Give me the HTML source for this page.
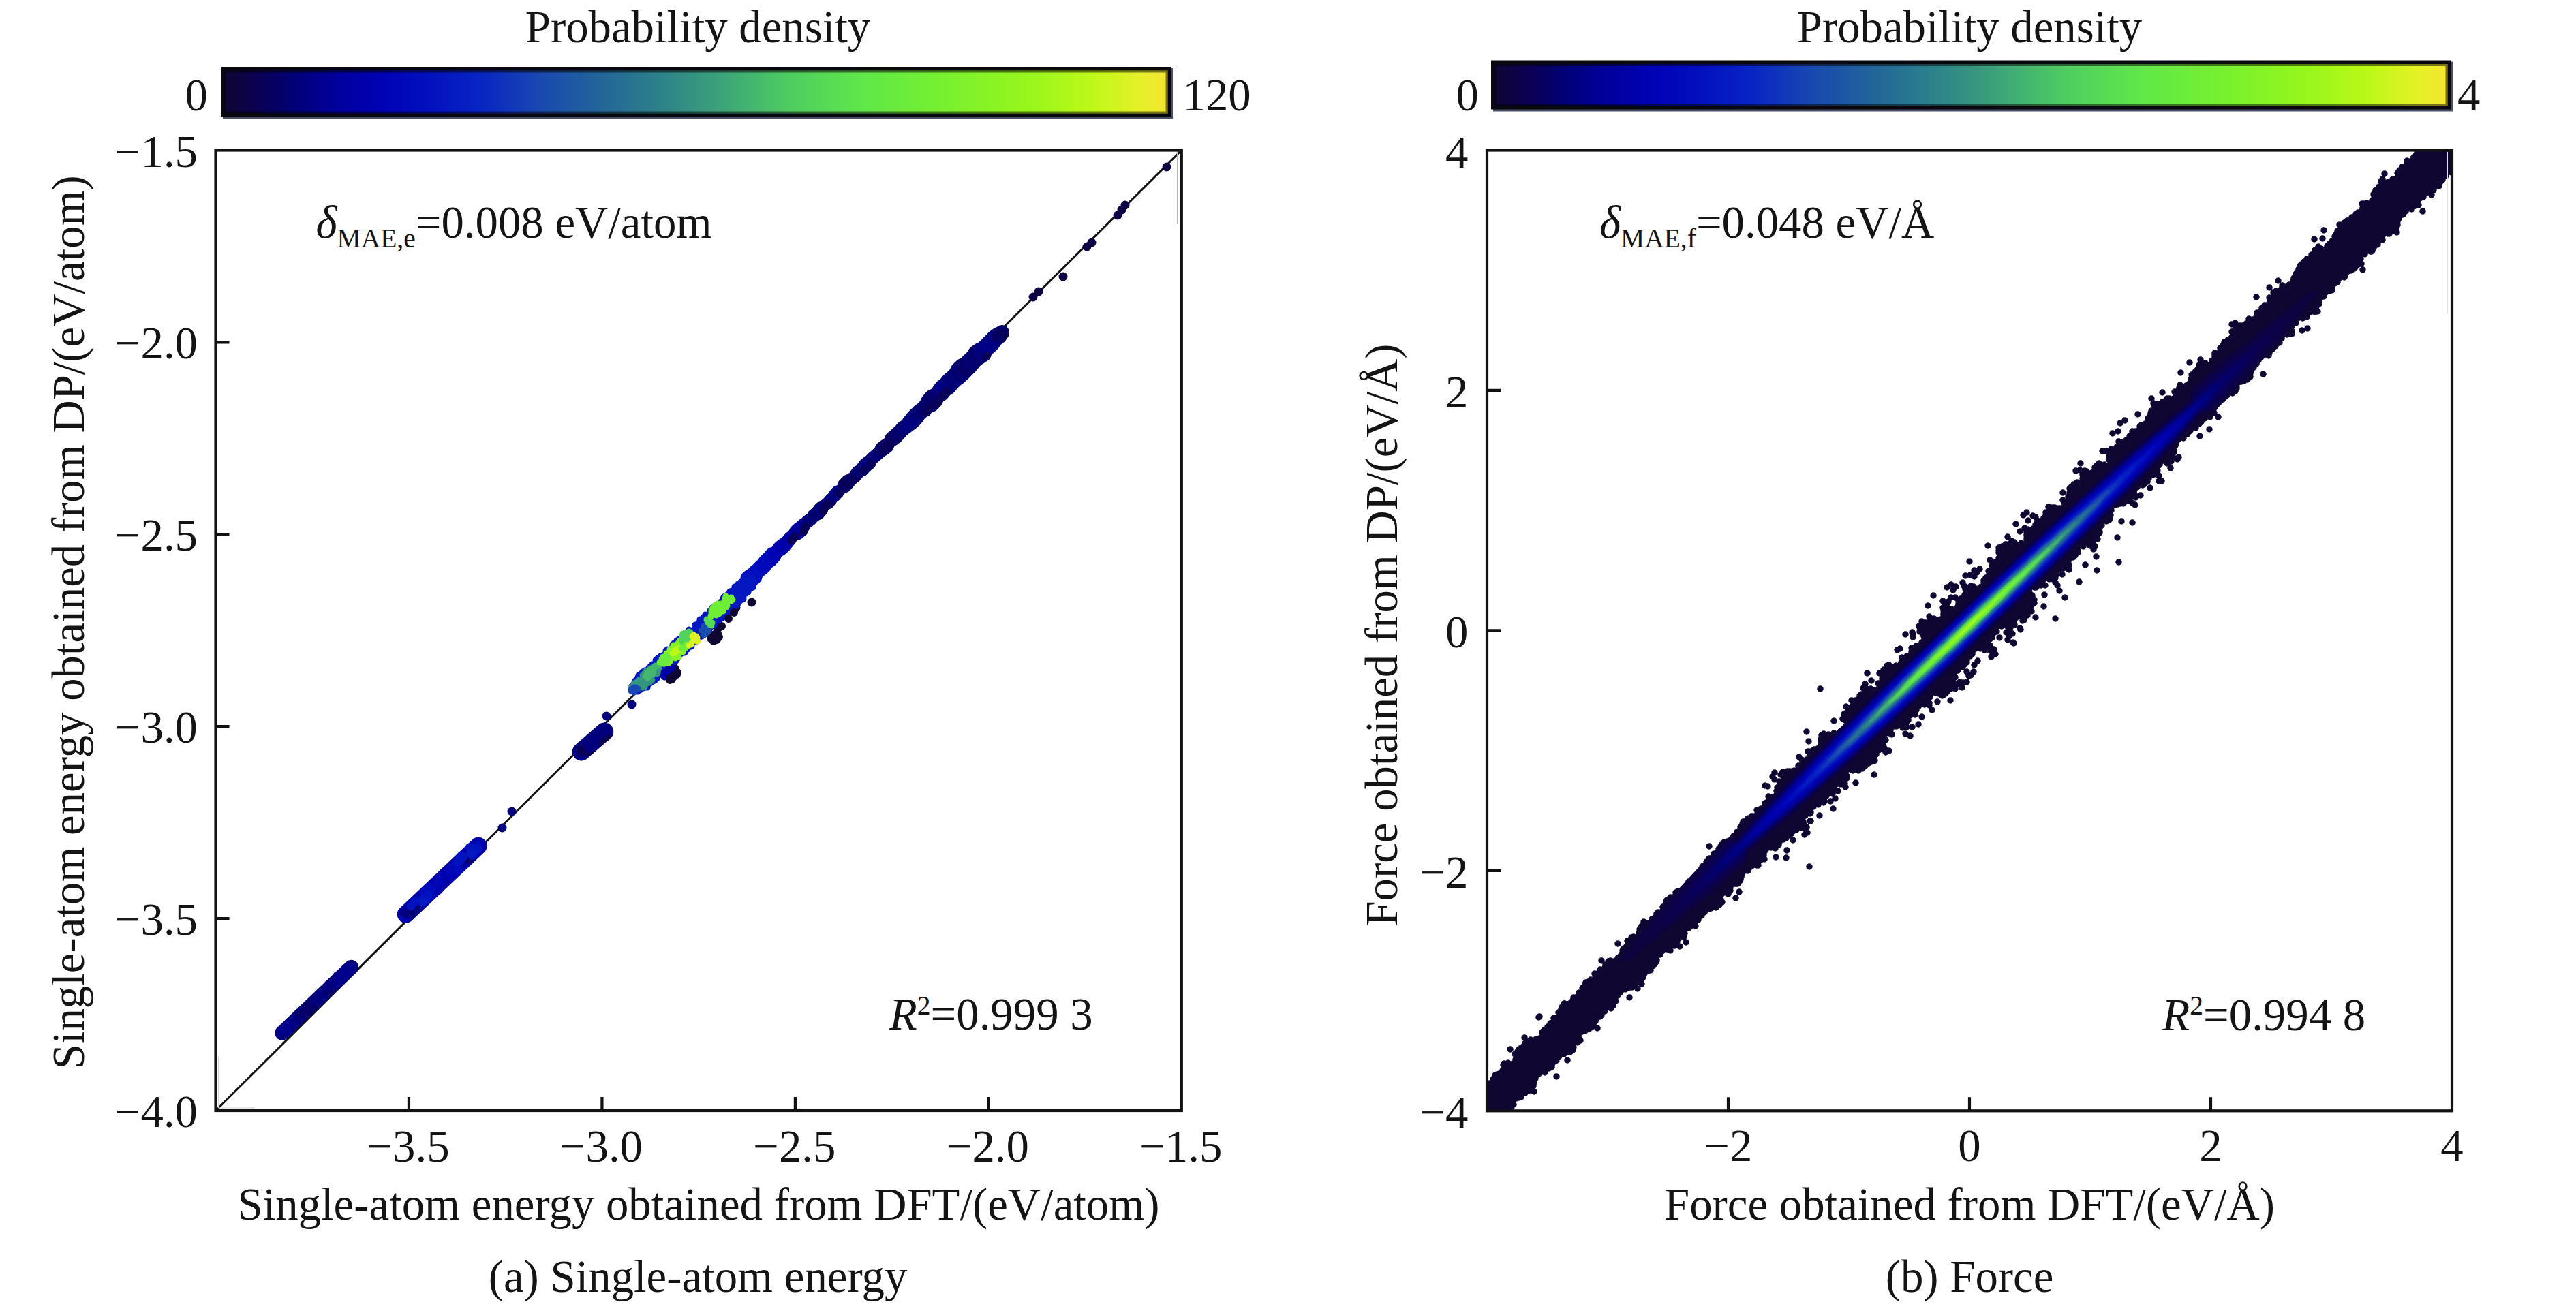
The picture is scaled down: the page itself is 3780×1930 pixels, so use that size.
<!DOCTYPE html>
<html><head><meta charset="utf-8"><title>Figure</title>
<style>html,body{margin:0;padding:0;background:#fff}svg{display:block}text{font-family:"Liberation Serif","Times New Roman",serif;fill:#141414;font-size:66.8px}.s{font-size:39.5px}.i{font-style:italic}</style></head><body>
<svg width="3780" height="1930" viewBox="0 0 3780 1930">
<rect width="3780" height="1930" fill="#fff"/>
<defs><linearGradient id="cm" x1="0" x2="1" y1="0" y2="0"><stop offset="0.000" stop-color="#100632"/><stop offset="0.035" stop-color="#0a0052"/><stop offset="0.075" stop-color="#020078"/><stop offset="0.120" stop-color="#00009e"/><stop offset="0.165" stop-color="#0002b4"/><stop offset="0.210" stop-color="#020ebe"/><stop offset="0.270" stop-color="#0824c4"/><stop offset="0.330" stop-color="#1846b2"/><stop offset="0.400" stop-color="#226698"/><stop offset="0.470" stop-color="#2e8688"/><stop offset="0.530" stop-color="#3ca578"/><stop offset="0.600" stop-color="#4ecd60"/><stop offset="0.680" stop-color="#60e848"/><stop offset="0.760" stop-color="#76f030"/><stop offset="0.850" stop-color="#96f61c"/><stop offset="0.920" stop-color="#bef818"/><stop offset="0.970" stop-color="#e6f028"/><stop offset="1.000" stop-color="#f4e430"/></linearGradient></defs>
<rect x="327" y="100" width="1394" height="74" fill="#4b5068"/><rect x="324" y="98" width="1394" height="73" fill="#08080e"/><rect x="328.5" y="103.5" width="1385" height="63" fill="url(#cm)"/><rect x="330" y="105" width="1382" height="60" fill="none" stroke="#000" stroke-opacity="0.5" stroke-width="3"/>
<text x="1024" y="61.5" text-anchor="middle">Probability density</text>
<text x="305" y="162.3" text-anchor="end">0</text><text x="1735.5" y="162.3">120</text>
<line x1="316.5" y1="1630" x2="1733.8" y2="220.5" stroke="#111" stroke-width="3"/>
<line x1="414.0" y1="1516.0" x2="515.5" y2="1419.5" stroke="#02007d" stroke-width="21.5" stroke-linecap="round"/>
<line x1="595.5" y1="1342.0" x2="702.0" y2="1241.5" stroke="#0001ad" stroke-width="25.5" stroke-linecap="round"/>
<line x1="853.0" y1="1103.3" x2="887.0" y2="1073.8" stroke="#02007d" stroke-width="26.5" stroke-linecap="round"/>
<line x1="1099.6" y1="849.6" x2="1105.5" y2="845.6" stroke="#0312bf" stroke-width="26.4" stroke-linecap="round"/>
<line x1="1105.5" y1="845.6" x2="1109.6" y2="839.8" stroke="#0414c0" stroke-width="23.5" stroke-linecap="round"/>
<line x1="1109.6" y1="839.8" x2="1114.8" y2="835.1" stroke="#020bbc" stroke-width="20.4" stroke-linecap="round"/>
<line x1="1114.8" y1="835.1" x2="1120.1" y2="830.5" stroke="#020fbe" stroke-width="23.7" stroke-linecap="round"/>
<line x1="1120.1" y1="830.5" x2="1124.2" y2="824.7" stroke="#010abb" stroke-width="21.0" stroke-linecap="round"/>
<line x1="1124.2" y1="824.7" x2="1129.7" y2="820.3" stroke="#0108b9" stroke-width="23.6" stroke-linecap="round"/>
<line x1="1129.7" y1="820.3" x2="1134.3" y2="815.0" stroke="#0109b9" stroke-width="24.4" stroke-linecap="round"/>
<line x1="1134.3" y1="815.0" x2="1139.4" y2="810.2" stroke="#0004b6" stroke-width="16.8" stroke-linecap="round"/>
<line x1="1139.4" y1="810.2" x2="1144.4" y2="805.3" stroke="#0002b1" stroke-width="20.5" stroke-linecap="round"/>
<line x1="1144.4" y1="805.3" x2="1149.7" y2="800.7" stroke="#0002b3" stroke-width="22.5" stroke-linecap="round"/>
<line x1="1149.7" y1="800.7" x2="1154.9" y2="796.0" stroke="#0001ab" stroke-width="20.2" stroke-linecap="round"/>
<line x1="1154.9" y1="796.0" x2="1159.3" y2="790.5" stroke="#0001a9" stroke-width="20.4" stroke-linecap="round"/>
<line x1="1159.3" y1="790.5" x2="1164.0" y2="785.3" stroke="#0001a5" stroke-width="18.8" stroke-linecap="round"/>
<line x1="1164.0" y1="785.3" x2="1169.6" y2="781.0" stroke="#0000a3" stroke-width="18.2" stroke-linecap="round"/>
<line x1="1169.6" y1="781.0" x2="1174.8" y2="776.3" stroke="#000096" stroke-width="23.5" stroke-linecap="round"/>
<line x1="1174.8" y1="776.3" x2="1179.3" y2="770.9" stroke="#00009c" stroke-width="20.9" stroke-linecap="round"/>
<line x1="1179.3" y1="770.9" x2="1184.3" y2="766.0" stroke="#010093" stroke-width="16.8" stroke-linecap="round"/>
<line x1="1184.3" y1="766.0" x2="1190.0" y2="761.8" stroke="#020081" stroke-width="19.1" stroke-linecap="round"/>
<line x1="1190.0" y1="761.8" x2="1194.5" y2="756.5" stroke="#020076" stroke-width="17.8" stroke-linecap="round"/>
<line x1="1194.5" y1="756.5" x2="1200.4" y2="752.4" stroke="#030074" stroke-width="20.0" stroke-linecap="round"/>
<line x1="1200.4" y1="752.4" x2="1204.7" y2="746.9" stroke="#04006f" stroke-width="21.3" stroke-linecap="round"/>
<line x1="1204.7" y1="746.9" x2="1209.7" y2="741.9" stroke="#02007e" stroke-width="15.7" stroke-linecap="round"/>
<line x1="1209.7" y1="741.9" x2="1215.4" y2="737.7" stroke="#02007b" stroke-width="17.7" stroke-linecap="round"/>
<line x1="1215.4" y1="737.7" x2="1219.9" y2="732.4" stroke="#02007b" stroke-width="18.5" stroke-linecap="round"/>
<line x1="1219.9" y1="732.4" x2="1224.7" y2="727.2" stroke="#010085" stroke-width="16.4" stroke-linecap="round"/>
<line x1="1224.7" y1="727.2" x2="1229.2" y2="721.9" stroke="#010082" stroke-width="19.2" stroke-linecap="round"/>
<line x1="1229.2" y1="721.9" x2="1235.2" y2="718.0" stroke="#02007d" stroke-width="15.5" stroke-linecap="round"/>
<line x1="1235.2" y1="718.0" x2="1239.5" y2="712.4" stroke="#040070" stroke-width="14.0" stroke-linecap="round"/>
<line x1="1239.5" y1="712.4" x2="1244.3" y2="707.2" stroke="#060063" stroke-width="21.5" stroke-linecap="round"/>
<line x1="1244.3" y1="707.2" x2="1249.8" y2="702.8" stroke="#090057" stroke-width="18.8" stroke-linecap="round"/>
<line x1="1249.8" y1="702.8" x2="1255.2" y2="698.4" stroke="#05006a" stroke-width="17.1" stroke-linecap="round"/>
<line x1="1255.2" y1="698.4" x2="1259.3" y2="692.5" stroke="#05006a" stroke-width="19.4" stroke-linecap="round"/>
<line x1="1259.3" y1="692.5" x2="1265.3" y2="688.7" stroke="#030074" stroke-width="16.1" stroke-linecap="round"/>
<line x1="1265.3" y1="688.7" x2="1269.8" y2="683.3" stroke="#030074" stroke-width="20.8" stroke-linecap="round"/>
<line x1="1269.8" y1="683.3" x2="1275.2" y2="678.8" stroke="#02007b" stroke-width="21.3" stroke-linecap="round"/>
<line x1="1275.2" y1="678.8" x2="1279.5" y2="673.1" stroke="#010082" stroke-width="16.6" stroke-linecap="round"/>
<line x1="1279.5" y1="673.1" x2="1284.9" y2="668.7" stroke="#030075" stroke-width="18.8" stroke-linecap="round"/>
<line x1="1284.9" y1="668.7" x2="1290.1" y2="664.0" stroke="#030071" stroke-width="18.7" stroke-linecap="round"/>
<line x1="1290.1" y1="664.0" x2="1294.8" y2="658.8" stroke="#030074" stroke-width="19.3" stroke-linecap="round"/>
<line x1="1294.8" y1="658.8" x2="1300.5" y2="654.6" stroke="#060064" stroke-width="22.1" stroke-linecap="round"/>
<line x1="1300.5" y1="654.6" x2="1305.0" y2="649.2" stroke="#08005a" stroke-width="18.9" stroke-linecap="round"/>
<line x1="1305.0" y1="649.2" x2="1309.6" y2="643.9" stroke="#070060" stroke-width="18.4" stroke-linecap="round"/>
<line x1="1309.6" y1="643.9" x2="1315.1" y2="639.4" stroke="#08005c" stroke-width="22.5" stroke-linecap="round"/>
<line x1="1315.1" y1="639.4" x2="1320.0" y2="634.4" stroke="#060064" stroke-width="21.8" stroke-linecap="round"/>
<line x1="1320.0" y1="634.4" x2="1324.7" y2="629.3" stroke="#04006e" stroke-width="21.4" stroke-linecap="round"/>
<line x1="1324.7" y1="629.3" x2="1330.6" y2="625.3" stroke="#030071" stroke-width="21.9" stroke-linecap="round"/>
<line x1="1330.6" y1="625.3" x2="1335.5" y2="620.3" stroke="#010082" stroke-width="19.1" stroke-linecap="round"/>
<line x1="1335.5" y1="620.3" x2="1340.4" y2="615.3" stroke="#02007a" stroke-width="24.1" stroke-linecap="round"/>
<line x1="1340.4" y1="615.3" x2="1345.0" y2="610.0" stroke="#02007e" stroke-width="25.1" stroke-linecap="round"/>
<line x1="1345.0" y1="610.0" x2="1349.7" y2="604.7" stroke="#020078" stroke-width="22.3" stroke-linecap="round"/>
<line x1="1349.7" y1="604.7" x2="1355.4" y2="600.6" stroke="#030072" stroke-width="23.8" stroke-linecap="round"/>
<line x1="1355.4" y1="600.6" x2="1360.2" y2="595.5" stroke="#040070" stroke-width="22.9" stroke-linecap="round"/>
<line x1="1360.2" y1="595.5" x2="1365.3" y2="590.6" stroke="#050068" stroke-width="25.0" stroke-linecap="round"/>
<line x1="1365.3" y1="590.6" x2="1369.9" y2="585.4" stroke="#05006b" stroke-width="29.3" stroke-linecap="round"/>
<line x1="1369.9" y1="585.4" x2="1374.8" y2="580.3" stroke="#060064" stroke-width="24.5" stroke-linecap="round"/>
<line x1="1374.8" y1="580.3" x2="1380.0" y2="575.7" stroke="#030072" stroke-width="22.5" stroke-linecap="round"/>
<line x1="1380.0" y1="575.7" x2="1384.3" y2="570.0" stroke="#040070" stroke-width="27.3" stroke-linecap="round"/>
<line x1="1384.3" y1="570.0" x2="1390.1" y2="566.0" stroke="#010088" stroke-width="26.2" stroke-linecap="round"/>
<line x1="1390.1" y1="566.0" x2="1394.5" y2="560.5" stroke="#010087" stroke-width="28.0" stroke-linecap="round"/>
<line x1="1394.5" y1="560.5" x2="1399.7" y2="555.8" stroke="#02007a" stroke-width="27.6" stroke-linecap="round"/>
<line x1="1399.7" y1="555.8" x2="1404.9" y2="551.1" stroke="#030072" stroke-width="24.2" stroke-linecap="round"/>
<line x1="1404.9" y1="551.1" x2="1409.3" y2="545.5" stroke="#02007d" stroke-width="28.8" stroke-linecap="round"/>
<line x1="1409.3" y1="545.5" x2="1414.2" y2="540.6" stroke="#030072" stroke-width="30.9" stroke-linecap="round"/>
<line x1="1414.2" y1="540.6" x2="1420.0" y2="536.5" stroke="#05006b" stroke-width="27.8" stroke-linecap="round"/>
<line x1="1420.0" y1="536.5" x2="1424.6" y2="531.2" stroke="#050068" stroke-width="28.7" stroke-linecap="round"/>
<line x1="1424.6" y1="531.2" x2="1429.5" y2="526.2" stroke="#04006d" stroke-width="26.7" stroke-linecap="round"/>
<line x1="1429.5" y1="526.2" x2="1434.3" y2="521.1" stroke="#030073" stroke-width="28.0" stroke-linecap="round"/>
<line x1="1434.3" y1="521.1" x2="1440.2" y2="517.1" stroke="#05006b" stroke-width="30.3" stroke-linecap="round"/>
<line x1="1440.2" y1="517.1" x2="1444.5" y2="511.5" stroke="#02007a" stroke-width="24.9" stroke-linecap="round"/>
<line x1="1444.5" y1="511.5" x2="1450.1" y2="507.2" stroke="#02007d" stroke-width="23.9" stroke-linecap="round"/>
<line x1="1450.1" y1="507.2" x2="1455.1" y2="502.3" stroke="#01008a" stroke-width="26.6" stroke-linecap="round"/>
<line x1="1455.1" y1="502.3" x2="1459.5" y2="496.8" stroke="#010082" stroke-width="23.8" stroke-linecap="round"/>
<line x1="1459.5" y1="496.8" x2="1465.2" y2="492.6" stroke="#020080" stroke-width="25.3" stroke-linecap="round"/>
<line x1="1465.2" y1="492.6" x2="1470.2" y2="487.7" stroke="#060065" stroke-width="21.6" stroke-linecap="round"/>
<path d="M1103 884h0M1080 892h0M1073 896h0M1048 932h0M1053 923h0M1045 938h0M985 987h0M990 981h0M978 991h0" stroke="#100632" stroke-width="13" stroke-linecap="round" fill="none"/>
<path d="M879 1085h0M1516 436h0M1524 428h0M1560 406h0M1595 362h0M1602 356h0M1640 316h0M1646 308h0M1651 301h0M1712 245h0M876 1090h0M889 1082h0M858 1101h0M866 1101h0M857 1103h0M864 1102h0M861 1100h0M879 1088h0M854 1102h0M872 1091h0M880 1088h0M859 1097h0" stroke="#0d0344" stroke-width="13" stroke-linecap="round" fill="none"/>
<path d="M1162 793h0M1166 788h0M1179 780h0M1182 774h0M1208 750h0M1211 743h0M1217 740h0M1232 724h0M1252 705h0M1267 690h0M1278 682h0M1297 661h0M1307 652h0M1360 605h0M1364 599h0M1376 591h0M1379 585h0M1384 579h0M1390 575h0M1447 523h0M1474 491h0M855 1097h0M852 1101h0M854 1098h0M856 1103h0M451 1484h0M449 1478h0M454 1482h0M451 1485h0" stroke="#090057" stroke-width="13" stroke-linecap="round" fill="none"/>
<path d="M689 1257h0M454 1477h0M690 1262h0M676 1267h0M453 1478h0M457 1474h0M447 1487h0M446 1486h0M689 1261h0M463 1475h0M479 1453h0M480 1448h0M440 1495h0M459 1470h0M443 1491h0M693 1258h0M460 1477h0M686 1261h0M444 1487h0M476 1452h0M439 1498h0M485 1455h0M472 1456h0M473 1458h0M436 1489h0M463 1470h0M442 1491h0" stroke="#05006a" stroke-width="13" stroke-linecap="round" fill="none"/>
<path d="M872 1094h0M611 1328h0M866 1091h0M870 1084h0M876 1079h0M881 1073h0M463 1469h0M873 1093h0M600 1339h0M469 1458h0M600 1342h0M594 1340h0M432 1495h0M482 1448h0M878 1074h0M860 1092h0M607 1338h0M485 1444h0M883 1077h0M428 1503h0M438 1499h0M868 1094h0M881 1071h0M602 1332h0M616 1324h0M872 1082h0M474 1453h0M615 1325h0M492 1445h0M864 1087h0M610 1336h0M873 1088h0M482 1445h0M871 1081h0M869 1087h0M882 1079h0M472 1465h0M429 1499h0M886 1073h0M606 1340h0M866 1091h0M431 1497h0M876 1076h0M613 1334h0M868 1097h0M495 1432h0M468 1459h0M469 1470h0M861 1091h0M422 1505h0M495 1443h0M427 1500h0M488 1446h0M468 1467h0M604 1341h0M425 1512h0M879 1076h0M602 1342h0M502 1428h0M878 1078h0M470 1468h0M737 1215h0M751 1191h0M890 1051h0M927 1034h0M877 1081h0M616 1324h0M414 1515h0M489 1440h0M426 1505h0M507 1434h0M886 1076h0M417 1508h0M609 1331h0M496 1434h0M864 1094h0M865 1099h0" stroke="#02007c" stroke-width="13" stroke-linecap="round" fill="none"/>
<path d="M498 1433h0M423 1505h0M415 1511h0M414 1512h0M424 1513h0M499 1440h0M508 1426h0M496 1442h0M507 1422h0M502 1432h0M507 1430h0M513 1425h0M510 1421h0M514 1420h0M514 1423h0" stroke="#01008d" stroke-width="13" stroke-linecap="round" fill="none"/>
<path d="M638 1306h0M652 1294h0M644 1301h0" stroke="#00009e" stroke-width="13" stroke-linecap="round" fill="none"/>
<path d="M640 1303h0M644 1306h0M651 1285h0M652 1284h0" stroke="#0001a8" stroke-width="13" stroke-linecap="round" fill="none"/>
<path d="M651 1281h0M643 1293h0M657 1284h0M650 1287h0M654 1278h0M638 1294h0M642 1289h0M647 1295h0M647 1285h0M654 1283h0M662 1284h0M644 1288h0M637 1302h0M665 1283h0" stroke="#0002b2" stroke-width="13" stroke-linecap="round" fill="none"/>
<path d="M667 1281h0M642 1296h0M661 1280h0M664 1270h0M634 1303h0M666 1273h0M669 1279h0M667 1269h0M631 1302h0M667 1279h0" stroke="#0106b7" stroke-width="13" stroke-linecap="round" fill="none"/>
<path d="M670 1268h0M672 1269h0M701 1241h0M673 1275h0M633 1307h0M701 1244h0M629 1305h0M623 1309h0M623 1308h0M626 1306h0M627 1305h0M698 1245h0M675 1263h0M677 1260h0M677 1256h0M676 1264h0" stroke="#020bbc" stroke-width="13" stroke-linecap="round" fill="none"/>
<path d="M629 1313h0M701 1246h0M672 1265h0M689 1244h0M608 1324h0M676 1260h0M603 1330h0M693 1256h0M623 1320h0M698 1248h0M621 1320h0M625 1316h0M680 1257h0M627 1319h0M620 1324h0M610 1322h0M695 1254h0M695 1251h0M692 1244h0M622 1317h0" stroke="#0312bf" stroke-width="13" stroke-linecap="round" fill="none"/>
<path d="M621 1323h0M691 1252h0" stroke="#0519c1" stroke-width="13" stroke-linecap="round" fill="none"/>
<path d="M928 1012h0M928 1012h0M927 1010h0M931 1014h0M928 1010h0M928 1010h0M930 1012h0M934 1015h0M927 1007h0M933 1013h0M932 1011h0M928 1006h0M936 1015h0M936 1014h0M931 1008h0M930 1007h0M935 1011h0M936 1012h0M936 1012h0M934 1010h0M937 1012h0M939 1013h0M933 1006h0M932 1005h0M937 1010h0M931 1003h0M937 1008h0M933 1004h0M931 1001h0M936 1006h0M938 1008h0M937 1006h0M934 1003h0M940 1008h0M932 999h0M940 1008h0M935 1002h0M944 1010h0M933 998h0M938 1003h0M935 1000h0M943 1007h0M936 999h0M938 1001h0M937 999h0M944 1007h0M947 1009h0M937 998h0M940 1001h0M948 1009h0M940 1000h0M949 1009h0M936 994h0M941 999h0M949 1007h0M950 1009h0M941 997h0M950 1007h0M937 992h0M942 998h0M942 997h0M937 991h0M943 997h0M940 993h0M941 994h0M950 1003h0M945 997h0M946 997h0M953 1004h0M944 995h0M940 989h0M952 1002h0M941 989h0M941 989h0M944 992h0M954 1002h0M945 992h0M950 997h0M952 999h0M946 991h0M953 999h0M952 997h0M943 986h0M950 994h0M957 1001h0M947 990h0M951 993h0M947 988h0M955 997h0M956 997h0M949 990h0M950 990h0M946 985h0M956 996h0M946 984h0M954 992h0M960 999h0M961 999h0M948 984h0M954 990h0M954 989h0M953 989h0M958 992h0M960 995h0M950 983h0M953 986h0M954 987h0M952 984h0M953 984h0M962 994h0M954 985h0M964 996h0M953 983h0M960 989h0M952 980h0M963 992h0M965 993h0M956 983h0M954 981h0M961 987h0M958 983h0M959 984h0M964 990h0M954 978h0M962 986h0M959 982h0M956 979h0M963 985h0M957 979h0M959 981h0M957 978h0M958 978h0M963 983h0M957 976h0M964 983h0M957 975h0M966 985h0M961 978h0M971 989h0M965 982h0M963 979h0M972 989h0M960 975h0M961 975h0M971 986h0M971 985h0M972 986h0M961 974h0M967 980h0M973 985h0M969 981h0M967 978h0M964 975h0M974 985h0M968 977h0M975 985h0M963 971h0M976 984h0M962 969h0M968 974h0M971 978h0M965 970h0M966 971h0M975 981h0M966 970h0M969 973h0M969 973h0M967 970h0M978 981h0M973 975h0M965 966h0M967 967h0M973 974h0M970 970h0M974 974h0M976 975h0M973 971h0M976 974h0M970 968h0M979 976h0M970 966h0M969 965h0M974 970h0M974 970h0M969 963h0M970 963h0M980 975h0M970 963h0M975 968h0M972 963h0M985 977h0M982 974h0M985 977h0M985 976h0M973 963h0M985 975h0M976 965h0M974 962h0M976 964h0M974 961h0M986 974h0M976 963h0M978 963h0M976 961h0M987 973h0M987 972h0M985 970h0M982 966h0M980 963h0M983 966h0M988 971h0M990 972h0M981 962h0M980 960h0M985 965h0M987 968h0M979 958h0M977 955h0M981 959h0M992 970h0M987 965h0M978 954h0M980 956h0M985 960h0M992 968h0M982 957h0M979 953h0M984 958h0M985 958h0M988 961h0M983 955h0M987 959h0M994 967h0M983 954h0M990 961h0M993 963h0M985 955h0M991 961h0M987 956h0M989 957h0M993 961h0M996 964h0M991 958h0M987 953h0M995 961h0M992 957h0M986 950h0M993 958h0M994 958h0M987 950h0M989 952h0M998 961h0M996 958h0M998 960h0M993 954h0M993 953h0M988 947h0M987 946h0M998 957h0M1000 959h0M991 949h0M994 952h0M996 953h0M998 954h0M992 947h0M989 944h0M992 947h0M1003 958h0M994 948h0M995 948h0M1003 957h0M1001 953h0M1005 958h0M1003 955h0M1004 955h0M1002 953h0M996 946h0M1001 951h0M1005 955h0M993 941h0M1006 955h0M995 942h0M993 940h0M1003 950h0M1005 951h0M1002 949h0M1006 952h0M1008 953h0M1007 952h0M1009 953h0M998 941h0M996 938h0M1008 950h0M1008 950h0M1000 941h0M998 938h0M1000 940h0M1003 943h0M1001 940h0M1008 947h0M1002 941h0M1005 943h0M1007 945h0M1004 942h0M1010 947h0M1009 946h0M1002 938h0M1001 935h0M1002 936h0M1003 937h0M1015 949h0M1008 941h0M1012 946h0M1008 940h0M1013 946h0M1015 947h0M1005 935h0M1009 939h0M1011 942h0M1014 944h0M1014 943h0M1008 936h0M1009 937h0M1005 931h0M1004 930h0M1008 934h0M1012 937h0M1017 943h0M1011 936h0M1016 941h0M1015 939h0M1010 934h0M1018 942h0M1017 940h0M1013 935h0M1015 937h0M1013 935h0M1011 931h0M1012 932h0M1020 940h0M1010 929h0M1013 931h0M1011 928h0M1011 929h0M1020 937h0M1023 941h0M1015 931h0M1021 937h0M1016 931h0M1019 934h0M1013 927h0M1011 924h0M1022 936h0M1018 931h0M1018 930h0M1020 932h0M1023 934h0M1018 929h0M1023 934h0M1016 925h0M1026 936h0M1023 933h0M1023 932h0M1020 928h0M1023 931h0M1020 927h0M1025 932h0M1018 924h0M1021 927h0M1021 926h0M1029 934h0M1025 930h0M1022 925h0M1030 934h0M1024 927h0M1028 931h0M1025 926h0M1025 927h0M1028 929h0M1027 927h0M1026 925h0M1032 932h0M1028 927h0M1030 928h0M1033 932h0M1020 917h0M1025 922h0M1026 922h0M1030 926h0M1024 919h0M1031 927h0M1029 923h0M1033 927h0M1024 917h0M1033 926h0M1031 924h0M1030 922h0M1036 929h0M1032 923h0M1035 926h0M1027 917h0M1025 914h0M1029 917h0M1028 916h0M1028 915h0M1027 914h0M1035 923h0M1028 915h0M1032 918h0M1035 920h0M1031 916h0M1038 923h0M1038 923h0M1038 922h0M1039 922h0M1027 909h0M1041 924h0M1031 912h0M1029 910h0M1039 920h0M1030 910h0M1040 920h0M1042 922h0M1040 919h0M1042 921h0M1042 920h0M1040 917h0M1041 918h0M1043 920h0M1034 910h0M1032 907h0M1032 906h0M1033 907h0M1039 913h0M1044 918h0M1044 918h0M1040 913h0M1045 917h0M1039 910h0M1034 904h0M1042 913h0M1042 913h0M1047 917h0M1048 918h0M1041 910h0M1035 902h0M1044 912h0M1047 915h0M1042 909h0M1047 913h0M1042 908h0M1044 909h0M1040 905h0M1042 906h0M1041 904h0M1051 915h0M1049 912h0M1042 904h0M1046 908h0M1049 911h0M1049 910h0M1046 907h0M1043 903h0M1041 901h0M1048 907h0M1051 910h0M1049 907h0M1049 907h0M1049 906h0M1043 899h0M1047 903h0M1042 897h0M1042 896h0M1055 910h0M1047 901h0M1054 907h0M1046 899h0M1049 901h0M1049 901h0M1057 909h0M1051 903h0M1045 895h0M1052 902h0M1051 900h0M1050 899h0M1058 908h0M1052 900h0M1046 894h0M1048 895h0M1045 892h0M1056 902h0M1060 907h0M1059 905h0M1047 891h0M1050 894h0M1050 893h0M1059 902h0M1060 903h0M1049 891h0M1058 901h0M1062 904h0M1063 904h0M1049 889h0M1058 899h0M1050 889h0M1060 900h0M1062 901h0M1051 888h0M1059 896h0M1060 898h0M1062 900h0M1060 897h0M1057 893h0M1063 899h0M1063 898h0M1056 890h0M1067 901h0M1065 898h0M1062 895h0M1065 898h0M1058 889h0M1067 898h0M1064 895h0M1067 898h0M1058 888h0M1058 887h0M1063 892h0M1068 897h0M1067 896h0M1068 896h0M1060 886h0M1068 895h0M1070 896h0M1058 883h0M1069 894h0M1068 893h0M1061 884h0M1068 891h0M1061 883h0M1069 892h0M1065 887h0M1070 892h0M1062 883h0M1072 893h0M1067 887h0M1068 888h0M1063 881h0M1070 889h0M1069 887h0M1068 886h0M1061 878h0M1067 883h0M1071 887h0M1064 879h0M1067 882h0M1062 876h0M1077 892h0M1070 883h0M1067 880h0M1069 882h0M1075 887h0M1078 890h0M1064 875h0M1067 877h0M1065 875h0M1078 888h0M1079 889h0M1066 874h0M1071 879h0M1080 888h0M1074 882h0M1080 888h0M1072 878h0M1069 874h0M1082 888h0M1068 872h0M1073 877h0M1081 885h0M1069 871h0M1079 882h0M1083 886h0M1071 872h0M1083 885h0M1074 874h0M1081 882h0M1074 874h0M1072 871h0M1073 871h0M1072 871h0M1071 868h0M1074 871h0M1085 883h0M1085 883h0M1085 882h0M1078 874h0M1086 882h0M1082 877h0M1078 872h0M1080 874h0M1075 868h0M1074 867h0M1082 874h0M1087 879h0M1080 872h0M1078 869h0M1080 870h0M1082 872h0M1089 879h0M1090 880h0M1089 878h0M1079 867h0M1080 868h0M1079 866h0M1091 879h0M1091 877h0M1081 867h0M1078 863h0M1082 866h0M1078 862h0M1083 867h0M1078 861h0M1087 869h0M1085 868h0M1083 864h0M1082 862h0M1091 872h0M1083 863h0M1081 861h0M1088 867h0M1084 862h0M1092 870h0M1090 868h0M1082 859h0M1088 864h0M1083 858h0M1087 863h0M1095 871h0M1083 857h0M1090 864h0M1087 861h0M1096 870h0M1086 859h0M1093 865h0M1092 864h0M1092 864h0M1095 867h0M1098 869h0M1096 866h0M1097 866h0M1098 868h0M1094 862h0M1094 862h0M1087 854h0M1091 857h0M1089 855h0M1099 866h0M1090 855h0M1091 856h0M1097 862h0M1096 860h0M1091 854h0M1099 862h0M1092 854h0M1097 859h0M1092 854h0M1093 854h0M1102 863h0M1099 859h0M1094 854h0M1103 863h0M1098 856h0M1099 857h0M1104 862h0M1098 855h0M1098 855h0M1105 862h0M1104 860h0M1104 859h0M1101 856h0M1105 860h0M1100 854h0M1100 853h0M1098 850h0M1102 854h0M1099 851h0M1105 856h0M1104 855h0M1106 857h0M1099 849h0M1101 851h0M1102 851h0M1107 856h0M1102 850h0M1104 851h0M1103 850h0M1106 853h0M1106 852h0M1106 851h0M1105 851h0M1104 848h0" stroke="#0417c0" stroke-width="9" stroke-linecap="round" fill="none"/>
<path d="M937 1003h0M935 1001h0M929 1013h0M963 984h0M952 995h0M936 1011h0M946 998h0M952 991h0M936 1000h0M935 1007h0M943 1002h0M960 978h0M949 994h0M941 1008h0M963 980h0M926 1012h0M947 1001h0M927 1008h0M930 1008h0M942 1004h0M956 996h0M961 983h0M960 989h0M958 985h0M962 987h0M960 986h0M952 1002h0M949 992h0M964 989h0M950 990h0M944 997h0M954 984h0M943 1001h0M940 998h0M964 989h0M946 995h0M931 1006h0M932 1011h0M946 988h0M964 977h0M966 986h0M948 1004h0M950 993h0M954 1001h0M948 996h0M954 987h0M942 1003h0M946 1008h0M955 989h0M928 1011h0M943 1001h0M955 998h0M967 977h0M946 1000h0M952 999h0M930 1007h0M943 991h0M967 982h0M963 979h0M929 1007h0M948 996h0M930 1005h0M954 992h0M948 985h0M946 1003h0M941 1006h0M963 983h0M951 985h0M948 997h0M938 1007h0M954 1001h0M949 992h0M954 981h0M952 999h0M956 995h0M957 983h0M955 985h0M930 1006h0M949 991h0M943 997h0M956 998h0M946 1000h0M943 1009h0M959 981h0M957 998h0M952 1002h0M934 1005h0M953 984h0M943 1008h0M950 1000h0M932 1002h0M937 998h0" stroke="#359680" stroke-width="9" stroke-linecap="round" fill="none"/>
<path d="M956 981h0M957 984h0M953 984h0M950 995h0M952 987h0M949 990h0M960 981h0M951 993h0M947 992h0M958 988h0M962 977h0M955 989h0M957 990h0M956 983h0M954 984h0M960 979h0M966 977h0M953 986h0M958 981h0M958 985h0M953 991h0M955 988h0M957 983h0M952 985h0M952 994h0M954 990h0M949 993h0M954 988h0M950 987h0" stroke="#44b66e" stroke-width="9" stroke-linecap="round" fill="none"/>
<path d="M928 1011h0M930 1016h0M929 1013h0M936 1011h0M927 1013h0M931 1010h0M931 1014h0M931 1009h0M933 1009h0M930 1009h0M934 1012h0M926 1012h0M929 1012h0M926 1014h0" stroke="#1846b2" stroke-width="9" stroke-linecap="round" fill="none"/>
<path d="M980 983h0M985 983h0M982 982h0M980 989h0M987 984h0M986 983h0M976 994h0M981 981h0M982 984h0M986 986h0M974 987h0M986 980h0M988 982h0M986 986h0M982 985h0M975 994h0M979 988h0M985 986h0M977 991h0M988 982h0M979 985h0M973 992h0" stroke="#0000a3" stroke-width="9" stroke-linecap="round" fill="none"/>
<path d="M986 994h0M984 995h0M991 991h0M984 996h0M988 993h0M994 987h0M986 997h0M983 998h0M986 996h0M989 993h0M983 998h0M989 992h0M993 990h0" stroke="#100632" stroke-width="12" stroke-linecap="round" fill="none"/>
<path d="M975 966h0M983 957h0M972 968h0M983 969h0M985 952h0M985 961h0M983 956h0M979 973h0M1011 939h0M977 969h0M986 954h0M988 947h0M1010 943h0M1002 957h0M995 947h0M978 960h0M1003 941h0M982 968h0M983 971h0M1008 947h0M982 957h0M1002 942h0M988 961h0M991 964h0M996 955h0M1007 947h0M992 956h0M976 965h0M990 947h0M995 944h0M996 964h0M986 954h0M1009 948h0M1002 944h0M986 965h0M992 954h0M985 960h0M1002 954h0M983 962h0M993 951h0M985 961h0M1011 941h0M1000 951h0M985 964h0M1009 939h0M995 948h0M991 966h0M998 949h0M978 972h0M988 961h0M989 959h0M993 952h0M1008 942h0M978 959h0M990 951h0M992 957h0M982 966h0M977 969h0M990 947h0M983 953h0M994 962h0M997 957h0M997 941h0M984 955h0M1010 940h0M998 941h0M980 963h0M975 974h0M979 963h0M999 947h0M1008 943h0M1007 943h0M982 970h0M989 965h0M1003 953h0M976 967h0M991 947h0M998 958h0M996 946h0M980 966h0M1006 945h0M981 973h0M981 967h0M986 965h0" stroke="#84f327" stroke-width="9" stroke-linecap="round" fill="none"/>
<path d="M971 967h0M980 964h0M980 968h0M971 967h0M978 971h0M973 974h0M977 965h0M972 966h0M979 963h0M981 964h0M968 972h0M974 974h0M973 964h0M970 971h0M975 969h0M973 968h0M978 972h0M976 964h0M972 971h0M972 971h0M978 971h0M978 969h0" stroke="#6bec3c" stroke-width="9" stroke-linecap="round" fill="none"/>
<path d="M997 952h0M994 954h0M990 955h0M997 954h0M998 952h0M991 958h0M995 953h0M993 953h0M993 954h0M987 959h0M992 955h0M989 956h0" stroke="#bef818" stroke-width="9" stroke-linecap="round" fill="none"/>
<path d="M1002 933h0M1007 935h0M1007 932h0M1003 936h0M1012 933h0M1013 928h0M1015 931h0M1014 940h0M1009 941h0M1011 941h0M1001 941h0M1011 927h0M1001 937h0M1008 929h0M1003 933h0M1013 938h0M1007 930h0M1005 929h0M1017 936h0M1002 933h0M1004 940h0M1015 932h0M1008 941h0M1009 932h0M1009 931h0M1001 940h0M1003 943h0M1005 938h0M1007 931h0M1002 930h0M1015 931h0M1012 937h0M1001 933h0" stroke="#52d45a" stroke-width="9" stroke-linecap="round" fill="none"/>
<path d="M1000 952h0M1007 946h0M1008 947h0M1006 950h0M1006 950h0M1006 949h0M1007 947h0M1008 949h0M1007 947h0M1004 950h0M1006 951h0" stroke="#70ee36" stroke-width="9" stroke-linecap="round" fill="none"/>
<path d="M1013 946h0M1014 945h0M1014 945h0M1011 947h0M1013 946h0M1015 944h0M1011 947h0M1014 946h0" stroke="#d6f322" stroke-width="9" stroke-linecap="round" fill="none"/>
<path d="M1018 932h0M1022 934h0M1018 934h0M1020 934h0M1023 941h0M1020 940h0M1019 939h0M1023 941h0M1018 939h0M1024 941h0M1023 936h0M1016 934h0M1018 936h0" stroke="#def225" stroke-width="9" stroke-linecap="round" fill="none"/>
<path d="M1029 925h0M1039 923h0M1032 929h0M1033 932h0M1037 919h0M1040 925h0M1031 926h0M1037 928h0M1032 930h0M1035 924h0M1038 927h0M1034 931h0M1035 929h0M1036 918h0M1032 931h0M1034 920h0M1036 930h0M1040 926h0M1034 930h0M1033 919h0M1033 923h0" stroke="#194bae" stroke-width="9" stroke-linecap="round" fill="none"/>
<path d="M1037 909h0M1044 918h0M1039 914h0M1039 913h0M1042 916h0M1042 917h0M1037 909h0M1040 913h0M1041 910h0M1045 914h0M1037 910h0" stroke="#57da54" stroke-width="9" stroke-linecap="round" fill="none"/>
<path d="M1046 892h0M1043 904h0M1056 893h0M1066 885h0M1060 889h0M1073 880h0M1053 891h0M1061 897h0M1054 892h0M1052 888h0M1066 891h0M1051 898h0M1052 890h0M1044 895h0M1073 882h0M1063 882h0M1064 885h0M1071 879h0M1051 899h0M1066 881h0M1065 882h0M1061 890h0M1063 882h0M1063 886h0M1050 899h0M1055 901h0M1060 893h0M1059 889h0M1045 894h0M1073 877h0M1060 889h0M1066 877h0M1051 903h0M1059 892h0M1058 897h0M1065 875h0M1044 898h0M1044 900h0M1069 880h0M1053 886h0M1065 883h0M1061 893h0M1064 878h0M1063 882h0M1057 886h0M1052 892h0M1050 888h0M1049 900h0M1064 880h0M1050 892h0M1067 889h0M1048 898h0M1070 882h0M1050 888h0M1055 890h0M1064 881h0M1057 894h0M1068 878h0M1055 894h0M1056 895h0M1048 890h0M1066 880h0M1059 889h0M1075 880h0M1043 905h0" stroke="#70ee36" stroke-width="9" stroke-linecap="round" fill="none"/>
<path d="M1050 936h0M1054 932h0M1052 939h0M1050 937h0M1052 938h0M1054 936h0M1047 934h0M1053 935h0M1055 935h0M1045 938h0M1053 934h0M1047 941h0M1053 934h0M1047 941h0M1050 937h0" stroke="#100632" stroke-width="12" stroke-linecap="round" fill="none"/>
<path d="M1059 919h0M1069 908h0M1077 899h0M1043 937h0M1052 928h0" stroke="#100632" stroke-width="12" stroke-linecap="round" fill="none"/>
<path d="M320.5 1551V1626H374" stroke="#cfcfcf" stroke-width="1" fill="none"/>
<line x1="1727.5" y1="222" x2="1727.5" y2="329" stroke="#b8b8b8" stroke-width="1.2"/>
<rect x="316.5" y="220.5" width="1417.3" height="1409.5" fill="none" stroke="#111" stroke-width="4.2"/><path d="M599.96 1630v-20M883.42 1630v-20M1166.88 1630v-20M1450.34 1630v-20M316.5 502.4h20M316.5 784.3h20M316.5 1066.2h20M316.5 1348.1h20" stroke="#111" stroke-width="4.2" fill="none"/>
<text x="598.96" y="1704.5" text-anchor="middle">−3.5</text><text x="882.42" y="1704.5" text-anchor="middle">−3.0</text><text x="1165.88" y="1704.5" text-anchor="middle">−2.5</text><text x="1449.34" y="1704.5" text-anchor="middle">−2.0</text><text x="1732.8" y="1704.5" text-anchor="middle">−1.5</text>
<text x="290" y="1654" text-anchor="end">−4.0</text><text x="290" y="1372.1" text-anchor="end">−3.5</text><text x="290" y="1090.2" text-anchor="end">−3.0</text><text x="290" y="808.3" text-anchor="end">−2.5</text><text x="290" y="526.4" text-anchor="end">−2.0</text><text x="290" y="244.5" text-anchor="end">−1.5</text>
<text x="1025" y="1790" text-anchor="middle">Single-atom energy obtained from DFT/(eV/atom)</text>
<text transform="translate(123 913.2) rotate(-90)" text-anchor="middle">Single-atom energy obtained from DP/(eV/atom)</text>
<text x="1024" y="1896" text-anchor="middle">(a) Single-atom energy</text>
<text x="463.5" y="349"><tspan class="i">δ</tspan><tspan class="s" dy="14">MAE,e</tspan><tspan dy="-14">=0.008 eV/atom</tspan></text>
<text x="1305" y="1511"><tspan class="i">R</tspan><tspan class="s" dy="-22.5">2</tspan><tspan dy="22.5">=0.999 3</tspan></text>
<rect x="2191" y="90.5" width="1408" height="73" fill="#4b5068"/><rect x="2188" y="88.5" width="1408" height="72" fill="#08080e"/><rect x="2192.5" y="94" width="1399" height="62" fill="url(#cm)"/><rect x="2194" y="95.5" width="1396" height="59" fill="none" stroke="#000" stroke-opacity="0.5" stroke-width="3"/>
<text x="2890" y="61.5" text-anchor="middle">Probability density</text>
<text x="2170" y="162" text-anchor="end">0</text><text x="3606" y="162">4</text>
<clipPath id="rc"><rect x="2182" y="220.5" width="1416" height="1409.8"/></clipPath>
<g clip-path="url(#rc)">
<path d="M2105.4 1673.8 L2107.2 1667.9 L2109.0 1662.1 L2112.8 1658.1 L2117.2 1654.9 L2120.8 1650.8 L2124.4 1646.6 L2129.3 1643.8 L2134.5 1641.4 L2138.2 1637.4 L2140.8 1632.3 L2144.8 1628.6 L2150.8 1626.9 L2156.5 1624.9 L2160.3 1621.0 L2163.6 1616.6 L2167.5 1612.8 L2170.8 1608.4 L2172.6 1602.5 L2174.3 1596.5 L2178.2 1592.7 L2183.7 1590.5 L2188.3 1587.4 L2191.3 1582.8 L2194.6 1578.3 L2199.1 1575.1 L2203.2 1571.5 L2206.3 1566.9 L2209.8 1562.7 L2215.0 1560.3 L2220.4 1557.9 L2223.5 1553.4 L2225.2 1547.3 L2227.8 1542.2 L2232.0 1538.7 L2236.2 1535.2 L2239.8 1531.2 L2244.6 1528.2 L2250.8 1526.7 L2256.2 1524.5 L2259.4 1519.9 L2261.9 1514.7 L2265.9 1511.1 L2271.0 1508.4 L2275.0 1504.8 L2277.9 1500.0 L2281.4 1495.7 L2285.4 1492.1 L2288.3 1487.3 L2289.7 1481.0 L2292.1 1475.7 L2297.0 1472.9 L2302.8 1471.0 L2307.3 1467.8 L2310.9 1463.7 L2315.1 1460.2 L2319.6 1457.0 L2322.6 1452.3 L2324.7 1446.7 L2328.3 1442.6 L2333.6 1440.3 L2338.5 1437.4 L2341.4 1432.6 L2343.9 1427.4 L2347.8 1423.6 L2352.4 1420.5 L2356.2 1416.6 L2360.1 1412.8 L2365.7 1410.7 L2372.1 1409.5 L2376.7 1406.3 L2378.9 1400.8 L2381.1 1395.3 L2384.7 1391.2 L2388.4 1387.3 L2391.1 1382.3 L2394.1 1377.5 L2398.5 1374.3 L2403.2 1371.2 L2405.9 1366.3 L2407.7 1360.4 L2411.3 1356.2 L2416.8 1354.1 L2422.2 1351.7 L2426.1 1348.0 L2430.1 1344.3 L2434.7 1341.2 L2438.5 1337.3 L2440.3 1331.4 L2442.0 1325.4 L2446.1 1321.8 L2451.8 1319.8 L2456.5 1316.8 L2459.8 1312.4 L2463.7 1308.6 L2468.6 1305.9 L2472.9 1302.4 L2475.8 1297.6 L2479.6 1293.7 L2485.3 1291.8 L2491.0 1289.7 L2494.1 1285.1 L2495.5 1278.8 L2497.7 1273.3 L2501.0 1268.9 L2503.7 1263.9 L2506.0 1258.6 L2510.1 1254.9 L2516.0 1253.2 L2521.2 1250.6 L2523.9 1245.6 L2526.2 1240.2 L2530.4 1236.7 L2535.7 1234.3 L2539.8 1230.7 L2543.1 1226.4 L2547.5 1223.1 L2552.4 1220.3 L2555.4 1215.5 L2556.3 1208.8 L2558.4 1203.2 L2563.6 1200.7 L2569.7 1199.1 L2574.4 1196.1 L2578.5 1192.5 L2583.7 1190.0 L2588.8 1187.4 L2591.5 1182.4 L2592.8 1176.0 L2596.1 1171.6 L2601.6 1169.4 L2606.1 1166.2 L2607.8 1160.2 L2609.2 1153.9 L2612.2 1149.2 L2615.4 1144.8 L2617.4 1139.1 L2620.2 1134.1 L2626.2 1132.5 L2634.0 1132.5 L2639.2 1130.0 L2641.3 1124.4 L2643.7 1119.2 L2648.0 1115.8 L2652.0 1112.0 L2654.3 1106.6 L2657.4 1102.0 L2663.2 1100.2 L2668.9 1098.2 L2671.2 1092.7 L2671.8 1085.6 L2675.2 1081.3 L2681.8 1080.2 L2687.8 1078.6 L2692.0 1075.1 L2696.9 1072.3 L2703.1 1070.8 L2706.9 1066.8 L2706.3 1058.6 L2705.3 1049.9 L2708.4 1045.3 L2713.9 1043.0 L2717.4 1038.8 L2719.0 1032.8 L2722.3 1028.4 L2727.5 1025.9 L2730.8 1021.5 L2732.1 1015.1 L2736.0 1011.3 L2744.5 1012.1 L2753.1 1013.0 L2757.0 1009.2 L2758.2 1002.7 L2760.8 997.6 L2764.5 993.7 L2766.1 987.5 L2766.9 980.6 L2771.7 977.7 L2780.4 978.8 L2787.2 977.8 L2789.1 972.0 L2790.5 965.7 L2795.5 963.0 L2801.7 961.6 L2805.4 957.5 L2808.2 952.6 L2813.7 950.4 L2819.6 948.7 L2820.6 942.0 L2817.3 930.9 L2816.2 922.2 L2820.7 918.9 L2826.5 917.1 L2830.3 913.1 L2834.6 909.7 L2842.0 909.5 L2849.0 908.8 L2851.3 903.4 L2851.8 896.1 L2856.4 893.1 L2865.1 894.1 L2871.6 892.9 L2873.6 887.2 L2875.3 881.2 L2879.3 877.5 L2882.4 872.9 L2882.5 865.3 L2884.2 859.3 L2891.9 859.3 L2902.1 861.8 L2908.2 860.2 L2909.9 854.2 L2912.5 849.1 L2917.1 846.0 L2919.9 841.1 L2920.1 833.6 L2922.3 828.1 L2928.5 826.6 L2933.9 824.3 L2934.2 816.9 L2932.7 807.8 L2935.3 802.6 L2941.6 801.2 L2947.2 799.2 L2951.8 796.1 L2958.8 795.3 L2967.7 796.5 L2973.3 794.4 L2973.7 787.2 L2974.0 779.8 L2978.5 776.6 L2984.8 775.2 L2988.7 771.4 L2991.1 766.1 L2995.6 762.9 L3001.1 760.7 L3004.0 755.8 L3004.7 748.9 L3008.3 744.8 L3016.3 745.1 L3024.0 745.1 L3027.9 741.3 L3029.9 735.6 L3033.1 731.1 L3036.2 726.5 L3036.7 719.3 L3036.9 711.8 L3040.7 708.0 L3047.7 707.2 L3053.0 704.9 L3055.3 699.4 L3057.8 694.2 L3063.0 691.8 L3068.8 689.8 L3072.9 686.3 L3077.4 683.0 L3084.2 682.2 L3091.2 681.4 L3094.5 677.0 L3094.8 669.7 L3096.5 663.6 L3100.9 660.3 L3105.4 657.1 L3108.7 652.8 L3112.9 649.3 L3119.1 647.7 L3124.6 645.6 L3127.1 640.4 L3128.7 634.3 L3132.8 630.7 L3138.9 629.1 L3143.6 626.1 L3146.3 621.1 L3149.2 616.3 L3153.0 612.4 L3155.7 607.4 L3156.7 600.7 L3158.8 595.1 L3164.3 592.9 L3171.2 592.1 L3176.3 589.5 L3180.0 585.5 L3184.4 582.2 L3189.6 579.7 L3193.6 576.0 L3196.3 571.0 L3200.3 567.3 L3206.2 565.5 L3211.4 563.0 L3213.8 557.8 L3215.4 551.6 L3218.5 547.1 L3222.9 543.7 L3226.7 539.8 L3230.3 535.7 L3235.5 533.2 L3241.8 531.8 L3246.3 528.7 L3248.3 523.0 L3250.3 517.3 L3254.2 513.4 L3258.6 510.1 L3261.8 505.6 L3264.7 500.8 L3268.8 497.3 L3273.3 494.1 L3276.2 489.3 L3278.2 483.6 L3281.9 479.6 L3288.1 478.1 L3294.3 476.6 L3298.9 473.4 L3302.9 469.8 L3307.7 466.9 L3311.9 463.4 L3314.3 458.1 L3316.2 452.3 L3320.2 448.6 L3325.7 446.4 L3330.1 443.1 L3332.7 438.0 L3335.6 433.2 L3339.8 429.7 L3343.9 426.1 L3347.0 421.6 L3350.8 417.6 L3356.4 415.5 L3362.1 413.5 L3365.4 409.2 L3367.0 403.0 L3369.3 397.7 L3373.0 393.7 L3376.5 389.4 L3379.4 384.6 L3383.4 380.9 L3389.0 378.8 L3394.1 376.2 L3397.2 371.6 L3399.9 366.7 L3404.5 363.6 L3410.4 361.7 L3415.3 359.0 L3419.1 355.1 L3423.3 351.5 L3427.8 348.4 L3430.9 343.8 L3432.2 337.4 L3434.3 331.8 L3438.8 328.6 L3444.2 326.3 L3448.3 322.7 L3451.7 318.3 L3455.8 314.8 L3460.4 311.7 L3463.7 307.3 L3466.1 302.0 L3469.8 298.0 L3475.3 295.8 L3480.0 292.8 L3482.6 287.7 L3484.5 281.9 L3487.7 277.4 L3491.5 273.6 L3494.7 269.0 L3498.2 264.8 L3503.6 262.5 L3510.2 261.4 L3515.2 258.8 L3518.2 254.0 L3521.3 249.4 L3525.8 246.3 L3530.4 243.1 L3533.8 238.8 L3537.1 234.4 L3541.5 231.2 L3545.9 227.9 L3548.3 222.6 L3549.7 216.2 L3552.7 211.6 L3557.8 209.0 L3563.0 206.4 L3566.9 202.7 L3571.0 199.1 L3575.9 196.2 L3579.9 192.6 L3582.0 187.0 L3583.8 181.1 L3587.7 177.3 L3592.9 174.8 L3597.0 171.2 L3599.7 166.2 L3603.0 161.8 L3607.4 158.5 L3611.4 154.8 L3614.5 150.2 L3618.7 146.7 L3625.0 145.3 L3631.4 144.0 L3635.5 140.4 L3638.0 135.3 L3641.1 130.7 L3680.7 170.2 L3675.8 173.0 L3672.0 177.0 L3669.7 182.3 L3666.3 186.6 L3660.6 188.6 L3654.3 190.0 L3649.5 193.0 L3645.8 196.9 L3641.6 200.4 L3637.5 204.0 L3635.1 209.3 L3633.5 215.4 L3630.4 220.0 L3625.3 222.6 L3620.6 225.6 L3617.8 230.5 L3615.1 235.5 L3611.2 239.3 L3606.8 242.6 L3603.4 246.9 L3599.9 251.1 L3594.7 253.6 L3588.7 255.3 L3584.6 258.9 L3582.6 264.6 L3580.5 270.1 L3576.7 274.1 L3572.7 277.8 L3569.4 282.1 L3565.5 285.9 L3559.9 288.1 L3554.2 290.1 L3550.5 294.1 L3548.0 299.2 L3544.0 303.0 L3538.5 305.1 L3533.5 307.8 L3529.9 312.0 L3526.4 316.1 L3522.2 319.6 L3518.9 324.1 L3517.5 330.4 L3516.0 336.5 L3512.1 340.3 L3506.6 342.5 L3502.0 345.6 L3498.6 349.9 L3494.6 353.6 L3489.8 356.5 L3486.0 360.4 L3483.4 365.5 L3480.0 369.8 L3474.7 372.2 L3469.3 374.5 L3466.0 378.9 L3463.9 384.5 L3460.8 389.1 L3456.6 392.6 L3453.0 396.6 L3449.5 400.9 L3444.5 403.6 L3437.9 404.7 L3432.4 406.9 L3429.4 411.5 L3426.9 416.8 L3423.1 420.6 L3418.7 424.0 L3415.4 428.4 L3412.6 433.3 L3408.7 437.1 L3404.3 440.3 L3401.4 445.1 L3400.0 451.5 L3397.5 456.6 L3392.5 459.4 L3387.0 461.5 L3382.6 464.8 L3378.5 468.5 L3373.6 471.3 L3369.1 474.4 L3366.4 479.5 L3364.7 485.4 L3361.2 489.6 L3355.8 492.0 L3351.0 494.9 L3347.9 499.4 L3344.8 504.0 L3340.4 507.3 L3336.0 510.6 L3332.8 515.1 L3329.2 519.2 L3323.5 521.2 L3317.0 522.4 L3312.6 525.7 L3310.5 531.3 L3308.3 536.8 L3304.9 541.1 L3301.9 545.8 L3299.8 551.4 L3296.8 556.0 L3291.7 558.7 L3286.6 561.3 L3283.7 566.1 L3281.8 571.8 L3278.1 575.8 L3272.6 578.1 L3267.7 580.9 L3263.9 584.8 L3259.5 588.0 L3254.2 590.5 L3250.4 594.4 L3249.1 600.8 L3247.7 607.1 L3243.6 610.7 L3238.0 612.8 L3233.4 615.9 L3229.7 619.9 L3225.1 622.9 L3219.7 625.2 L3215.9 629.1 L3213.8 634.7 L3210.5 639.1 L3204.7 641.0 L3199.2 643.2 L3196.4 648.1 L3195.1 654.5 L3192.7 659.8 L3189.6 664.5 L3187.8 670.3 L3186.1 676.3 L3181.6 679.5 L3174.6 680.2 L3168.8 682.1 L3165.9 686.9 L3163.5 692.1 L3159.0 695.4 L3154.1 698.1 L3150.8 702.6 L3147.7 707.2 L3142.5 709.7 L3136.8 711.7 L3134.0 716.6 L3133.8 724.0 L3131.9 729.8 L3126.5 732.2 L3120.5 733.8 L3116.0 737.0 L3111.2 740.0 L3104.8 741.2 L3099.3 743.4 L3097.8 749.6 L3098.0 757.5 L3095.3 762.5 L3089.8 764.8 L3085.8 768.4 L3084.4 774.7 L3082.5 780.6 L3078.7 784.4 L3075.5 788.9 L3074.5 795.7 L3072.1 801.0 L3064.9 801.4 L3055.7 799.9 L3049.9 801.8 L3047.6 807.2 L3044.6 811.9 L3040.2 815.2 L3037.5 820.2 L3036.7 827.1 L3033.6 831.7 L3026.4 832.2 L3019.7 833.2 L3017.5 838.7 L3017.1 846.0 L3013.3 849.9 L3006.8 851.1 L3001.7 853.7 L2998.1 857.8 L2992.3 859.7 L2985.0 860.0 L2981.5 864.2 L2983.6 874.0 L2985.7 883.8 L2982.9 888.8 L2977.9 891.4 L2974.8 896.0 L2972.3 901.3 L2966.9 903.5 L2960.1 904.4 L2956.7 908.8 L2956.2 915.9 L2952.2 919.7 L2943.1 918.3 L2934.5 917.3 L2930.6 921.1 L2928.7 926.9 L2925.0 930.9 L2921.6 935.2 L2921.5 942.8 L2921.6 950.7 L2916.4 953.1 L2906.9 951.3 L2899.8 951.9 L2897.5 957.3 L2895.2 962.7 L2890.0 965.2 L2885.2 968.1 L2883.4 974.0 L2881.2 979.5 L2875.2 981.2 L2868.8 982.4 L2867.6 989.0 L2870.3 999.4 L2870.3 1007.1 L2865.8 1010.2 L2860.7 1012.8 L2856.9 1016.8 L2851.2 1018.8 L2842.2 1017.5 L2834.7 1017.7 L2832.5 1023.1 L2832.0 1030.3 L2827.6 1033.7 L2820.3 1034.1 L2815.1 1036.6 L2812.8 1042.0 L2809.5 1046.4 L2804.5 1049.1 L2801.6 1053.8 L2801.7 1061.6 L2799.9 1067.5 L2792.7 1068.0 L2783.8 1066.8 L2778.3 1069.0 L2775.6 1074.0 L2772.0 1078.1 L2767.7 1081.5 L2766.0 1087.5 L2766.1 1095.3 L2763.6 1100.5 L2757.3 1101.9 L2751.8 1104.1 L2750.1 1110.1 L2749.2 1116.9 L2745.4 1120.8 L2739.7 1122.8 L2735.2 1125.9 L2730.8 1129.3 L2723.8 1130.0 L2715.4 1129.3 L2710.2 1131.8 L2709.1 1138.4 L2707.9 1144.9 L2703.9 1148.5 L2699.1 1151.4 L2695.9 1156.0 L2692.7 1160.5 L2687.4 1162.9 L2681.7 1164.9 L2678.8 1169.7 L2677.5 1176.1 L2674.0 1180.2 L2667.5 1181.4 L2661.4 1183.0 L2657.7 1187.1 L2654.7 1191.7 L2650.6 1195.4 L2647.4 1199.9 L2646.6 1206.7 L2645.7 1213.5 L2641.6 1217.1 L2635.1 1218.4 L2629.9 1220.8 L2626.6 1225.2 L2622.7 1229.1 L2617.4 1231.4 L2612.6 1234.3 L2609.2 1238.6 L2605.2 1242.3 L2598.9 1243.7 L2592.7 1245.2 L2589.3 1249.5 L2588.0 1255.9 L2585.6 1261.2 L2581.6 1264.9 L2578.0 1269.0 L2574.9 1273.6 L2570.4 1276.8 L2564.2 1278.3 L2558.9 1280.6 L2556.2 1285.6 L2554.1 1291.3 L2550.2 1295.1 L2545.2 1297.8 L2541.3 1301.5 L2538.4 1306.3 L2534.6 1310.3 L2530.3 1313.6 L2527.3 1318.3 L2525.9 1324.7 L2523.4 1329.8 L2518.0 1332.2 L2511.8 1333.6 L2506.8 1336.3 L2502.6 1339.8 L2497.7 1342.6 L2492.6 1345.2 L2489.3 1349.6 L2487.0 1355.0 L2483.3 1359.0 L2477.8 1361.2 L2472.9 1364.0 L2470.2 1369.0 L2468.0 1374.5 L2464.5 1378.7 L2460.4 1382.3 L2457.3 1386.9 L2453.9 1391.2 L2448.6 1393.6 L2442.3 1395.0 L2437.9 1398.2 L2435.7 1403.7 L2433.4 1409.1 L2429.6 1413.1 L2425.9 1417.0 L2423.1 1421.9 L2419.8 1426.4 L2415.0 1429.3 L2410.0 1432.0 L2406.9 1436.6 L2404.7 1442.0 L2400.8 1445.8 L2394.9 1447.7 L2389.3 1449.7 L2384.9 1453.0 L2380.4 1456.3 L2375.4 1458.9 L2371.4 1462.6 L2369.5 1468.4 L2367.8 1474.4 L2364.0 1478.3 L2358.8 1480.8 L2354.6 1484.4 L2351.7 1489.1 L2348.1 1493.2 L2343.6 1496.5 L2339.9 1500.4 L2337.2 1505.4 L2333.6 1509.6 L2328.0 1511.7 L2322.5 1513.8 L2319.1 1518.1 L2317.1 1523.8 L2314.4 1528.8 L2310.7 1532.8 L2307.7 1537.5 L2305.0 1542.5 L2300.6 1545.8 L2294.4 1547.3 L2289.0 1549.6 L2285.7 1554.0 L2282.7 1558.7 L2278.1 1561.8 L2272.9 1564.2 L2268.6 1567.7 L2265.0 1571.8 L2260.6 1575.0 L2255.8 1577.9 L2252.9 1582.7 L2251.7 1589.3 L2249.6 1594.9 L2245.3 1598.2 L2240.2 1600.9 L2236.2 1604.6 L2232.4 1608.5 L2227.6 1611.4 L2222.9 1614.4 L2220.0 1619.1 L2218.0 1624.8 L2214.3 1628.8 L2209.0 1631.2 L2204.4 1634.3 L2201.6 1639.2 L2199.0 1644.3 L2195.2 1648.2 L2191.4 1652.1 L2188.6 1657.0 L2185.1 1661.3 L2179.4 1663.2 L2172.7 1664.2 L2167.6 1666.8 L2164.5 1671.3 L2161.1 1675.7 L2156.9 1679.1 L2153.1 1683.0 L2150.4 1688.1 L2147.1 1692.5 L2142.3 1695.4 L2137.8 1698.6 L2135.3 1703.8Z" fill="#100632"/>
<path d="M3093 759h0M3210 627h0M3113 652h0M2676 1084h0M2522 1246h0M3489 356h0M2867 897h0M2913 859h0M2275 1510h0M3227 536h0M3265 580h0M3124 646h0M3098 749h0M3158 697h0M3342 431h0M3158 603h0M3440 327h0M3504 343h0M3587 252h0M2334 1445h0M2411 1434h0M2186 1659h0M3367 468h0M3197 645h0M2390 1448h0M3469 300h0M3339 433h0M3146 623h0M2599 1244h0M2557 1279h0M3096 757h0M2751 1102h0M2515 1253h0M3381 384h0M2215 1632h0M3434 403h0M2565 1278h0M3406 365h0M2790 972h0M2612 1233h0M3598 165h0M3187 674h0M3529 249h0M3323 517h0M2765 1098h0M3193 576h0M3267 579h0M2440 1343h0M2213 1560h0M2762 996h0M3218 551h0M2920 947h0M3281 571h0M3084 771h0M3316 519h0M2260 1525h0M2151 1631h0M2119 1659h0M2526 1240h0M3336 429h0M3369 402h0M3579 194h0M2943 799h0M2925 841h0M3294 477h0M2240 1599h0M3039 810h0M2458 1320h0M3612 237h0M3032 831h0M3622 223h0M2764 1088h0M2227 1545h0M3280 478h0M3302 553h0M3209 570h0M2424 1349h0M2546 1294h0M3015 845h0M3276 577h0M3517 332h0M2703 1147h0M3654 190h0M3441 405h0M2750 1117h0M3230 619h0M2389 1450h0M3255 590h0M2122 1645h0M2919 844h0M2660 1180h0M2122 1650h0M2693 1080h0M2820 1032h0M2974 790h0M3241 611h0M3031 738h0M3172 593h0M2709 1066h0M2483 1295h0M2175 1610h0M3287 478h0M3125 732h0M2825 919h0M2394 1376h0M3345 501h0M2224 1555h0M2955 796h0M3158 695h0M3246 530h0M3410 435h0M3129 635h0M3634 213h0M3402 366h0M2709 1141h0M3078 783h0M2121 1651h0M2469 1369h0M3607 163h0M3497 269h0M3128 640h0M2420 1423h0M2498 1272h0M2189 1653h0M2360 1417h0M3307 538h0M3333 438h0M2985 880h0M2113 1658h0M2358 1418h0M2800 1057h0M2356 1416h0M2522 1327h0M3096 675h0M3258 511h0M3613 152h0M2767 985h0M2524 1318h0M2254 1525h0M2326 1444h0M2250 1594h0M2920 841h0M2223 1547h0M3193 651h0M2383 1392h0M2784 981h0M2627 1136h0M2277 1503h0M3169 678h0M3485 282h0M2625 1226h0M3381 385h0M2498 1276h0M2594 1244h0M3573 274h0M2707 1134h0M2667 1103h0M2579 1262h0M2453 1322h0M2513 1331h0M3434 338h0M2470 1306h0M2768 985h0M2259 1524h0M2827 919h0M2291 1481h0M2700 1151h0M2224 1557h0M3282 568h0M2197 1577h0M3430 349h0M3552 290h0M2254 1579h0M3161 694h0M2325 1511h0M3056 697h0M3154 614h0M3119 648h0M2367 1476h0M3108 661h0M2165 1669h0M3441 404h0M3593 175h0M3578 270h0M3144 628h0M2879 978h0M3048 708h0M3669 178h0M2488 1350h0M3125 640h0M2672 1085h0M3080 781h0M2850 1018h0M2561 1278h0M3496 276h0M2402 1442h0M2267 1574h0M3114 651h0M3619 224h0M3619 225h0M2549 1221h0M2727 1131h0M3042 818h0M3188 669h0M3577 199h0M2975 790h0M3132 725h0M3173 590h0M3148 622h0M2830 1026h0M2871 1005h0M2246 1526h0M2724 1029h0M2733 1127h0M2309 1471h0M2172 1614h0M3039 715h0M3035 830h0M3218 625h0M3140 632h0M2708 1134h0M3182 587h0M3310 529h0M3025 746h0M3516 336h0M3327 448h0M3161 594h0M2141 1633h0M3532 238h0M2678 1167h0M3284 560h0M2362 1418h0M3095 747h0M2668 1179h0M2397 1375h0M2698 1076h0M2584 1187h0M2372 1460h0M3317 459h0M2967 798h0M2407 1371h0M3293 559h0M2920 848h0M2883 873h0M3037 717h0M2313 1464h0M2866 1008h0M2755 1099h0M3329 522h0M2472 1304h0M2807 952h0M3470 373h0M2585 1190h0M2766 986h0M3336 441h0M3318 524h0M2832 1023h0M2278 1561h0M2173 1610h0M2564 1202h0M2768 987h0M2163 1617h0M2275 1502h0M3379 394h0M2410 1432h0M2805 962h0M2539 1300h0M3382 464h0M3198 569h0M2306 1531h0M2190 1657h0M2600 1173h0M3190 664h0M2976 777h0M3032 736h0M3398 456h0M2607 1240h0M2164 1676h0M3260 511h0M3617 152h0M3384 461h0M3385 380h0M2980 890h0M3397 367h0M3098 663h0M3583 254h0M3301 471h0M2299 1544h0M3483 285h0M2858 894h0M3457 391h0M2620 1228h0M3518 330h0M3022 747h0M2788 980h0M2462 1378h0M3104 662h0M3243 610h0M2425 1416h0M2271 1513h0M2707 1142h0M3527 248h0M2603 1236h0M2935 821h0M3074 784h0M2388 1381h0M2653 1103h0M3402 362h0M2809 953h0M3369 474h0M3074 792h0M2930 919h0M2257 1526h0M3250 523h0M2499 1272h0M3595 175h0M3191 575h0M2195 1586h0M3434 339h0M2360 1478h0M3123 730h0M2489 1347h0M3093 762h0M2240 1532h0M2630 1220h0M3312 523h0M3585 260h0M2331 1441h0M2252 1579h0M3266 582h0M3221 626h0M2936 819h0M2688 1160h0M2938 802h0M3099 743h0M2619 1135h0M2933 804h0M3089 764h0M2912 954h0M2971 903h0M2318 1515h0M2166 1666h0M2657 1103h0M2386 1449h0M2229 1549h0M2587 1190h0M2766 988h0M3552 221h0M2766 996h0M2745 1011h0M2337 1504h0M2203 1636h0M2285 1494h0M3130 634h0M2328 1511h0M2467 1309h0M2365 1412h0M2786 981h0M2936 821h0M3116 739h0M3549 228h0M2913 952h0M3158 607h0M3579 273h0M3184 587h0M2657 1192h0M3524 248h0M3619 146h0M3399 450h0M3364 477h0M3024 829h0M2852 905h0M2759 1007h0M2877 883h0M3003 761h0M3078 784h0M3490 354h0M2293 1547h0M2472 1370h0M3584 264h0M3197 639h0M3190 661h0M2180 1590h0M3613 156h0M3122 735h0M2196 1646h0M2243 1529h0M3257 589h0M2394 1381h0M3420 419h0M2364 1415h0M2504 1265h0M2386 1447h0M2972 901h0M2295 1546h0M2495 1340h0M3365 412h0M2995 859h0M3537 303h0M2710 1142h0M2647 1198h0M3602 165h0M3037 816h0M3315 521h0M2857 1013h0M2826 914h0M3569 204h0M2555 1214h0M2207 1561h0M2876 882h0M3165 680h0M3197 577h0M2221 1621h0M3200 642h0M3484 288h0M3486 279h0M2431 1341h0M3601 241h0M3621 150h0M2315 1530h0M2369 1470h0M3665 190h0M2970 904h0M2346 1491h0M2928 825h0M3323 448h0M2581 1190h0M3250 518h0M2748 1013h0M2478 1294h0M3046 805h0M3596 177h0M3613 157h0M2446 1393h0M3284 479h0M2254 1579h0M3152 614h0M3221 623h0M3044 808h0M3359 418h0M2922 930h0M2881 877h0M3169 682h0M3485 288h0M3113 649h0M3662 188h0M2553 1293h0M2220 1561h0M2202 1580h0M2737 1124h0M2436 1396h0M3571 279h0M2357 1478h0M3166 594h0M2317 1524h0M2678 1169h0M3232 615h0M2115 1655h0M3215 556h0M3200 569h0M2255 1526h0M2273 1568h0M2636 1218h0M2975 903h0M2458 1388h0M2999 760h0M2530 1236h0M2428 1415h0M2324 1513h0M3219 626h0M2588 1255h0M2831 913h0M3461 388h0M3224 543h0M3641 199h0M3202 642h0M2238 1604h0M2956 909h0M2664 1179h0M2894 960h0M2555 1285h0M3437 405h0M2798 1067h0M2644 1123h0M2611 1153h0M2374 1461h0M2326 1513h0M3612 155h0M2749 1113h0M3303 537h0M3142 624h0M3082 773h0M2412 1353h0M3454 320h0M2974 785h0M2824 1034h0M2140 1644h0M3144 704h0M2611 1147h0M3381 466h0M3330 518h0M2806 951h0M3425 413h0M3299 540h0M2585 1190h0M2392 1383h0M2776 1078h0M2671 1101h0M2930 927h0M2464 1377h0M3435 405h0M3430 414h0M3086 684h0M2360 1419h0M2446 1321h0M2830 1023h0M2497 1340h0M2163 1626h0M3148 622h0M2925 827h0M3204 643h0M3315 521h0M2933 808h0M2348 1488h0M3143 629h0M3015 841h0M2790 976h0M2233 1538h0M3533 241h0M3489 283h0M3043 711h0M2918 847h0M2627 1222h0M2212 1562h0M3056 707h0M2566 1201h0M3651 189h0M3523 254h0M2460 1318h0M3037 724h0M3211 634h0M3542 234h0M2523 1250h0M2452 1321h0M3600 248h0M2188 1658h0M2462 1374h0M2348 1423h0M3545 300h0M3100 661h0M2974 786h0M2886 969h0M2987 776h0M2498 1276h0M2934 804h0M3345 502h0M2815 1037h0M2378 1405h0M2481 1359h0M3211 564h0M2818 923h0M2139 1638h0M2173 1607h0M3059 691h0M2406 1434h0M3601 167h0M2346 1430h0M2409 1359h0M2499 1271h0M2604 1241h0M2710 1130h0M2288 1490h0M3165 594h0M2627 1224h0M3144 712h0M3588 253h0M3042 813h0M2435 1343h0M2442 1336h0M2265 1572h0M3597 171h0M3427 411h0M3480 369h0M2360 1476h0M3107 655h0M3067 800h0M2308 1468h0M3322 452h0M2255 1527h0M3222 628h0M3236 535h0M3619 226h0M2766 992h0M3133 717h0M2947 918h0M2508 1260h0M2822 1032h0M2800 1056h0M2296 1473h0M3164 696h0M2770 982h0M2569 1202h0M2707 1150h0M2448 1321h0M2937 805h0M2772 980h0M3387 383h0M3582 258h0M3013 745h0M3047 809h0M2586 1256h0M2605 1245h0M2273 1563h0M2926 928h0M2717 1130h0M3601 166h0M3580 260h0M2317 1457h0M2165 1669h0M3157 608h0M2810 953h0M2875 978h0M3513 337h0M3165 687h0M3152 699h0M3620 234h0M2814 948h0M3576 270h0M3505 341h0M3602 159h0M3128 641h0M2466 1372h0M2907 861h0M3624 222h0M2235 1536h0M2479 1361h0M2824 1034h0M2717 1041h0M3057 802h0M2281 1557h0M2441 1343h0M3273 497h0M3377 464h0M3512 339h0M2633 1131h0M3345 503h0M2765 995h0M2218 1625h0M2304 1544h0M3160 694h0M2830 1025h0M3155 610h0M2493 1288h0M2431 1410h0M2831 914h0M2380 1400h0M2791 965h0M3600 247h0M3402 366h0M3108 740h0M2200 1576h0M2453 1388h0M2158 1627h0M3209 636h0M3043 810h0M2723 1028h0M2985 885h0M2920 955h0M3015 745h0M2216 1628h0M2530 1239h0M2680 1161h0M2271 1507h0M2712 1046h0M2805 956h0M2214 1627h0M2337 1438h0M3330 445h0M3420 422h0M2525 1324h0M2375 1458h0M3534 238h0M2556 1283h0M2706 1048h0M2609 1157h0M3176 594h0M2878 885h0M2440 1331h0M2463 1317h0M2263 1516h0M3115 737h0M2627 1224h0M3440 407h0M2424 1417h0M2480 1294h0M3310 529h0M2295 1547h0M2355 1420h0M2640 1129h0M2284 1556h0M2335 1504h0M3058 704h0M2706 1048h0M3339 503h0M3444 327h0M2469 1368h0M2577 1268h0M3577 269h0M3018 843h0M2462 1308h0M2764 998h0M2673 1079h0M3075 689h0M2726 1028h0M2648 1211h0M2826 922h0M3518 265h0M2561 1276h0M3443 327h0M3216 550h0M3074 686h0M3034 830h0M2662 1100h0M3038 814h0M3159 697h0M2924 931h0M2525 1315h0M3598 169h0M3348 424h0M2503 1335h0M3517 328h0M2378 1403h0M2733 1127h0M3102 661h0M2211 1628h0M3095 742h0M2785 979h0M3390 458h0M3265 505h0M3269 499h0M2610 1236h0M2995 857h0M3094 760h0M3339 508h0M2863 894h0M3007 850h0M2692 1159h0M3445 325h0M2982 874h0M2430 1347h0M3641 201h0M3331 515h0M3121 646h0M3128 643h0M2920 842h0M2708 1047h0M2558 1206h0M2289 1485h0M2610 1237h0M3306 529h0M3108 655h0M3363 486h0M2184 1662h0M2351 1484h0M3123 732h0M2275 1562h0M2576 1199h0M3006 847h0M2608 1156h0M2472 1306h0M2168 1616h0M2679 1163h0M3120 646h0M3603 164h0M3193 580h0M2340 1437h0M2884 861h0M3038 816h0M2262 1573h0M2173 1663h0M2414 1356h0M3025 747h0M3569 202h0M2657 1107h0M2274 1507h0M2866 981h0M3349 419h0M3456 392h0M3591 176h0M3027 734h0M3550 289h0M2527 1240h0M3551 291h0M3623 146h0M2367 1472h0M2764 992h0M3633 147h0M2718 1036h0M3280 484h0M2920 938h0M2516 1257h0M2974 791h0M2440 1336h0M2334 1508h0M2195 1641h0M3302 544h0M2364 1478h0M2942 802h0M3597 171h0M3250 598h0M3299 477h0M3049 808h0M3262 509h0M2213 1560h0M2949 919h0M3587 180h0M2137 1637h0M2292 1478h0M2969 799h0M3468 371h0M3490 276h0M3402 440h0M2701 1073h0M2315 1518h0M3621 225h0M3166 691h0M2311 1465h0M3046 809h0M2472 1361h0M3254 589h0M2607 1161h0M2412 1429h0M2832 1019h0M2918 838h0M2552 1288h0M2544 1297h0M3491 277h0M3215 558h0M3396 455h0M2377 1457h0M2800 1056h0M3186 661h0M3368 405h0M2883 873h0M2414 1426h0M2148 1691h0M2250 1591h0M2985 862h0M2525 1320h0M3167 593h0M2181 1596h0M3399 448h0M2515 1329h0M2500 1272h0M3145 708h0M3283 562h0M2525 1242h0M3084 771h0M2430 1412h0M3464 380h0M2983 776h0M2932 919h0M2992 858h0M2672 1090h0M3096 667h0M2341 1499h0M2875 884h0M2984 884h0M2413 1429h0M2570 1198h0M2606 1171h0M2962 902h0M3275 497h0M3481 368h0M2142 1636h0M3360 488h0M2228 1610h0M3140 708h0M3096 661h0M2301 1544h0M2689 1165h0M2996 857h0M2525 1243h0M3201 640h0M2203 1632h0M3497 267h0M3512 263h0M3086 686h0M2191 1584h0M2681 1083h0M3442 400h0M3572 199h0M2611 1236h0M3489 357h0M3012 850h0M2933 804h0M2657 1180h0M2183 1596h0M2258 1576h0M3136 715h0M3422 422h0M2638 1133h0M2226 1548h0M2748 1013h0M2447 1323h0M2229 1608h0M3549 301h0M3156 609h0M2852 1020h0M2601 1170h0M3430 339h0M2283 1495h0M2685 1161h0M2648 1194h0M2329 1447h0M2863 1009h0M3537 237h0M2975 897h0M2919 841h0M3080 680h0M2997 857h0M2636 1133h0M2536 1312h0M3227 622h0M3056 798h0M2263 1515h0M2791 974h0M3379 467h0M3168 680h0M2238 1531h0M2922 839h0M2672 1177h0M3433 407h0M3366 408h0M2500 1273h0M3068 796h0M2171 1665h0M3601 167h0M3079 684h0M2994 765h0M2810 1038h0M3213 633h0M3324 451h0M2845 1018h0M2225 1552h0M2269 1564h0M3633 212h0M2909 950h0M2933 811h0M2527 1324h0M3576 269h0M2456 1388h0M2245 1597h0M3108 740h0M2716 1039h0M3541 232h0M3296 547h0M3095 669h0M3529 244h0M3564 206h0M3125 649h0M2185 1661h0M3416 423h0M3543 300h0M3001 763h0M2626 1225h0M2868 994h0M3280 484h0M3352 423h0M3342 429h0M2555 1287h0M3603 244h0M2327 1512h0M2731 1019h0M3288 481h0M2410 1430h0M3611 153h0M3667 182h0M3176 590h0M2458 1382h0M2621 1230h0M3567 281h0M2253 1526h0M3426 347h0M2162 1615h0M2961 901h0M2509 1332h0M3533 246h0M2550 1297h0M2492 1350h0M3164 692h0M3318 457h0M2284 1494h0M2358 1419h0M2985 885h0M3349 421h0M2350 1490h0M2923 936h0M2852 902h0M2803 962h0M3467 305h0M2117 1652h0M2925 829h0M2914 851h0M3418 420h0M2782 980h0M3014 850h0M3028 831h0M2529 1310h0M2391 1446h0M3084 686h0M2852 900h0M2481 1295h0M3105 659h0M2206 1563h0M3568 201h0M3283 482h0M2719 1131h0M2750 1013h0M3586 183h0M2396 1446h0M2445 1323h0M3345 503h0M3363 479h0M3163 595h0M3098 659h0M3414 426h0M3488 356h0M3623 221h0M3095 763h0M3056 702h0M3334 513h0M2854 904h0M2484 1350h0M2342 1495h0M3086 683h0M3158 609h0M3517 329h0M2783 1066h0M2422 1358h0M2839 915h0M3588 255h0M3654 190h0M2651 1115h0M2260 1572h0M2307 1473h0M2975 779h0M2309 1532h0M2927 928h0M3444 399h0M3497 272h0M2318 1462h0M2464 1377h0M3548 291h0M2493 1343h0M2323 1452h0M2400 1443h0M2429 1413h0M2159 1674h0M3626 147h0M3236 533h0M3146 711h0M2644 1115h0M2294 1547h0M2287 1552h0M2618 1141h0M3009 750h0M3098 743h0M3018 746h0M3038 731h0M2227 1543h0M2286 1551h0M2956 796h0M3280 484h0M2267 1511h0M2589 1261h0M2762 1098h0M2251 1589h0M2710 1139h0M3076 684h0M3038 818h0M2175 1664h0M2973 899h0M2585 1257h0M2882 880h0M2690 1159h0M3422 426h0M2185 1660h0M3091 764h0M2461 1313h0M2996 765h0M2608 1238h0M2994 857h0M2163 1618h0M2753 1107h0M2172 1663h0M3521 250h0M3010 745h0M2691 1076h0M3140 626h0M3289 479h0M2551 1285h0M3134 633h0M2321 1511h0M3081 781h0M3481 295h0M3486 283h0M2729 1128h0M3652 195h0M3220 548h0M2982 887h0M3012 847h0M3197 572h0M3108 656h0M2824 918h0M2279 1506h0M2369 1467h0M2756 1003h0M2992 765h0M2554 1214h0M3397 458h0M3150 704h0M2173 1604h0M2541 1231h0M3076 786h0M2531 1307h0M2655 1105h0M2895 955h0M2193 1582h0M3130 639h0M2668 1181h0M2295 1545h0M2925 831h0M3560 206h0M3415 361h0M2747 1114h0M3081 780h0M3311 466h0M2251 1571h0M2406 1364h0M2596 1177h0M3369 406h0M3243 612h0M2416 1424h0M2607 1168h0M2218 1609h0M3217 550h0M2973 902h0M2860 1011h0M2427 1351h0M2765 1000h0M3598 174h0M2871 893h0M2645 1201h0M3559 209h0M2434 1397h0M2677 1171h0M2443 1340h0M3512 337h0M2487 1357h0M3143 708h0M2334 1438h0M2425 1418h0M3413 424h0M3214 632h0M2803 1050h0M3436 403h0M2246 1528h0M2620 1225h0M3153 613h0M3612 233h0M3416 360h0M3478 369h0M3036 819h0M2454 1388h0M3405 437h0M3373 395h0M2199 1577h0M3534 242h0M3333 441h0M3071 693h0M2853 891h0M2873 984h0M2988 862h0M3443 327h0M3525 245h0M3125 645h0M2919 932h0M3375 390h0M3112 653h0M2770 1074h0M3413 422h0M2473 1364h0M2475 1359h0M2750 1113h0M2558 1210h0M2670 1097h0M3592 252h0M3399 448h0M3565 281h0M3102 660h0M3029 738h0M2172 1610h0M3312 459h0M2655 1110h0M2392 1382h0M3525 249h0M3035 729h0M3253 523h0M2427 1348h0M2778 1066h0M3483 364h0M2701 1150h0M2585 1259h0M2428 1349h0M2884 861h0M3544 302h0M2949 800h0M3109 648h0M2782 977h0M2960 903h0M2238 1598h0M2578 1268h0M3308 531h0M3095 763h0M2372 1410h0M2625 1223h0M2416 1356h0M2389 1449h0M2628 1224h0M2640 1137h0M2377 1406h0M2966 797h0M3249 606h0M2150 1627h0M2277 1562h0M2644 1123h0M3247 602h0M2455 1321h0M3235 610h0M2880 979h0M2378 1456h0M2428 1351h0M3268 580h0M2940 805h0M3217 627h0M3169 679h0M2253 1583h0M2575 1200h0M3368 470h0M2166 1622h0M3028 834h0M2863 895h0M3431 407h0M2879 878h0M2595 1244h0M2642 1127h0M2196 1647h0M2539 1307h0M2635 1134h0M2277 1562h0M2950 798h0M3377 388h0M3037 820h0M2339 1501h0M2319 1460h0M2234 1541h0M3465 310h0M3289 560h0M3091 764h0M3632 213h0M3415 369h0M3153 613h0M3131 634h0M2879 973h0M2853 1016h0M2541 1232h0M3511 263h0M2165 1666h0M3392 374h0M3648 193h0M3399 445h0M2322 1455h0M2207 1628h0M3139 709h0M2216 1625h0M2306 1472h0M3292 558h0M2497 1344h0M2410 1436h0M3296 475h0M2972 900h0M2884 864h0M2430 1345h0M3521 318h0M3146 627h0M2773 1075h0M2813 952h0M2709 1130h0M2903 864h0M3203 641h0M2700 1148h0M3542 303h0M2229 1608h0M3535 303h0M2488 1353h0M2608 1161h0M3481 294h0M2335 1440h0M3428 344h0M3004 754h0M2387 1391h0M2173 1604h0M3514 265h0M2344 1429h0M3097 756h0M3399 377h0M3250 521h0M2936 812h0M2677 1081h0M2348 1428h0M3273 497h0M2531 1310h0M2395 1448h0M2341 1499h0M2857 1015h0M2431 1409h0M2190 1652h0M3496 352h0M2884 865h0M2843 1017h0M2163 1621h0M3432 409h0M2992 771h0M2987 770h0M2534 1310h0M3081 682h0M2919 844h0M2734 1010h0M3002 752h0M2624 1133h0M2364 1480h0M2421 1420h0M2231 1541h0M2287 1486h0M2604 1170h0M2892 860h0M3035 824h0M3029 745h0M3294 478h0M2980 889h0M3075 788h0M2602 1241h0M2312 1464h0M3396 456h0M2204 1576h0M3042 714h0M2644 1123h0M3445 324h0M3583 179h0M2791 979h0M3291 478h0M2268 1565h0M3641 198h0M2529 1310h0M3589 258h0M2303 1475h0M2702 1151h0M3229 620h0M2424 1350h0M3121 734h0M3638 198h0M3568 205h0M3597 253h0M3307 539h0M2467 1372h0M2283 1557h0M2233 1601h0M3007 758h0M2936 828h0M3303 545h0M2848 909h0M3158 603h0M2658 1108h0M2451 1317h0M3568 286h0M2851 892h0M2371 1411h0M2436 1401h0M3336 510h0M3072 799h0M3187 672h0M2407 1363h0M2744 1012h0M2831 1032h0M2260 1525h0M3248 601h0M2461 1382h0M2608 1236h0M2964 903h0M2218 1617h0M2762 999h0M3606 238h0M2677 1176h0M2208 1565h0M2476 1302h0M2653 1116h0M2820 943h0M2319 1527h0M3174 676h0M2840 1017h0M3493 352h0M2417 1355h0M2809 958h0M3096 671h0M3094 663h0M2893 861h0M2757 1101h0M2325 1447h0M2489 1347h0M2892 959h0M2767 1100h0M2464 1311h0M2348 1430h0M2554 1289h0M2199 1582h0M2595 1169h0M3220 623h0M2565 1202h0M2734 1124h0M2752 1103h0M2262 1526h0M3579 268h0M2553 1218h0M3484 361h0M3545 228h0M2458 1315h0M2944 918h0M3168 681h0M3574 273h0M2459 1310h0M2852 1019h0M2314 1528h0M2590 1248h0M2580 1270h0M3589 255h0M2707 1145h0M2994 766h0M2172 1664h0M2496 1342h0M2741 1012h0M3457 314h0M2340 1429h0M2557 1209h0M3358 490h0M3669 181h0M3000 764h0M3319 461h0M3050 800h0M2447 1326h0M2547 1297h0M3544 298h0M2153 1683h0M2617 1232h0M3183 585h0M3331 441h0M3306 540h0M2906 952h0M2888 964h0M3186 664h0M3481 295h0M3466 299h0M2544 1231h0M3668 182h0M3298 557h0M3444 324h0M2920 951h0M3603 169h0M2474 1300h0M3137 709h0M3019 747h0M2997 765h0M2492 1343h0M3410 433h0M3644 190h0M2701 1148h0M2708 1143h0M2389 1383h0M2925 929h0M3484 285h0M2335 1508h0M3299 545h0M2186 1590h0M3547 229h0M2408 1361h0M3182 679h0M2958 904h0M3473 298h0M3368 408h0M2828 918h0M2407 1364h0M2592 1178h0M2588 1259h0M2341 1435h0M2987 774h0M2211 1562h0M2387 1450h0M3450 329h0M3037 810h0M3506 343h0M2658 1186h0M3095 670h0M2281 1499h0M2477 1299h0M2491 1340h0M2750 1102h0M3253 589h0M3311 534h0M2843 910h0M3364 477h0M2911 952h0M2902 951h0M3551 215h0M3294 557h0M3602 161h0M3422 354h0M3433 330h0M2192 1584h0M3384 463h0M2944 801h0M3054 710h0M2444 1327h0M2322 1458h0M2812 948h0M3299 552h0M3397 372h0M3337 432h0M3055 710h0M3136 708h0M3208 566h0M3436 403h0M2733 1128h0M2167 1622h0M2620 1230h0M3195 642h0M2554 1219h0M3548 294h0M2224 1547h0M2225 1612h0M2948 801h0M2941 802h0M3429 405h0M2407 1368h0M2628 1221h0M2466 1373h0M3001 859h0M2606 1169h0M3095 675h0M2303 1473h0M2611 1230h0M2891 963h0M3017 836h0M3250 519h0M2320 1515h0M2746 1118h0M2874 886h0M3460 312h0M2439 1392h0M2396 1443h0M3160 592h0M2672 1089h0M3601 253h0M2264 1514h0M2341 1442h0M3307 537h0M2706 1050h0M2706 1072h0M3612 152h0M3427 415h0M2193 1584h0M3264 502h0M2594 1177h0M3634 146h0M2309 1464h0M2229 1611h0M2573 1199h0M2253 1581h0M2419 1420h0M2407 1427h0M2708 1140h0M2912 853h0M3299 550h0M3428 348h0M3229 547h0M3267 579h0M3627 217h0M2858 1014h0M2442 1333h0M2381 1395h0M2838 910h0M2609 1156h0M2321 1460h0M2676 1178h0M3616 227h0M3651 195h0M2976 890h0M2497 1279h0M3090 764h0M2265 1515h0M2406 1368h0M2232 1538h0M2370 1462h0M3489 359h0M3227 622h0M2764 983h0M2391 1386h0M3496 263h0M2171 1612h0M3184 589h0M3339 433h0M3347 425h0M2590 1182h0M3153 702h0M2508 1334h0M2762 1098h0M2817 921h0M2899 952h0M3532 304h0M2626 1132h0M2779 981h0M2183 1661h0M2874 888h0M2763 1093h0M2308 1541h0M2735 1124h0M3126 647h0M3588 177h0M2706 1147h0M2268 1511h0M2248 1595h0M2827 917h0M2812 1041h0M2173 1601h0M3167 683h0M2207 1631h0M2667 1099h0M3199 642h0M2955 914h0M2804 1049h0M2879 881h0M2683 1084h0M3403 445h0M2317 1461h0M2572 1198h0M3223 619h0M3385 380h0M2610 1161h0M3071 800h0M2670 1099h0M2754 1015h0M2869 979h0M3079 782h0M2117 1661h0M3104 741h0M3525 252h0M2644 1215h0M2974 780h0M3607 161h0M3282 570h0M3182 678h0M3668 183h0M3127 649h0M3112 739h0M2684 1164h0M3014 746h0M2413 1427h0M2343 1495h0M2341 1438h0M3453 323h0M2873 890h0M3437 332h0M3174 593h0M3403 440h0M3262 586h0M3199 565h0M2767 983h0M2280 1494h0M3062 692h0M2933 819h0M2485 1295h0M3182 591h0M2216 1630h0M2767 989h0M3581 267h0M2765 994h0M2619 1231h0M2771 1076h0M3518 254h0M2185 1657h0M3650 195h0M2716 1044h0M2590 1179h0M2822 948h0M3385 465h0M2778 979h0M2578 1196h0M2348 1492h0M2734 1124h0M2367 1467h0M3313 523h0M3179 586h0M2207 1634h0M2803 1048h0M2964 902h0M2805 951h0M2853 901h0M2798 963h0M3269 501h0M3150 703h0M2146 1628h0M3074 802h0M2386 1394h0M2494 1341h0M3156 611h0M2758 1009h0M2322 1450h0M3127 642h0M2274 1508h0M2766 995h0M2914 848h0M2828 1033h0M2763 1002h0M3647 196h0M2329 1446h0M2707 1142h0M2924 828h0M2774 1072h0M2408 1373h0M2768 1101h0M3081 782h0M2323 1449h0M2812 1033h0M2424 1351h0M3011 849h0M2728 1025h0M2164 1621h0M2461 1314h0M2192 1648h0M3280 573h0M2544 1227h0M3430 348h0M2867 895h0M2783 1065h0M2742 1014h0M3022 835h0M2756 1101h0M3136 714h0M3151 707h0M2173 1602h0M2683 1078h0M2908 950h0M2317 1517h0M2983 860h0M3235 614h0M2945 919h0M3092 764h0M2921 937h0M2970 798h0M2896 861h0M2371 1469h0M2386 1390h0M3132 719h0M2581 1264h0M2824 943h0M2772 976h0M2911 852h0M2316 1523h0M3229 614h0M3413 429h0M2232 1610h0M3536 306h0M2528 1244h0M2860 1011h0M2556 1284h0M3054 800h0M3015 830h0M2114 1660h0M3616 237h0M3573 273h0M3399 455h0M3226 622h0M3601 248h0M3567 283h0M2934 806h0M2946 801h0M2923 830h0M3384 383h0M2671 1103h0M3261 508h0M3519 256h0M2656 1194h0M2466 1371h0M2970 898h0M2780 1066h0M3146 627h0M2673 1095h0M2936 803h0M2710 1129h0M2958 907h0M3142 710h0M2393 1380h0M2205 1633h0M2974 781h0M3096 748h0M3146 628h0M3283 561h0M2705 1146h0M2220 1616h0M2764 997h0M2488 1352h0M2911 854h0M2676 1178h0M2944 799h0M3003 760h0M2584 1260h0M2812 1042h0M3098 742h0M3042 811h0M3629 146h0M3093 663h0M3582 263h0M2379 1405h0M3316 460h0M3274 496h0M2374 1406h0M2224 1557h0M2225 1612h0M2660 1181h0M2273 1564h0M2764 1096h0M2368 1411h0M2272 1559h0M3503 342h0M2674 1083h0M2450 1321h0M3095 761h0M2385 1452h0M3158 603h0M3058 695h0M3589 254h0M2449 1393h0M3527 313h0M3155 696h0M2881 878h0M2502 1273h0M3670 185h0M2405 1434h0M2518 1332h0M2697 1161h0M3300 471h0M2439 1396h0M2492 1349h0M3468 299h0M2787 977h0M3493 277h0M2767 994h0M3157 603h0M3532 236h0M3526 315h0M3277 574h0M2755 1013h0M3309 528h0M3201 636h0M2323 1457h0M3192 654h0M3581 261h0M3062 694h0M2704 1055h0M2852 896h0M3011 748h0M3181 679h0M2251 1530h0M2345 1431h0M3072 693h0M3067 801h0M2434 1344h0M2496 1343h0M2742 1120h0M3248 604h0M2807 951h0M2309 1537h0M2630 1132h0M2767 1086h0M2623 1132h0M3635 215h0M2647 1196h0M2888 964h0M2868 987h0M2400 1442h0M2489 1351h0M2764 1100h0M3462 386h0M3016 848h0M2578 1270h0M3520 321h0M2279 1501h0M3181 586h0M2937 919h0M2456 1320h0M3307 536h0M2639 1124h0M2179 1591h0M3567 282h0M2121 1652h0M3138 632h0M2620 1148h0M2276 1559h0M3311 465h0M2523 1327h0M2355 1484h0M3076 783h0M3157 694h0M2327 1450h0M2194 1578h0M2262 1572h0M2583 1263h0M2460 1379h0M3334 441h0M2938 802h0M3296 475h0M3403 446h0M2729 1021h0M3285 561h0M2910 951h0M2789 976h0M2268 1568h0M2169 1610h0M2999 765h0M3518 325h0M2380 1401h0M3300 468h0M2293 1547h0M3129 633h0M3239 610h0M2243 1601h0M2707 1057h0M2392 1449h0M2821 946h0M2530 1308h0M2152 1629h0M3539 307h0M2491 1294h0M2502 1337h0M2442 1337h0M2708 1129h0M2288 1550h0M2832 912h0M3044 816h0M3622 149h0M3568 207h0M3313 466h0M3611 239h0M2979 885h0M2451 1395h0M3398 372h0M3375 395h0M3088 682h0M2707 1056h0M2138 1641h0M3210 628h0M3630 143h0M2881 976h0M2761 1003h0M2680 1168h0M2617 1146h0M3002 757h0M3066 695h0M2915 851h0M2534 1237h0M3181 679h0M3038 815h0M2246 1529h0M2641 1214h0M2252 1527h0M3586 253h0M3076 685h0M3230 533h0M2923 928h0M2113 1662h0M3275 487h0M2360 1411h0M3553 223h0M2174 1604h0M2206 1631h0M3426 416h0M2829 1032h0M3418 358h0M2810 1049h0M2181 1661h0M3035 827h0M2130 1643h0M3246 529h0M3451 319h0M2437 1398h0M2749 1109h0M3106 656h0M2422 1424h0M3348 495h0M3549 220h0M2883 975h0M3210 637h0M2501 1339h0M2496 1341h0M3129 642h0M3577 269h0M2933 916h0M3162 596h0M2425 1414h0M3465 387h0M2554 1291h0M2644 1122h0M3416 362h0M2277 1566h0M2537 1234h0M2579 1194h0M2433 1343h0M2191 1590h0M2162 1628h0M3317 457h0M2989 766h0M3340 503h0M3587 181h0M2830 918h0M3253 522h0M2144 1630h0M3370 401h0M3491 274h0M3253 588h0M2471 1375h0M3162 693h0M3304 472h0M3164 689h0M3006 744h0M2315 1528h0M2589 1250h0M2405 1371h0M2869 994h0M2914 952h0M2205 1571h0M2229 1540h0M2251 1527h0M3486 281h0M2488 1359h0M2792 969h0M2388 1388h0M3221 546h0M3337 509h0M2965 904h0M3022 747h0M2770 979h0M3211 633h0M3558 210h0M3120 649h0M2886 972h0M3403 440h0M2612 1232h0M3322 521h0M2290 1493h0M3180 585h0M3305 469h0M2195 1578h0M3432 345h0M2607 1166h0M3573 198h0M2423 1418h0M3241 611h0M2646 1206h0M2821 945h0M3530 310h0M2295 1473h0M2887 875h0M2764 1002h0M3517 341h0M2116 1655h0M2817 952h0M2258 1526h0M3450 397h0M2319 1460h0M3566 205h0M3378 390h0M2493 1290h0M2610 1240h0M2735 1120h0M2877 881h0M2882 967h0M2855 902h0M3188 665h0M2842 1017h0M3302 471h0M2256 1576h0M3356 491h0M2242 1530h0M2960 901h0M3556 289h0M2188 1656h0M2319 1514h0M2395 1449h0M2433 1339h0M3524 251h0M2511 1333h0M2474 1301h0M2475 1361h0M2642 1213h0M2578 1189h0M3280 574h0M2193 1581h0M2327 1442h0M2363 1410h0M2883 970h0M2790 979h0M2209 1630h0M2447 1393h0M2468 1307h0M2377 1408h0M3072 801h0M3462 386h0M3195 645h0M3037 723h0M3180 680h0M2523 1328h0M2769 980h0M3260 512h0M2805 958h0M3018 832h0M2831 1035h0M3096 751h0M2668 1101h0M3333 440h0M2279 1500h0M2478 1362h0M2718 1041h0M2609 1238h0M3196 575h0M3431 355h0M2556 1216h0M3005 758h0M3422 416h0M3166 684h0M3548 224h0M3565 205h0M3176 591h0M2584 1259h0M3246 530h0M2485 1297h0M3607 242h0M2582 1193h0M3302 548h0M2129 1649h0M2661 1184h0M2711 1129h0M2217 1623h0M3530 245h0M2408 1366h0M2941 802h0M3613 156h0M2389 1396h0M3316 461h0M2408 1439h0M2341 1436h0M3399 372h0M2647 1118h0M2789 975h0M3584 181h0M2202 1644h0M2371 1413h0M2874 883h0M2758 1007h0M2620 1135h0M2405 1370h0M2283 1494h0M2636 1216h0M2364 1472h0M3455 394h0M3328 448h0M2111 1656h0M3186 677h0M2429 1413h0M3034 828h0M3430 408h0M2857 895h0M2862 1011h0M2921 950h0M2202 1631h0M3021 747h0M2917 849h0M3156 606h0M3096 762h0M3341 432h0M3141 629h0M2254 1526h0M2760 1012h0M2556 1279h0M2524 1323h0M2882 860h0M2398 1442h0M2647 1216h0M2522 1326h0M3346 495h0M2679 1165h0M3582 266h0M3574 197h0M2700 1144h0M2144 1630h0M3314 529h0M2720 1031h0M2596 1173h0M2485 1354h0M2460 1383h0M2429 1351h0M3328 453h0M3168 683h0M3538 305h0M2170 1614h0M2457 1318h0M3022 746h0M3307 534h0M2509 1265h0M3036 830h0M2465 1370h0M2343 1430h0M3217 550h0M2320 1457h0M2881 963h0M2289 1494h0M3616 229h0M3137 713h0M2649 1197h0M2764 1096h0M2956 917h0M3330 437h0M3215 629h0M2792 1068h0M2290 1485h0M2323 1509h0M3488 354h0M2581 1264h0M2633 1134h0M3548 225h0M3140 710h0M2453 1327h0M3513 338h0M2602 1172h0M2584 1191h0M2631 1220h0M3401 457h0M2474 1309h0M3558 213h0M2495 1337h0M2723 1127h0M2916 952h0M2358 1424h0M2399 1378h0M3317 525h0M2870 895h0M2435 1342h0M3497 272h0M2163 1671h0M3348 497h0M3340 427h0M2253 1574h0M2529 1241h0M3250 520h0M2515 1253h0M3166 593h0M3437 403h0M3494 266h0M2539 1303h0M3363 490h0M2973 798h0M2405 1369h0M3045 815h0M3456 317h0M3049 811h0M2375 1457h0M3418 427h0M3382 465h0M3091 765h0M2418 1425h0M2312 1466h0M2535 1235h0M2332 1510h0M2711 1045h0M3061 697h0M3143 706h0M3319 452h0M2850 1021h0M2877 879h0M2457 1319h0M2960 900h0M2495 1279h0M3624 237h0M2866 866h0M2259 1492h0M2835 1042h0M3275 476h0M3396 351h0M2613 1137h0M2508 1242h0M2159 1601h0M3343 412h0M3280 474h0M3168 706h0M2374 1385h0M2258 1493h0M3019 859h0M3661 205h0M2344 1509h0M3467 396h0M2946 939h0M2772 1102h0M2474 1383h0M3408 350h0M2691 1058h0M3547 198h0M2590 1153h0M2145 1616h0M2237 1523h0M3185 687h0M2604 1144h0M2657 1205h0M3052 690h0M2622 1248h0M3255 612h0M2284 1580h0M2552 1309h0M2723 1149h0M2300 1556h0M2251 1602h0M3321 549h0M2981 897h0M3532 214h0M2391 1464h0M3229 528h0M2350 1410h0M3000 873h0M2409 1444h0M3555 310h0M2851 882h0M2922 964h0M2216 1540h0M2863 877h0M2869 1011h0M3036 836h0M3228 640h0M2709 1037h0M3213 532h0M2465 1389h0M3410 338h0M2820 1052h0M3242 630h0M2717 1028h0M2177 1576h0M2816 919h0M3168 698h0M2820 912h0M2403 1451h0M3499 255h0M3330 422h0M3386 482h0M2547 1318h0M2815 1063h0M2954 943h0M2856 889h0M2601 1140h0M2905 835h0M2965 924h0M2949 925h0M2616 1133h0M2969 756h0M3172 706h0M2758 988h0M3060 829h0M2857 862h0M2862 1028h0M2648 1225h0M2670 1197h0M2807 935h0M3072 806h0M3113 765h0M2953 930h0M2970 910h0M2928 960h0M2856 1014h0M3086 662h0M2837 874h0M3091 662h0M3173 576h0M3051 854h0M3027 723h0M2892 991h0M2858 885h0M2971 901h0M2631 1233h0M2788 952h0M2748 1116h0M2796 1077h0M2803 1080h0M2946 788h0M2751 1116h0M2902 970h0M2690 1187h0M2651 1214h0M2594 1154h0M3111 621h0M3137 608h0M2769 977h0M3197 671h0M2838 908h0M2937 804h0M3016 908h0M3076 817h0M3100 636h0M2655 1272h0M2889 992h0M2796 931h0M2897 976h0M2686 1176h0M3026 843h0M2859 883h0M2746 999h0M2884 845h0M2817 927h0M2880 855h0M2869 877h0M2950 921h0M2897 846h0M2886 986h0M2829 915h0M3109 825h0M3311 436h0M3053 680h0M2925 956h0M2640 1111h0M3129 767h0M2948 934h0M2806 1067h0M3378 485h0M3046 691h0M2831 905h0M2879 1009h0M2740 988h0M2784 954h0M2917 801h0M3107 789h0M2934 936h0M3133 741h0M2651 1074h0M2897 837h0M2767 1104h0M2964 780h0M3016 855h0M2876 1001h0M3030 877h0M2881 1002h0M2896 986h0M2999 890h0M3085 662h0M2920 822h0M2969 906h0M3134 730h0M3077 837h0M3141 727h0M2606 1258h0M2621 1259h0M2964 922h0M3155 716h0M2738 1010h0M2948 799h0M3129 738h0M2656 1205h0M3195 674h0M2974 752h0M2817 921h0M2855 1018h0M2708 1155h0M2807 931h0M3022 867h0M2944 928h0M2671 1011h0M3078 791h0M2654 1088h0M2843 1030h0M3157 585h0M2693 1172h0M2806 928h0M2604 1134h0M2976 764h0M2870 861h0M2750 1137h0M2983 757h0M2987 759h0M2891 844h0M2958 769h0M2676 1077h0M2952 794h0M2926 953h0M2971 775h0M3108 633h0M2863 858h0M3200 547h0M2901 840h0M2955 944h0M2829 889h0M2890 824h0M2987 906h0M2652 1222h0M2737 1004h0M2886 1001h0M3118 617h0M2968 911h0" stroke="#100632" stroke-width="9.5" stroke-linecap="round" fill="none"/>
<path d="M2377.1 1408.0 L2385.9 1397.5 L2394.3 1386.6 L2401.9 1375.0 L2411.6 1365.4 L2419.4 1354.0 L2428.3 1343.6 L2437.4 1333.4 L2446.8 1323.6 L2455.5 1313.0 L2464.7 1302.9 L2474.2 1293.1 L2483.3 1283.0 L2492.6 1273.1 L2502.8 1263.9 L2512.1 1253.9 L2521.3 1243.9 L2531.6 1234.9 L2546.5 1230.6 L2556.1 1220.9 L2564.7 1210.3 L2573.5 1199.7 L2582.5 1189.6 L2592.2 1180.0 L2601.4 1169.9 L2611.5 1160.7 L2620.3 1150.2 L2629.9 1140.5 L2639.6 1131.0 L2648.6 1120.7 L2658.1 1111.0 L2668.1 1101.7 L2677.2 1091.5 L2687.1 1082.2 L2696.3 1072.1 L2706.0 1062.5 L2715.2 1052.5 L2725.4 1043.4 L2735.3 1034.0 L2744.7 1024.2 L2754.0 1014.2 L2763.4 1004.3 L2773.9 995.5 L2783.4 985.8 L2793.6 976.7 L2802.5 966.4 L2813.0 957.6 L2822.1 947.4 L2832.7 938.8 L2842.3 929.1 L2852.4 919.9 L2862.0 910.2 L2871.5 900.5 L2881.4 891.1 L2890.9 881.4 L2901.5 872.7 L2910.6 862.5 L2920.8 853.5 L2930.1 843.5 L2939.9 834.0 L2950.3 825.2 L2959.9 815.5 L2969.8 806.1 L2980.1 797.1 L2989.9 787.6 L2999.3 777.8 L3009.1 768.4 L3018.9 758.9 L3029.1 749.8 L3039.7 741.2 L3048.7 730.9 L3059.6 722.5 L3069.8 713.4 L3079.3 703.6 L3090.0 695.1 L3099.1 684.9 L3109.7 676.3 L3119.5 666.8 L3130.6 658.6 L3140.6 649.4 L3151.1 640.6 L3160.8 631.0 L3171.4 622.4 L3181.1 612.8 L3192.2 604.7 L3202.7 595.9 L3213.4 587.4 L3215.6 570.3 L3225.9 561.3 L3235.8 551.9 L3246.2 543.0 L3256.6 534.2 L3267.6 525.9 L3277.8 516.8 L3288.7 508.5 L3298.6 499.1 L3309.2 490.4 L3320.6 482.5 L3330.9 473.6 L3341.8 465.2 L3352.2 456.4 L3363.4 448.3 L3373.6 439.3 L3385.0 431.4 L3396.6 423.7 L3401.6 428.8 L3393.3 439.7 L3384.7 450.3 L3376.8 461.7 L3367.8 472.0 L3359.4 482.8 L3350.3 493.1 L3341.8 503.8 L3332.0 513.3 L3323.0 523.5 L3314.6 534.3 L3305.0 544.0 L3296.0 554.3 L3286.3 563.9 L3277.0 573.8 L3267.8 583.9 L3258.9 594.3 L3249.3 603.9 L3232.6 606.6 L3223.5 616.7 L3214.5 627.0 L3204.6 636.4 L3196.1 647.1 L3186.6 656.8 L3177.9 667.4 L3168.3 677.1 L3159.1 687.2 L3148.9 696.2 L3139.8 706.4 L3129.8 715.7 L3121.4 726.5 L3111.2 735.6 L3102.3 746.0 L3092.6 755.6 L3082.2 764.4 L3073.7 775.1 L3063.4 784.1 L3053.5 793.5 L3044.1 803.3 L3034.5 813.1 L3025.3 823.1 L3015.7 832.8 L3005.6 841.9 L2995.9 851.5 L2986.4 861.2 L2976.0 870.1 L2966.2 879.6 L2956.9 889.6 L2946.6 898.5 L2937.4 908.6 L2926.7 917.2 L2917.0 926.7 L2906.9 935.9 L2897.6 945.9 L2888.2 955.7 L2878.2 965.1 L2868.8 974.8 L2858.1 983.5 L2849.1 993.7 L2838.6 1002.5 L2829.6 1012.7 L2819.3 1021.7 L2809.7 1031.4 L2799.0 1040.0 L2789.4 1049.6 L2779.9 1059.4 L2770.2 1068.9 L2760.0 1078.0 L2749.5 1086.8 L2739.9 1096.4 L2729.7 1105.6 L2720.2 1115.3 L2709.7 1124.1 L2700.1 1133.7 L2689.5 1142.4 L2679.3 1151.5 L2669.7 1161.1 L2659.2 1169.9 L2648.8 1178.8 L2639.2 1188.5 L2628.2 1196.7 L2618.0 1205.8 L2607.3 1214.3 L2597.0 1223.3 L2587.0 1232.6 L2576.9 1241.8 L2565.7 1249.8 L2561.9 1265.3 L2551.2 1273.8 L2541.6 1283.5 L2532.0 1293.2 L2521.5 1301.9 L2511.8 1311.5 L2501.3 1320.3 L2490.5 1328.8 L2479.9 1337.4 L2469.6 1346.4 L2458.6 1354.7 L2447.8 1363.1 L2437.0 1371.6 L2427.2 1381.0 L2415.4 1388.5 L2405.3 1397.7 L2394.2 1405.8 L2382.1 1413.0Z" fill="#0e043d"/>
<path d="M2388.9 1400.5 L2396.6 1388.9 L2405.1 1378.2 L2413.3 1367.1 L2421.4 1356.0 L2430.3 1345.6 L2439.8 1335.8 L2448.1 1324.8 L2457.2 1314.7 L2465.9 1304.2 L2476.0 1295.0 L2484.9 1284.6 L2493.9 1274.3 L2503.5 1264.7 L2511.7 1253.5 L2521.5 1244.1 L2530.9 1234.3 L2546.7 1230.8 L2556.1 1220.9 L2565.5 1211.0 L2574.4 1200.7 L2584.1 1191.1 L2593.1 1180.9 L2602.7 1171.2 L2611.1 1160.3 L2621.1 1151.0 L2629.8 1140.4 L2639.5 1130.9 L2649.2 1121.4 L2658.3 1111.2 L2667.6 1101.2 L2677.2 1091.6 L2687.6 1082.6 L2696.8 1072.6 L2706.3 1062.9 L2716.3 1053.6 L2725.2 1043.2 L2735.2 1033.9 L2744.7 1024.2 L2754.9 1015.1 L2763.8 1004.8 L2774.1 995.8 L2784.2 986.6 L2793.8 976.9 L2803.6 967.4 L2813.6 958.2 L2823.0 948.3 L2832.8 938.9 L2842.2 929.0 L2852.0 919.5 L2862.6 910.9 L2872.3 901.3 L2882.1 891.8 L2891.9 882.3 L2901.5 872.7 L2911.5 863.4 L2920.9 853.6 L2930.7 844.1 L2940.8 834.9 L2950.6 825.4 L2960.8 816.3 L2969.6 805.9 L2979.5 796.6 L2989.8 787.6 L2999.9 778.4 L3009.8 769.0 L3019.5 759.5 L3029.9 750.6 L3039.2 740.7 L3050.1 732.3 L3060.2 723.1 L3069.8 713.4 L3079.5 703.9 L3090.3 695.4 L3100.2 686.0 L3110.8 677.3 L3120.4 667.8 L3130.2 658.3 L3140.4 649.2 L3151.6 641.1 L3161.4 631.7 L3171.7 622.7 L3182.0 613.7 L3192.5 604.9 L3203.4 596.6 L3214.0 587.9 L3217.1 571.7 L3227.0 562.4 L3237.4 553.5 L3248.0 544.8 L3259.0 536.5 L3268.7 527.0 L3278.8 517.8 L3289.9 509.7 L3300.7 501.2 L3310.8 492.0 L3322.0 484.0 L3332.3 475.0 L3343.6 467.1 L3354.7 458.9 L3365.4 450.3 L3376.4 442.0 L3388.3 434.6 L3390.0 436.4 L3382.2 447.8 L3374.3 459.2 L3366.1 470.3 L3357.3 480.8 L3348.0 490.7 L3339.7 501.7 L3330.2 511.5 L3321.9 522.4 L3312.6 532.4 L3302.9 542.0 L3294.2 552.5 L3285.8 563.3 L3276.0 572.8 L3266.6 582.7 L3257.3 592.7 L3248.4 603.0 L3231.9 605.8 L3223.0 616.2 L3213.5 626.0 L3204.3 636.0 L3195.3 646.3 L3186.1 656.3 L3177.2 666.7 L3167.0 675.8 L3157.6 685.7 L3148.7 696.0 L3139.8 706.4 L3129.9 715.7 L3120.6 725.7 L3110.5 734.9 L3101.3 744.9 L3092.2 755.2 L3082.6 764.8 L3072.2 773.6 L3063.3 784.0 L3053.2 793.2 L3043.8 803.0 L3034.2 812.7 L3024.4 822.2 L3014.3 831.3 L3004.5 840.8 L2995.8 851.4 L2985.7 860.6 L2976.0 870.1 L2965.9 879.3 L2956.2 888.8 L2946.7 898.6 L2936.6 907.8 L2926.8 917.3 L2916.9 926.6 L2906.9 935.9 L2897.4 945.7 L2886.9 954.5 L2877.3 964.1 L2868.0 974.1 L2858.2 983.6 L2848.8 993.4 L2838.8 1002.7 L2828.9 1012.1 L2819.2 1021.6 L2809.0 1030.7 L2798.6 1039.5 L2789.4 1049.6 L2779.0 1058.5 L2769.2 1067.9 L2758.9 1076.9 L2749.7 1087.0 L2739.3 1095.8 L2729.3 1105.1 L2719.6 1114.7 L2708.8 1123.1 L2698.6 1132.2 L2688.7 1141.6 L2678.9 1151.1 L2668.5 1160.0 L2658.0 1168.7 L2648.5 1178.4 L2637.6 1186.9 L2628.4 1196.8 L2617.7 1205.5 L2607.6 1214.6 L2596.8 1223.1 L2586.5 1232.1 L2575.7 1240.5 L2564.6 1248.7 L2561.3 1264.6 L2551.4 1274.1 L2540.8 1282.7 L2531.5 1292.7 L2520.7 1301.1 L2510.4 1310.1 L2500.1 1319.1 L2488.6 1326.8 L2478.3 1335.8 L2467.5 1344.3 L2457.5 1353.5 L2446.1 1361.4 L2435.1 1369.7 L2424.7 1378.5 L2414.0 1387.1 L2402.4 1394.8 L2390.6 1402.3Z" fill="#0d0340"/>
<path d="M2407.1 1380.2 L2414.9 1368.7 L2423.4 1358.0 L2432.3 1347.6 L2441.0 1337.1 L2450.4 1327.2 L2459.0 1316.5 L2467.9 1306.1 L2476.9 1295.9 L2486.1 1285.8 L2495.4 1275.8 L2503.8 1264.9 L2513.5 1255.4 L2522.9 1245.5 L2532.4 1235.7 L2548.0 1232.0 L2557.1 1222.0 L2565.4 1211.0 L2575.4 1201.7 L2583.9 1190.9 L2593.7 1181.4 L2603.3 1171.7 L2612.0 1161.2 L2621.1 1151.1 L2631.3 1142.0 L2640.0 1131.4 L2649.6 1121.7 L2659.0 1111.9 L2668.1 1101.7 L2677.7 1092.1 L2687.5 1082.5 L2697.6 1073.4 L2706.4 1063.0 L2717.0 1054.2 L2725.7 1043.7 L2735.9 1034.6 L2745.5 1025.0 L2754.5 1014.7 L2764.9 1005.8 L2774.4 996.1 L2784.0 986.4 L2793.8 976.9 L2804.0 967.9 L2813.1 957.7 L2823.7 949.1 L2832.7 938.8 L2842.8 929.6 L2852.4 919.9 L2862.8 911.0 L2872.8 901.8 L2882.7 892.5 L2891.7 882.2 L2901.4 872.6 L2911.8 863.7 L2921.8 854.5 L2931.6 844.9 L2941.3 835.4 L2951.1 825.9 L2960.8 816.4 L2970.4 806.7 L2980.7 797.7 L2990.2 788.0 L3000.1 778.7 L3010.6 769.9 L3020.7 760.6 L3030.6 751.3 L3040.3 741.7 L3050.0 732.2 L3059.8 722.7 L3070.4 714.0 L3080.7 705.1 L3090.0 695.1 L3101.0 686.8 L3111.1 677.6 L3120.8 668.1 L3130.7 658.8 L3141.1 649.8 L3151.8 641.3 L3162.1 632.4 L3172.4 623.3 L3182.6 614.3 L3193.8 606.2 L3204.2 597.4 L3213.9 587.8 L3217.7 572.4 L3228.5 563.8 L3238.6 554.7 L3249.3 546.1 L3259.7 537.2 L3270.0 528.3 L3280.6 519.7 L3290.9 510.7 L3301.5 502.0 L3312.5 493.7 L3323.6 485.6 L3333.8 476.5 L3344.8 468.2 L3356.3 460.4 L3368.4 453.3 L3372.1 457.0 L3363.4 467.6 L3354.6 478.1 L3346.0 488.7 L3338.0 499.9 L3328.8 510.0 L3319.5 520.1 L3310.7 530.5 L3301.9 541.0 L3292.7 551.1 L3283.8 561.4 L3274.8 571.6 L3265.3 581.4 L3256.3 591.7 L3246.7 601.3 L3230.6 604.6 L3222.6 615.8 L3213.7 626.2 L3203.9 635.6 L3194.8 645.8 L3185.7 655.9 L3176.4 665.9 L3166.6 675.4 L3157.1 685.2 L3148.1 695.4 L3139.1 705.7 L3129.8 715.6 L3119.4 724.5 L3110.8 735.2 L3101.0 744.6 L3091.0 753.9 L3081.6 763.8 L3072.3 773.8 L3063.1 783.8 L3053.5 793.5 L3043.8 803.1 L3033.6 812.1 L3023.9 821.7 L3014.6 831.7 L3004.5 840.8 L2995.1 850.7 L2985.4 860.3 L2975.7 869.9 L2966.0 879.4 L2956.3 888.9 L2946.2 898.1 L2935.8 907.0 L2926.0 916.4 L2916.8 926.5 L2906.6 935.6 L2896.8 945.1 L2886.6 954.2 L2877.1 963.9 L2867.1 973.2 L2858.2 983.6 L2847.5 992.2 L2838.5 1002.3 L2828.2 1011.3 L2818.2 1020.6 L2808.5 1030.2 L2798.8 1039.8 L2788.2 1048.4 L2779.0 1058.5 L2769.0 1067.8 L2758.5 1076.5 L2749.4 1086.7 L2738.5 1095.0 L2729.2 1105.0 L2718.6 1113.7 L2708.3 1122.7 L2698.2 1131.8 L2688.4 1141.3 L2678.3 1150.5 L2668.0 1159.5 L2658.6 1169.3 L2647.6 1177.5 L2637.5 1186.8 L2627.9 1196.3 L2617.2 1205.0 L2606.3 1213.4 L2596.7 1223.0 L2585.3 1230.9 L2575.6 1240.4 L2564.7 1248.8 L2561.3 1264.7 L2550.7 1273.3 L2540.2 1282.1 L2529.2 1290.4 L2519.5 1299.9 L2508.9 1308.6 L2498.2 1317.2 L2487.6 1325.9 L2477.1 1334.6 L2466.7 1343.5 L2455.4 1351.4 L2444.5 1359.8 L2433.2 1367.8 L2422.0 1375.8 L2410.8 1383.9Z" fill="#0d0343"/>
<path d="M2417.4 1371.3 L2425.9 1360.4 L2433.8 1349.1 L2443.0 1339.0 L2451.6 1328.4 L2460.5 1318.0 L2469.0 1307.3 L2478.0 1296.9 L2487.7 1287.4 L2496.7 1277.1 L2505.9 1267.1 L2514.7 1256.6 L2524.0 1246.6 L2532.9 1236.3 L2548.6 1232.7 L2557.4 1222.2 L2565.8 1211.4 L2575.4 1201.6 L2585.2 1192.2 L2594.4 1182.1 L2603.0 1171.5 L2612.1 1161.3 L2621.8 1151.8 L2631.3 1142.0 L2640.1 1131.5 L2650.2 1122.3 L2659.5 1112.4 L2668.7 1102.3 L2678.9 1093.2 L2687.9 1083.0 L2697.3 1073.1 L2707.0 1063.5 L2716.6 1053.8 L2726.7 1044.7 L2736.4 1035.1 L2745.2 1024.7 L2755.7 1015.9 L2764.5 1005.5 L2774.7 996.4 L2784.9 987.3 L2794.1 977.2 L2804.2 968.1 L2813.6 958.2 L2823.6 948.9 L2833.9 940.0 L2843.5 930.3 L2853.0 920.6 L2862.9 911.1 L2873.4 902.4 L2882.6 892.3 L2892.4 882.9 L2902.4 873.6 L2911.3 863.2 L2921.1 853.8 L2931.1 844.5 L2941.1 835.2 L2951.6 826.4 L2960.6 816.2 L2971.0 807.4 L2980.3 797.3 L2990.6 788.4 L3000.4 778.9 L3010.7 770.0 L3020.7 760.7 L3030.6 751.4 L3040.9 742.3 L3050.4 732.6 L3061.0 723.9 L3070.3 713.9 L3080.8 705.2 L3090.7 695.9 L3101.5 687.4 L3110.8 677.4 L3121.2 668.5 L3131.7 659.7 L3141.4 650.2 L3152.3 641.8 L3162.0 632.2 L3172.4 623.4 L3183.3 615.0 L3193.4 605.8 L3204.1 597.3 L3214.5 588.4 L3218.8 573.4 L3229.4 564.7 L3240.6 556.7 L3250.7 547.5 L3260.7 538.2 L3271.7 530.0 L3282.6 521.6 L3292.9 512.7 L3303.3 503.8 L3314.6 495.8 L3325.5 487.4 L3336.0 478.7 L3346.9 470.3 L3358.8 463.0 L3360.7 464.9 L3352.6 476.0 L3344.5 487.2 L3336.5 498.4 L3327.8 509.0 L3318.4 518.9 L3309.9 529.7 L3301.2 540.3 L3291.9 550.2 L3282.3 559.9 L3273.7 570.6 L3264.9 581.0 L3254.9 590.3 L3245.5 600.1 L3230.1 604.0 L3221.5 614.7 L3212.3 624.7 L3203.5 635.3 L3193.9 644.9 L3184.6 654.8 L3175.9 665.4 L3166.0 674.8 L3157.2 685.2 L3147.6 694.9 L3137.9 704.5 L3129.4 715.3 L3119.3 724.4 L3110.0 734.4 L3100.0 743.7 L3091.3 754.2 L3081.2 763.4 L3072.1 773.6 L3062.3 783.1 L3052.7 792.7 L3043.1 802.4 L3033.1 811.6 L3023.6 821.4 L3013.4 830.5 L3004.4 840.7 L2994.1 849.7 L2985.2 860.1 L2974.8 869.0 L2964.8 878.2 L2954.9 887.6 L2945.0 897.0 L2936.1 907.3 L2926.0 916.5 L2916.0 925.7 L2906.6 935.6 L2896.3 944.6 L2886.6 954.1 L2877.1 963.9 L2867.7 973.7 L2857.3 982.7 L2847.4 992.0 L2838.0 1001.8 L2827.7 1010.9 L2818.4 1020.8 L2808.1 1029.7 L2797.7 1038.6 L2788.6 1048.8 L2777.9 1057.4 L2768.8 1067.5 L2758.8 1076.8 L2748.2 1085.5 L2738.2 1094.8 L2728.1 1103.9 L2718.2 1113.3 L2708.7 1123.0 L2697.8 1131.5 L2688.1 1141.0 L2678.0 1150.2 L2667.3 1158.7 L2657.6 1168.3 L2647.4 1177.3 L2636.7 1186.0 L2626.7 1195.2 L2617.0 1204.7 L2606.6 1213.7 L2595.6 1221.9 L2584.7 1230.3 L2574.8 1239.6 L2564.3 1248.4 L2559.6 1263.0 L2549.6 1272.2 L2539.1 1281.0 L2529.0 1290.1 L2518.4 1298.8 L2507.9 1307.6 L2496.6 1315.6 L2486.0 1324.2 L2475.7 1333.2 L2464.8 1341.6 L2454.0 1350.0 L2442.4 1357.7 L2431.6 1366.1 L2419.3 1373.2Z" fill="#0c0246"/>
<path d="M2436.2 1351.5 L2444.8 1340.8 L2453.4 1330.2 L2461.5 1319.0 L2470.5 1308.7 L2479.4 1298.3 L2488.6 1288.3 L2497.6 1278.0 L2506.1 1267.3 L2516.0 1257.9 L2525.1 1247.7 L2534.0 1237.3 L2548.7 1232.8 L2557.9 1222.7 L2566.8 1212.4 L2576.3 1202.6 L2585.2 1192.2 L2594.7 1182.5 L2603.7 1172.2 L2613.2 1162.4 L2622.1 1152.1 L2631.5 1142.2 L2640.7 1132.1 L2650.3 1122.4 L2660.0 1112.9 L2669.2 1102.8 L2678.5 1092.9 L2688.3 1083.3 L2698.5 1074.3 L2707.7 1064.3 L2716.9 1054.2 L2727.3 1045.3 L2736.3 1035.0 L2745.6 1025.0 L2755.3 1015.5 L2765.4 1006.3 L2775.0 996.6 L2784.5 986.9 L2794.2 977.4 L2804.4 968.3 L2813.8 958.4 L2824.4 949.7 L2833.9 940.0 L2843.9 930.7 L2853.4 920.9 L2862.8 911.1 L2873.6 902.6 L2883.0 892.8 L2892.9 883.4 L2902.6 873.8 L2912.5 864.4 L2921.9 854.6 L2932.0 845.4 L2941.1 835.2 L2951.8 826.6 L2961.7 817.3 L2971.7 808.0 L2980.6 797.6 L2990.5 788.2 L3001.4 779.9 L3010.9 770.2 L3020.9 760.9 L3030.6 751.3 L3041.4 742.8 L3050.4 732.6 L3060.9 723.8 L3071.4 715.1 L3080.9 705.3 L3091.4 696.5 L3101.3 687.2 L3111.2 677.8 L3121.5 668.8 L3131.6 659.7 L3142.7 651.5 L3152.1 641.6 L3162.4 632.7 L3173.1 624.1 L3183.6 615.3 L3194.7 607.1 L3204.3 597.5 L3215.3 589.2 L3220.0 574.6 L3230.6 565.9 L3241.3 557.4 L3251.8 548.7 L3262.0 539.5 L3272.7 531.0 L3283.5 522.5 L3293.8 513.6 L3304.6 505.1 L3315.4 496.6 L3327.3 489.2 L3338.2 480.9 L3342.8 485.5 L3334.8 496.8 L3325.4 506.6 L3316.9 517.4 L3308.0 527.8 L3299.5 538.6 L3290.4 548.7 L3281.3 558.9 L3272.6 569.4 L3263.4 579.5 L3254.0 589.4 L3244.6 599.3 L3229.9 603.8 L3220.7 613.9 L3212.6 625.0 L3202.9 634.6 L3193.6 644.6 L3184.1 654.4 L3174.8 664.4 L3166.5 675.3 L3156.3 684.4 L3147.0 694.3 L3137.5 704.1 L3128.4 714.2 L3119.2 724.3 L3109.3 733.7 L3100.4 744.1 L3090.4 753.3 L3080.4 762.6 L3071.9 773.4 L3061.5 782.3 L3052.3 792.3 L3042.6 801.8 L3033.4 811.9 L3022.7 820.5 L3013.1 830.1 L3004.4 840.7 L2994.5 850.1 L2984.7 859.6 L2974.2 868.3 L2965.1 878.5 L2955.0 887.7 L2945.6 897.5 L2935.6 906.8 L2925.9 916.3 L2915.8 925.6 L2906.1 935.1 L2895.6 943.9 L2886.3 953.8 L2876.9 963.7 L2867.0 973.1 L2857.5 982.9 L2846.9 991.6 L2837.5 1001.3 L2827.2 1010.4 L2817.3 1019.7 L2807.7 1029.3 L2797.9 1038.8 L2787.6 1047.8 L2777.6 1057.0 L2767.9 1066.7 L2758.6 1076.6 L2747.8 1085.1 L2738.3 1094.8 L2728.6 1104.4 L2717.8 1112.9 L2707.5 1121.9 L2697.6 1131.2 L2687.8 1140.7 L2677.3 1149.5 L2667.0 1158.5 L2657.1 1167.7 L2646.8 1176.8 L2636.9 1186.1 L2626.4 1194.9 L2616.4 1204.2 L2605.7 1212.7 L2595.6 1221.9 L2584.8 1230.3 L2574.3 1239.1 L2563.3 1247.4 L2558.6 1262.0 L2548.5 1271.1 L2538.2 1280.1 L2526.9 1288.1 L2516.9 1297.3 L2506.4 1306.0 L2495.4 1314.4 L2484.7 1322.9 L2473.7 1331.2 L2463.5 1340.2 L2452.4 1348.4 L2440.7 1356.0Z" fill="#0c024a"/>
<path d="M2446.3 1342.4 L2455.2 1331.9 L2463.2 1320.7 L2471.9 1310.1 L2481.1 1300.1 L2489.6 1289.3 L2498.1 1278.6 L2507.5 1268.6 L2516.9 1258.8 L2526.1 1248.7 L2534.9 1238.2 L2549.6 1233.7 L2558.0 1222.8 L2567.2 1212.8 L2575.9 1202.2 L2585.8 1192.9 L2594.7 1182.4 L2604.5 1173.0 L2613.3 1162.5 L2622.8 1152.7 L2632.0 1142.7 L2641.0 1132.4 L2651.4 1123.5 L2659.9 1112.8 L2669.8 1103.4 L2679.6 1093.9 L2688.3 1083.4 L2698.1 1073.9 L2708.4 1065.0 L2717.1 1054.3 L2727.6 1045.6 L2736.2 1035.0 L2746.6 1026.1 L2756.2 1016.4 L2765.7 1006.6 L2775.6 997.2 L2785.3 987.7 L2795.0 978.1 L2804.3 968.2 L2814.3 958.9 L2824.0 949.3 L2833.9 940.0 L2844.0 930.7 L2853.4 920.9 L2863.4 911.6 L2873.2 902.2 L2883.0 892.7 L2893.2 883.7 L2902.3 873.5 L2912.0 863.9 L2922.7 855.3 L2931.9 845.3 L2941.8 835.9 L2951.6 826.5 L2961.9 817.4 L2971.2 807.6 L2981.0 798.0 L2990.8 788.6 L3001.3 779.8 L3011.8 771.0 L3021.2 761.1 L3031.0 751.7 L3041.8 743.2 L3051.3 733.4 L3061.7 724.6 L3071.0 714.6 L3081.9 706.3 L3092.0 697.1 L3101.9 687.8 L3112.0 678.6 L3122.8 670.1 L3132.3 660.3 L3142.2 651.0 L3152.8 642.3 L3162.8 633.1 L3173.4 624.3 L3184.1 615.8 L3195.2 607.7 L3205.3 598.5 L3215.9 589.8 L3221.8 576.4 L3231.9 567.2 L3241.7 557.8 L3252.3 549.1 L3263.1 540.7 L3273.8 532.1 L3284.6 523.6 L3295.7 515.5 L3306.0 506.5 L3317.7 498.9 L3328.4 490.4 L3332.0 494.0 L3324.4 505.7 L3315.3 515.8 L3307.2 527.0 L3298.1 537.1 L3289.1 547.4 L3280.1 557.7 L3270.8 567.7 L3261.7 577.8 L3253.2 588.6 L3244.4 599.0 L3229.5 603.4 L3220.8 613.9 L3212.2 624.7 L3202.5 634.2 L3193.0 644.0 L3183.6 653.9 L3174.7 664.3 L3165.1 673.9 L3156.1 684.2 L3147.5 694.8 L3137.6 704.2 L3128.2 714.1 L3119.0 724.1 L3109.6 734.0 L3099.2 742.9 L3090.5 753.5 L3080.6 762.8 L3071.6 773.1 L3061.2 781.9 L3051.8 791.8 L3042.8 802.0 L3032.6 811.1 L3022.4 820.2 L3012.8 829.9 L3003.3 839.6 L2994.1 849.7 L2984.0 858.8 L2974.2 868.4 L2964.4 877.8 L2955.2 887.9 L2944.5 896.4 L2934.8 906.0 L2925.6 916.0 L2915.2 924.9 L2905.2 934.2 L2895.6 943.9 L2885.7 953.3 L2876.4 963.2 L2866.4 972.5 L2856.5 981.9 L2846.8 991.4 L2836.8 1000.7 L2827.4 1010.5 L2817.5 1019.9 L2807.6 1029.3 L2797.5 1038.5 L2787.8 1048.0 L2777.9 1057.4 L2767.2 1066.0 L2758.3 1076.3 L2747.3 1084.6 L2738.2 1094.8 L2727.4 1103.2 L2717.1 1112.2 L2707.8 1122.2 L2697.5 1131.1 L2686.9 1139.8 L2677.7 1149.8 L2666.5 1158.0 L2656.7 1167.4 L2646.6 1176.6 L2636.2 1185.4 L2626.4 1194.9 L2615.5 1203.3 L2605.5 1212.5 L2594.3 1220.6 L2584.2 1229.8 L2573.4 1238.3 L2563.3 1247.4 L2557.5 1260.9 L2547.5 1270.1 L2536.9 1278.8 L2526.0 1287.2 L2515.1 1295.6 L2504.9 1304.6 L2494.6 1313.6 L2483.4 1321.6 L2472.5 1330.0 L2461.9 1338.7 L2450.0 1346.0Z" fill="#0b014d"/>
<path d="M2456.6 1333.3 L2464.5 1322.0 L2473.2 1311.4 L2482.7 1301.6 L2491.4 1291.1 L2500.4 1280.8 L2508.7 1269.8 L2517.6 1259.5 L2527.5 1250.1 L2535.9 1239.2 L2549.9 1234.0 L2559.3 1224.1 L2568.0 1213.5 L2576.6 1202.9 L2586.0 1193.0 L2595.2 1183.0 L2604.1 1172.6 L2614.1 1163.3 L2622.7 1152.6 L2632.0 1142.7 L2641.6 1133.0 L2650.7 1122.9 L2660.4 1113.3 L2669.8 1103.4 L2679.7 1094.0 L2689.6 1084.6 L2699.2 1075.0 L2708.7 1065.3 L2718.0 1055.3 L2727.9 1045.9 L2736.8 1035.5 L2747.2 1026.7 L2755.9 1016.1 L2766.3 1007.2 L2775.4 997.1 L2785.8 988.2 L2795.7 978.8 L2804.5 968.4 L2815.2 959.8 L2824.1 949.4 L2833.9 939.9 L2843.9 930.7 L2854.4 922.0 L2864.2 912.5 L2873.7 902.7 L2883.7 893.4 L2893.1 883.5 L2903.0 874.2 L2913.1 865.1 L2923.0 855.7 L2932.0 845.4 L2942.4 836.5 L2951.9 826.8 L2962.2 817.8 L2971.4 807.7 L2981.7 798.7 L2991.9 789.7 L3002.1 780.6 L3012.1 771.3 L3021.6 761.6 L3031.8 752.5 L3041.8 743.3 L3051.8 734.0 L3061.3 724.2 L3072.2 715.9 L3081.5 705.9 L3092.2 697.3 L3101.9 687.7 L3111.9 678.5 L3122.5 669.8 L3133.3 661.3 L3143.5 652.3 L3153.2 642.7 L3163.7 634.0 L3173.8 624.7 L3184.7 616.4 L3195.0 607.4 L3206.0 599.2 L3216.3 590.2 L3222.3 577.0 L3233.1 568.4 L3242.9 559.0 L3253.9 550.7 L3264.8 542.4 L3275.2 533.5 L3285.9 525.0 L3296.8 516.6 L3307.5 508.0 L3319.7 500.9 L3322.5 503.8 L3313.6 514.1 L3305.5 525.3 L3296.8 535.9 L3288.0 546.4 L3279.5 557.1 L3270.3 567.1 L3260.8 576.9 L3252.4 587.8 L3243.0 597.7 L3229.0 603.0 L3220.6 613.8 L3211.1 623.6 L3202.2 633.9 L3192.6 643.6 L3183.7 654.0 L3174.3 663.8 L3165.6 674.4 L3156.3 684.4 L3146.5 693.8 L3136.7 703.3 L3127.4 713.3 L3118.5 723.6 L3108.4 732.8 L3099.8 743.4 L3089.4 752.3 L3080.5 762.7 L3071.0 772.4 L3061.4 782.1 L3051.6 791.6 L3042.4 801.7 L3032.8 811.3 L3022.9 820.7 L3012.9 830.0 L3002.8 839.2 L2993.9 849.5 L2983.7 858.5 L2974.3 868.4 L2963.9 877.3 L2954.9 887.6 L2945.1 897.0 L2934.9 906.1 L2924.9 915.4 L2915.4 925.1 L2905.1 934.1 L2895.9 944.2 L2886.2 953.8 L2875.8 962.6 L2865.8 971.9 L2856.0 981.4 L2847.1 991.7 L2836.4 1000.3 L2827.4 1010.6 L2817.4 1019.8 L2806.8 1028.5 L2797.5 1038.5 L2786.8 1047.1 L2777.9 1057.4 L2767.2 1065.9 L2757.9 1075.9 L2747.6 1084.9 L2737.9 1094.4 L2727.9 1103.7 L2717.7 1112.8 L2707.2 1121.6 L2696.8 1130.4 L2686.7 1139.5 L2676.3 1148.4 L2666.4 1157.8 L2656.0 1166.7 L2645.7 1175.7 L2636.2 1185.4 L2625.2 1193.7 L2615.2 1203.0 L2604.8 1211.9 L2594.2 1220.4 L2584.1 1229.7 L2573.8 1238.6 L2562.6 1246.7 L2556.6 1259.9 L2546.8 1269.4 L2535.5 1277.4 L2525.0 1286.2 L2515.1 1295.5 L2504.3 1304.0 L2493.6 1312.5 L2481.9 1320.1 L2470.6 1328.1 L2459.5 1336.2Z" fill="#0a0051"/>
<path d="M2466.8 1324.3 L2475.5 1313.7 L2483.9 1302.9 L2491.8 1291.5 L2500.8 1281.2 L2509.5 1270.6 L2519.4 1261.3 L2527.7 1250.3 L2537.1 1240.5 L2550.0 1234.0 L2558.7 1223.5 L2568.6 1214.1 L2577.6 1203.9 L2586.5 1193.5 L2595.3 1183.0 L2605.3 1173.7 L2614.7 1163.9 L2623.6 1153.5 L2633.3 1143.9 L2641.7 1133.1 L2651.5 1123.6 L2661.5 1114.4 L2670.9 1104.5 L2679.9 1094.2 L2689.2 1084.3 L2699.0 1074.8 L2708.5 1065.0 L2718.4 1055.7 L2727.9 1045.9 L2737.0 1035.7 L2747.4 1026.9 L2756.9 1017.1 L2766.4 1007.3 L2776.4 998.1 L2786.3 988.7 L2794.9 978.1 L2805.0 968.8 L2815.1 959.7 L2824.8 950.1 L2835.0 941.1 L2844.5 931.3 L2853.7 921.3 L2864.5 912.8 L2873.6 902.5 L2884.0 893.7 L2893.2 883.6 L2903.7 874.9 L2912.7 864.6 L2923.4 856.0 L2932.2 845.5 L2942.0 836.1 L2952.4 827.2 L2962.1 817.7 L2972.4 808.8 L2982.3 799.4 L2992.2 789.9 L3001.9 780.4 L3012.2 771.4 L3021.8 761.8 L3031.3 752.0 L3041.8 743.2 L3052.0 734.2 L3061.9 724.8 L3072.0 715.6 L3081.8 706.2 L3091.9 697.0 L3102.1 688.0 L3113.1 679.7 L3122.8 670.1 L3133.7 661.7 L3143.6 652.4 L3153.5 643.0 L3164.1 634.3 L3174.8 625.8 L3184.8 616.5 L3195.6 608.1 L3205.7 598.9 L3216.8 590.7 L3223.3 577.9 L3234.2 569.5 L3244.7 560.8 L3254.5 551.3 L3265.8 543.4 L3276.6 534.9 L3286.8 525.9 L3298.3 518.0 L3309.5 510.0 L3311.8 512.3 L3303.9 523.7 L3295.0 534.1 L3287.0 545.3 L3278.2 555.8 L3268.7 565.5 L3260.6 576.7 L3251.5 586.9 L3242.1 596.7 L3228.6 602.5 L3219.4 612.5 L3210.9 623.3 L3201.5 633.2 L3192.8 643.8 L3183.3 653.5 L3173.8 663.3 L3165.0 673.8 L3156.0 684.0 L3146.0 693.3 L3137.2 703.8 L3127.0 712.8 L3117.5 722.6 L3108.1 732.4 L3098.9 742.5 L3089.3 752.2 L3080.0 762.2 L3070.3 771.8 L3060.3 781.0 L3051.2 791.2 L3041.9 801.2 L3031.9 810.5 L3022.5 820.3 L3012.9 830.0 L3003.3 839.6 L2993.1 848.7 L2983.6 858.4 L2973.3 867.4 L2963.5 876.9 L2954.8 887.4 L2944.1 896.0 L2935.1 906.3 L2924.4 914.9 L2915.1 924.8 L2904.5 933.5 L2895.6 943.9 L2885.0 952.5 L2875.9 962.7 L2866.4 972.5 L2856.2 981.6 L2846.5 991.1 L2836.3 1000.2 L2826.1 1009.3 L2817.3 1019.7 L2807.3 1029.0 L2797.0 1038.0 L2787.3 1047.5 L2777.5 1057.0 L2766.7 1065.4 L2757.3 1075.3 L2747.4 1084.7 L2737.0 1093.5 L2727.0 1102.8 L2716.7 1111.8 L2706.8 1121.1 L2697.2 1130.8 L2687.1 1140.0 L2676.3 1148.5 L2665.8 1157.2 L2656.5 1167.2 L2645.9 1175.8 L2636.0 1185.2 L2625.6 1194.1 L2614.5 1202.2 L2604.5 1211.5 L2594.3 1220.6 L2583.8 1229.4 L2572.3 1237.1 L2561.8 1245.8 L2555.9 1259.2 L2545.0 1267.7 L2535.2 1277.1 L2523.7 1284.8 L2513.2 1293.6 L2502.2 1301.9 L2492.1 1311.1 L2481.1 1319.4 L2469.1 1326.6Z" fill="#090056"/>
<path d="M2477.4 1315.6 L2484.9 1303.8 L2492.9 1292.6 L2502.7 1283.1 L2511.1 1272.3 L2519.9 1261.7 L2529.3 1251.9 L2537.9 1241.3 L2550.9 1235.0 L2559.8 1224.6 L2569.0 1214.6 L2577.5 1203.8 L2586.5 1193.5 L2596.4 1184.1 L2605.4 1173.9 L2614.1 1163.3 L2624.3 1154.3 L2633.7 1144.4 L2642.5 1134.0 L2651.6 1123.8 L2661.1 1114.0 L2671.2 1104.8 L2680.5 1094.9 L2689.3 1084.4 L2699.4 1075.2 L2709.4 1065.9 L2718.9 1056.2 L2727.7 1045.7 L2737.3 1036.0 L2746.8 1026.3 L2756.8 1017.0 L2766.5 1007.4 L2776.0 997.7 L2786.5 988.9 L2795.9 979.0 L2805.7 969.6 L2815.3 959.9 L2825.0 950.3 L2834.9 941.0 L2844.9 931.7 L2854.6 922.1 L2864.6 912.8 L2874.0 903.0 L2884.6 894.3 L2893.9 884.3 L2903.4 874.6 L2913.5 865.4 L2922.7 855.4 L2932.5 845.9 L2942.6 836.7 L2952.9 827.7 L2961.9 817.5 L2972.1 808.4 L2982.6 799.6 L2991.7 789.5 L3002.8 781.3 L3011.9 771.2 L3022.4 762.4 L3031.9 752.7 L3041.6 743.1 L3051.8 734.0 L3062.6 725.5 L3073.0 716.7 L3082.7 707.1 L3092.9 698.0 L3102.5 688.4 L3113.3 679.9 L3122.8 670.1 L3134.0 662.1 L3144.2 653.0 L3154.2 643.7 L3165.1 635.3 L3175.1 626.0 L3185.5 617.2 L3195.5 607.9 L3207.2 600.3 L3217.5 591.4 L3224.4 579.1 L3234.3 569.6 L3245.9 562.0 L3255.6 552.4 L3266.7 544.3 L3277.4 535.7 L3289.4 528.4 L3300.3 520.1 L3302.1 521.9 L3294.6 533.6 L3285.2 543.5 L3276.7 554.3 L3267.6 564.4 L3259.6 575.8 L3249.6 585.0 L3241.3 595.9 L3228.4 602.3 L3219.9 613.1 L3209.9 622.3 L3201.4 633.1 L3192.3 643.2 L3183.5 653.8 L3173.8 663.3 L3164.8 673.6 L3155.6 683.7 L3145.3 692.6 L3136.7 703.3 L3126.7 712.5 L3117.8 722.9 L3108.3 732.7 L3099.2 742.9 L3089.4 752.3 L3079.2 761.4 L3069.5 771.0 L3060.3 781.0 L3051.2 791.2 L3041.1 800.3 L3032.2 810.8 L3021.5 819.3 L3012.6 829.7 L3002.4 838.7 L2992.4 848.0 L2983.5 858.4 L2973.3 867.4 L2963.4 876.8 L2953.6 886.3 L2944.4 896.3 L2934.2 905.4 L2924.6 915.1 L2915.2 924.9 L2904.4 933.4 L2895.2 943.5 L2885.3 952.9 L2875.7 962.5 L2865.8 971.9 L2855.8 981.2 L2846.1 990.7 L2836.4 1000.3 L2826.5 1009.7 L2817.0 1019.4 L2806.3 1028.0 L2796.5 1037.5 L2786.5 1046.8 L2776.3 1055.8 L2766.4 1065.2 L2756.4 1074.4 L2747.2 1084.5 L2737.3 1093.8 L2726.8 1102.6 L2716.2 1111.2 L2706.8 1121.1 L2696.8 1130.4 L2686.0 1138.9 L2675.8 1147.9 L2665.9 1157.3 L2656.2 1166.9 L2645.9 1175.9 L2634.7 1183.9 L2625.0 1193.5 L2614.8 1202.5 L2603.7 1210.7 L2593.3 1219.6 L2583.4 1229.0 L2572.6 1237.4 L2561.8 1245.9 L2554.8 1258.1 L2544.7 1267.3 L2533.6 1275.5 L2523.1 1284.2 L2512.7 1293.1 L2500.7 1300.4 L2490.1 1309.1 L2479.2 1317.4Z" fill="#08005b"/>
<path d="M2486.8 1305.8 L2495.2 1294.9 L2503.1 1283.6 L2512.0 1273.1 L2520.7 1262.5 L2530.1 1252.7 L2538.9 1242.2 L2551.1 1235.2 L2560.5 1225.4 L2569.5 1215.1 L2578.3 1204.6 L2587.4 1194.4 L2595.9 1183.7 L2605.7 1174.2 L2615.3 1164.5 L2623.9 1153.8 L2633.1 1143.7 L2643.1 1134.5 L2652.1 1124.3 L2661.3 1114.2 L2671.2 1104.8 L2680.7 1095.0 L2690.5 1085.6 L2699.3 1075.1 L2708.9 1065.4 L2718.7 1055.9 L2728.6 1046.6 L2737.8 1036.5 L2747.5 1026.9 L2756.7 1016.9 L2766.4 1007.3 L2776.4 998.1 L2786.6 989.0 L2796.0 979.2 L2805.3 969.1 L2815.3 959.9 L2825.8 951.2 L2835.4 941.4 L2844.7 931.5 L2854.9 922.4 L2864.6 912.9 L2874.9 903.8 L2884.5 894.2 L2893.8 884.2 L2903.7 874.9 L2914.1 866.0 L2923.3 855.9 L2933.3 846.7 L2943.2 837.3 L2952.5 827.4 L2962.3 817.9 L2972.8 809.1 L2982.6 799.7 L2992.6 790.3 L3002.0 780.5 L3012.1 771.4 L3023.0 762.9 L3032.1 752.8 L3042.7 744.1 L3053.0 735.2 L3063.2 726.1 L3072.3 716.0 L3083.0 707.4 L3093.1 698.2 L3103.4 689.2 L3113.2 679.8 L3123.3 670.6 L3134.3 662.3 L3144.5 653.3 L3154.8 644.3 L3165.0 635.3 L3175.9 626.9 L3186.3 618.0 L3196.2 608.6 L3207.5 600.7 L3217.7 591.6 L3225.0 579.6 L3235.9 571.2 L3246.1 562.2 L3256.7 553.6 L3268.5 546.1 L3279.0 537.3 L3290.3 529.3 L3291.7 530.7 L3283.9 542.2 L3276.0 553.6 L3266.4 563.3 L3257.7 573.9 L3249.2 584.6 L3240.0 594.6 L3227.7 601.6 L3219.4 612.6 L3209.7 622.2 L3201.3 633.0 L3192.3 643.3 L3182.7 652.9 L3173.6 663.1 L3164.4 673.2 L3155.1 683.2 L3145.1 692.4 L3135.9 702.5 L3126.9 712.7 L3117.3 722.4 L3107.9 732.3 L3097.9 741.6 L3089.4 752.3 L3079.8 762.0 L3070.0 771.4 L3059.9 780.6 L3051.1 791.1 L3040.7 799.9 L3030.9 809.5 L3021.8 819.6 L3012.1 829.2 L3002.5 838.9 L2992.2 847.8 L2982.6 857.5 L2973.4 867.5 L2963.6 877.0 L2953.6 886.3 L2944.5 896.4 L2934.0 905.2 L2924.0 914.5 L2914.6 924.3 L2904.8 933.8 L2894.7 943.0 L2885.1 952.7 L2875.0 961.9 L2865.7 971.8 L2856.2 981.5 L2845.6 990.2 L2835.5 999.4 L2826.1 1009.3 L2816.5 1019.0 L2806.1 1027.8 L2795.9 1036.8 L2786.0 1046.2 L2776.4 1055.9 L2766.3 1065.1 L2756.8 1074.8 L2746.4 1083.7 L2736.2 1092.7 L2726.0 1101.8 L2716.7 1111.8 L2706.3 1120.6 L2696.1 1129.7 L2685.6 1138.4 L2675.6 1147.8 L2665.7 1157.1 L2654.9 1165.5 L2644.7 1174.7 L2635.2 1184.4 L2624.5 1193.0 L2613.6 1201.3 L2603.7 1210.8 L2593.3 1219.6 L2583.1 1228.7 L2572.4 1237.3 L2561.1 1245.2 L2553.8 1257.2 L2543.4 1266.1 L2532.3 1274.2 L2521.7 1282.8 L2510.6 1291.1 L2500.2 1299.9 L2488.3 1307.2Z" fill="#070061"/>
<path d="M2496.7 1296.4 L2505.2 1285.7 L2513.1 1274.2 L2521.9 1263.8 L2530.6 1253.2 L2539.3 1242.7 L2551.4 1235.5 L2560.2 1225.1 L2569.4 1215.0 L2578.3 1204.5 L2587.9 1194.9 L2596.5 1184.2 L2606.4 1174.8 L2615.1 1164.3 L2624.5 1154.4 L2633.7 1144.3 L2643.7 1135.1 L2652.3 1124.5 L2662.4 1115.3 L2672.0 1105.6 L2681.5 1095.8 L2690.0 1085.0 L2700.4 1076.2 L2709.1 1065.7 L2718.8 1056.1 L2728.4 1046.4 L2738.5 1037.2 L2747.9 1027.3 L2758.1 1018.3 L2766.8 1007.8 L2777.2 998.8 L2786.5 988.9 L2795.7 978.9 L2806.1 970.0 L2815.2 959.8 L2825.4 950.7 L2835.1 941.2 L2844.8 931.6 L2854.6 922.1 L2865.3 913.5 L2875.1 904.1 L2884.2 893.9 L2893.8 884.3 L2904.3 875.4 L2913.3 865.2 L2923.6 856.2 L2933.9 847.3 L2943.1 837.2 L2953.0 827.8 L2963.0 818.6 L2973.2 809.5 L2983.4 800.4 L2993.3 791.1 L3002.9 781.4 L3013.3 772.6 L3022.6 762.6 L3033.2 753.9 L3043.0 744.5 L3052.9 735.1 L3063.1 726.0 L3072.9 716.5 L3083.5 707.8 L3093.6 698.7 L3103.8 689.6 L3113.8 680.4 L3124.2 671.5 L3134.2 662.2 L3145.0 653.8 L3154.5 644.0 L3164.9 635.1 L3176.3 627.2 L3186.2 617.9 L3196.3 608.7 L3207.2 600.4 L3218.8 592.7 L3225.8 580.4 L3237.3 572.7 L3247.5 563.7 L3258.2 555.0 L3269.3 546.9 L3281.0 539.3 L3282.2 540.5 L3274.0 551.6 L3265.4 562.3 L3257.0 573.1 L3248.6 584.0 L3238.8 593.5 L3227.9 601.8 L3218.2 611.4 L3209.0 621.4 L3200.4 632.1 L3191.9 642.9 L3181.7 652.0 L3172.5 662.1 L3164.1 672.9 L3154.3 682.4 L3145.3 692.7 L3135.8 702.4 L3126.6 712.4 L3117.2 722.3 L3107.8 732.2 L3097.9 741.5 L3088.7 751.6 L3079.1 761.2 L3069.7 771.2 L3060.3 781.1 L3050.2 790.2 L3041.3 800.6 L3031.2 809.8 L3022.0 819.8 L3012.3 829.4 L3002.4 838.8 L2992.4 848.0 L2982.5 857.4 L2972.8 866.9 L2963.7 877.1 L2953.4 886.1 L2943.1 895.1 L2934.1 905.3 L2923.6 914.0 L2913.8 923.5 L2904.6 933.6 L2894.9 943.2 L2884.4 951.9 L2874.7 961.5 L2865.0 971.0 L2855.3 980.6 L2845.0 989.7 L2835.8 999.7 L2825.3 1008.5 L2815.9 1018.3 L2806.4 1028.1 L2795.8 1036.8 L2786.7 1047.0 L2776.2 1055.7 L2766.5 1065.2 L2756.0 1074.0 L2746.0 1083.2 L2735.8 1092.4 L2726.5 1102.4 L2715.6 1110.6 L2706.5 1120.8 L2696.3 1129.9 L2686.0 1138.9 L2675.1 1147.3 L2665.7 1157.1 L2654.8 1165.5 L2644.6 1174.6 L2634.3 1183.5 L2624.4 1192.9 L2613.4 1201.1 L2603.5 1210.5 L2592.5 1218.8 L2582.1 1227.7 L2571.3 1236.1 L2560.5 1244.6 L2552.4 1255.7 L2541.9 1264.5 L2531.3 1273.2 L2520.3 1281.5 L2510.0 1290.4 L2497.9 1297.5Z" fill="#060067"/>
<path d="M2506.5 1286.9 L2515.2 1276.3 L2523.6 1265.5 L2532.3 1254.9 L2540.5 1243.9 L2552.0 1236.1 L2560.7 1225.6 L2569.7 1215.2 L2579.1 1205.4 L2587.8 1194.8 L2596.6 1184.4 L2605.9 1174.4 L2615.6 1164.8 L2625.4 1155.4 L2634.7 1145.4 L2644.1 1135.5 L2653.3 1125.4 L2661.8 1114.7 L2672.1 1105.7 L2681.1 1095.5 L2690.8 1085.9 L2699.8 1075.6 L2709.5 1066.0 L2719.0 1056.2 L2729.2 1047.2 L2739.0 1037.8 L2747.9 1027.3 L2757.9 1018.1 L2767.8 1008.8 L2777.0 998.7 L2786.7 989.1 L2796.5 979.6 L2806.0 969.9 L2815.9 960.5 L2826.2 951.5 L2835.2 941.2 L2845.6 932.4 L2855.5 923.0 L2865.4 913.7 L2875.4 904.4 L2885.3 895.0 L2894.0 884.5 L2904.3 875.5 L2913.8 865.7 L2923.7 856.4 L2933.6 847.0 L2943.7 837.8 L2953.2 828.1 L2963.7 819.3 L2973.6 809.9 L2983.4 800.5 L2993.4 791.2 L3003.3 781.8 L3012.6 771.8 L3023.3 763.3 L3033.4 754.1 L3043.6 745.0 L3052.7 734.8 L3063.0 725.9 L3073.6 717.2 L3083.4 707.8 L3093.7 698.8 L3103.6 689.5 L3114.0 680.6 L3124.2 671.5 L3134.2 662.2 L3145.3 654.1 L3155.3 644.8 L3165.7 635.9 L3176.0 626.9 L3187.1 618.8 L3197.8 610.2 L3207.5 600.7 L3218.8 592.7 L3226.7 581.3 L3237.7 573.1 L3248.5 564.6 L3260.3 557.1 L3271.2 548.8 L3272.2 549.8 L3264.9 561.7 L3255.6 571.7 L3246.9 582.3 L3237.7 592.4 L3226.9 600.8 L3217.6 610.8 L3209.6 622.1 L3200.5 632.3 L3190.8 641.8 L3181.8 652.0 L3172.6 662.1 L3163.7 672.5 L3153.7 681.7 L3144.6 692.0 L3135.3 701.9 L3125.8 711.7 L3116.7 721.8 L3107.1 731.4 L3097.9 741.6 L3088.0 750.9 L3078.2 760.4 L3069.7 771.1 L3060.0 780.7 L3050.3 790.3 L3040.0 799.3 L3031.1 809.6 L3021.5 819.3 L3011.8 828.9 L3002.3 838.6 L2992.6 848.2 L2982.3 857.2 L2972.9 867.0 L2962.9 876.3 L2953.1 885.8 L2943.1 895.1 L2933.7 904.9 L2923.3 913.8 L2914.5 924.2 L2904.4 933.4 L2894.6 942.9 L2884.8 952.3 L2874.9 961.7 L2864.6 970.6 L2855.5 980.9 L2845.2 989.8 L2835.3 999.1 L2825.5 1008.7 L2815.6 1018.1 L2805.7 1027.4 L2796.3 1037.2 L2786.0 1046.3 L2775.7 1055.2 L2766.5 1065.2 L2756.3 1074.3 L2745.5 1082.8 L2735.6 1092.2 L2725.3 1101.2 L2715.8 1110.9 L2705.5 1119.8 L2695.8 1129.4 L2684.8 1137.7 L2675.4 1147.6 L2665.4 1156.8 L2655.1 1165.8 L2644.9 1174.8 L2634.1 1183.3 L2623.2 1191.7 L2612.8 1200.5 L2602.6 1209.6 L2592.5 1218.8 L2581.5 1227.1 L2570.9 1235.7 L2560.1 1244.2 L2551.6 1255.0 L2541.5 1264.1 L2530.7 1272.6 L2519.7 1280.9 L2507.5 1287.9Z" fill="#04006d"/>
<path d="M2516.4 1277.6 L2524.5 1266.3 L2533.6 1256.2 L2541.9 1245.3 L2552.0 1236.1 L2561.5 1226.3 L2570.4 1215.9 L2578.8 1205.0 L2588.8 1195.8 L2597.9 1185.7 L2606.7 1175.2 L2616.3 1165.5 L2625.6 1155.6 L2634.7 1145.4 L2643.9 1135.3 L2653.7 1125.9 L2663.2 1116.1 L2671.6 1105.2 L2681.5 1095.8 L2690.6 1085.7 L2700.6 1076.4 L2710.5 1067.0 L2719.1 1056.4 L2728.7 1046.7 L2738.5 1037.2 L2748.8 1028.2 L2758.1 1018.3 L2767.7 1008.6 L2777.7 999.4 L2787.0 989.4 L2796.8 979.9 L2806.3 970.2 L2816.3 960.9 L2825.5 950.9 L2836.3 942.4 L2846.0 932.8 L2856.0 923.6 L2865.5 913.8 L2875.3 904.3 L2884.9 894.6 L2894.5 884.9 L2904.5 875.7 L2914.6 866.5 L2924.3 857.0 L2933.4 846.7 L2943.8 837.9 L2954.1 828.9 L2963.1 818.7 L2973.5 809.8 L2983.5 800.5 L2993.2 791.0 L3002.9 781.4 L3013.5 772.8 L3023.5 763.5 L3033.2 753.9 L3043.3 744.8 L3053.1 735.3 L3064.1 727.0 L3073.7 717.4 L3083.4 707.8 L3094.0 699.1 L3104.4 690.3 L3114.6 681.2 L3125.1 672.4 L3134.6 662.7 L3144.9 653.7 L3155.7 645.3 L3166.2 636.4 L3176.8 627.8 L3187.4 619.1 L3198.1 610.6 L3207.8 601.0 L3219.6 593.5 L3228.5 583.2 L3239.0 574.4 L3250.0 566.1 L3261.3 558.1 L3262.2 559.1 L3254.4 570.5 L3245.9 581.3 L3237.5 592.2 L3226.8 600.7 L3217.1 610.3 L3209.2 621.6 L3200.0 631.7 L3190.9 641.8 L3181.5 651.8 L3172.3 661.8 L3162.6 671.4 L3153.4 681.5 L3144.8 692.2 L3135.3 701.9 L3126.0 711.8 L3116.3 721.5 L3106.4 730.8 L3097.5 741.1 L3088.5 751.4 L3078.1 760.3 L3068.8 770.3 L3059.2 779.9 L3050.0 790.0 L3040.4 799.7 L3030.2 808.7 L3020.8 818.6 L3011.4 828.4 L3001.7 838.0 L2991.5 847.1 L2982.6 857.5 L2972.5 866.6 L2962.2 875.6 L2953.2 885.9 L2943.5 895.4 L2933.4 904.6 L2923.3 913.8 L2913.6 923.3 L2903.8 932.8 L2894.2 942.5 L2884.9 952.4 L2874.9 961.7 L2865.2 971.3 L2854.4 979.8 L2845.1 989.7 L2835.0 998.9 L2825.3 1008.5 L2815.4 1017.8 L2805.9 1027.6 L2795.6 1036.6 L2785.7 1046.0 L2776.0 1055.5 L2765.4 1064.1 L2755.2 1073.2 L2745.1 1082.4 L2736.0 1092.5 L2725.6 1101.4 L2715.0 1110.1 L2705.2 1119.6 L2694.6 1128.3 L2685.5 1138.4 L2675.2 1147.4 L2664.6 1156.0 L2654.5 1165.2 L2644.4 1174.4 L2634.0 1183.2 L2623.3 1191.8 L2613.3 1201.0 L2602.8 1209.8 L2591.4 1217.6 L2581.4 1226.9 L2570.7 1235.6 L2559.2 1243.3 L2550.9 1254.3 L2540.5 1263.2 L2528.9 1270.8 L2517.3 1278.5Z" fill="#030074"/>
<path d="M2526.1 1268.0 L2534.5 1257.1 L2542.7 1246.1 L2553.6 1237.7 L2561.9 1226.7 L2570.6 1216.1 L2579.8 1206.1 L2588.8 1195.8 L2597.5 1185.3 L2607.2 1175.6 L2616.7 1165.9 L2625.1 1155.0 L2634.5 1145.2 L2644.5 1135.9 L2653.5 1125.6 L2663.3 1116.2 L2671.9 1105.5 L2682.0 1096.3 L2691.2 1086.3 L2701.0 1076.8 L2709.9 1066.4 L2719.6 1056.9 L2729.2 1047.2 L2739.0 1037.7 L2748.8 1028.3 L2758.0 1018.2 L2767.7 1008.6 L2777.1 998.8 L2786.9 989.3 L2796.9 980.0 L2806.8 970.7 L2816.7 961.3 L2826.0 951.3 L2836.4 942.4 L2845.9 932.7 L2856.2 923.7 L2865.2 913.5 L2875.2 904.2 L2884.9 894.6 L2894.4 884.9 L2904.6 875.8 L2914.0 865.9 L2924.0 856.7 L2934.0 847.3 L2943.7 837.8 L2954.0 828.8 L2963.7 819.3 L2973.5 809.8 L2983.1 800.1 L2993.4 791.2 L3003.2 781.7 L3014.0 773.2 L3023.8 763.8 L3033.1 753.8 L3044.0 745.4 L3053.5 735.6 L3063.7 726.6 L3074.0 717.7 L3083.6 708.0 L3094.3 699.4 L3104.7 690.6 L3115.2 681.8 L3125.5 672.8 L3135.5 663.5 L3145.9 654.7 L3155.5 645.0 L3166.3 636.5 L3176.5 627.5 L3187.2 618.9 L3197.8 610.2 L3208.6 601.8 L3219.3 593.2 L3229.4 584.0 L3239.7 575.1 L3251.8 567.9 L3252.7 568.8 L3244.1 579.5 L3236.2 590.8 L3225.4 599.4 L3216.9 610.1 L3207.9 620.4 L3198.9 630.6 L3189.7 640.7 L3180.8 651.1 L3171.4 660.9 L3162.9 671.7 L3153.5 681.6 L3144.6 691.9 L3135.2 701.8 L3125.6 711.4 L3116.0 721.1 L3106.0 730.4 L3097.2 740.8 L3087.5 750.4 L3077.9 760.1 L3068.9 770.4 L3058.6 779.3 L3049.7 789.7 L3040.3 799.6 L3030.0 808.5 L3020.5 818.3 L3010.5 827.5 L3001.2 837.5 L2991.6 847.2 L2982.0 856.9 L2971.9 866.0 L2962.3 875.7 L2952.4 885.1 L2942.5 894.4 L2933.1 904.3 L2922.8 913.3 L2913.2 922.9 L2903.3 932.3 L2893.5 941.8 L2884.5 952.1 L2874.3 961.1 L2864.8 970.9 L2854.4 979.7 L2845.0 989.7 L2835.0 998.9 L2824.9 1008.1 L2814.8 1017.2 L2804.8 1026.5 L2795.1 1036.1 L2785.1 1045.3 L2775.6 1055.1 L2765.4 1064.1 L2755.1 1073.2 L2745.1 1082.4 L2734.9 1091.4 L2725.4 1101.2 L2715.0 1110.1 L2705.1 1119.5 L2694.3 1128.0 L2685.0 1137.9 L2674.4 1146.5 L2664.5 1155.9 L2653.6 1164.3 L2643.2 1173.1 L2633.7 1182.9 L2623.0 1191.5 L2612.1 1199.9 L2602.0 1209.0 L2591.6 1217.9 L2580.7 1226.3 L2570.2 1235.0 L2559.8 1243.9 L2549.5 1252.9 L2538.9 1261.5 L2527.1 1268.9Z" fill="#02007b"/>
<path d="M2536.5 1259.1 L2544.1 1247.5 L2553.8 1237.9 L2562.0 1226.9 L2571.3 1216.9 L2580.4 1206.7 L2588.7 1195.7 L2598.5 1186.3 L2607.6 1176.1 L2616.6 1165.8 L2626.5 1156.4 L2635.6 1146.3 L2645.0 1136.4 L2654.4 1126.6 L2663.2 1116.1 L2673.2 1106.9 L2682.7 1097.0 L2691.2 1086.2 L2701.0 1076.8 L2710.3 1066.9 L2719.8 1057.0 L2729.5 1047.5 L2738.8 1037.5 L2748.4 1027.9 L2759.0 1019.2 L2768.6 1009.6 L2778.2 999.8 L2787.2 989.6 L2797.8 980.9 L2806.6 970.5 L2816.8 961.4 L2826.2 951.5 L2836.5 942.6 L2845.6 932.4 L2855.5 923.0 L2865.5 913.8 L2875.6 904.5 L2885.2 894.9 L2894.9 885.4 L2904.7 875.9 L2914.9 866.8 L2924.5 857.2 L2934.1 847.5 L2944.6 838.7 L2954.3 829.2 L2964.0 819.6 L2974.3 810.6 L2983.3 800.4 L2993.9 791.7 L3004.2 782.7 L3013.6 772.9 L3023.7 763.7 L3034.4 755.1 L3044.3 745.7 L3054.1 736.3 L3064.3 727.2 L3074.4 718.1 L3084.1 708.4 L3094.3 699.4 L3104.7 690.5 L3115.2 681.8 L3125.5 672.8 L3135.3 663.3 L3145.7 654.5 L3156.2 645.7 L3166.7 637.0 L3177.8 628.8 L3188.5 620.2 L3198.9 611.3 L3209.0 602.2 L3219.9 593.9 L3230.1 584.8 L3241.6 576.9 L3242.5 577.9 L3234.4 589.1 L3225.0 599.0 L3216.4 609.5 L3208.1 620.5 L3199.4 631.1 L3190.2 641.2 L3180.6 650.8 L3171.3 660.8 L3162.0 670.8 L3152.7 680.7 L3143.9 691.2 L3134.6 701.2 L3124.9 710.8 L3115.4 720.5 L3105.9 730.3 L3097.0 740.7 L3087.5 750.4 L3077.9 760.1 L3068.7 770.1 L3059.3 780.1 L3049.1 789.1 L3039.5 798.7 L3030.4 808.9 L3020.5 818.3 L3010.2 827.3 L3001.5 837.8 L2991.4 847.0 L2981.9 856.8 L2972.3 866.5 L2961.9 875.3 L2952.4 885.1 L2942.8 894.8 L2932.7 903.9 L2922.8 913.3 L2913.0 922.8 L2903.2 932.2 L2893.3 941.6 L2883.4 951.0 L2873.6 960.4 L2864.5 970.6 L2854.1 979.4 L2844.6 989.3 L2834.4 998.2 L2825.4 1008.5 L2814.6 1017.0 L2805.3 1027.0 L2795.5 1036.5 L2785.5 1045.8 L2774.7 1054.2 L2764.6 1063.4 L2754.9 1072.9 L2744.7 1082.0 L2734.7 1091.3 L2724.8 1100.7 L2714.4 1109.5 L2705.3 1119.6 L2695.1 1128.7 L2684.3 1137.1 L2674.6 1146.8 L2664.3 1155.8 L2654.0 1164.7 L2643.8 1173.8 L2632.8 1182.1 L2622.7 1191.2 L2612.3 1200.1 L2601.1 1208.1 L2591.3 1217.6 L2580.6 1226.1 L2569.4 1234.2 L2558.9 1243.0 L2548.4 1251.8 L2537.4 1260.1Z" fill="#010083"/>
<path d="M2546.0 1249.3 L2553.9 1237.9 L2563.1 1227.9 L2571.8 1217.3 L2580.6 1206.9 L2590.1 1197.1 L2598.5 1186.2 L2608.4 1176.9 L2616.7 1165.9 L2626.6 1156.5 L2635.9 1146.6 L2644.7 1136.1 L2654.5 1126.7 L2663.5 1116.4 L2673.6 1107.2 L2682.5 1096.9 L2691.8 1086.8 L2701.3 1077.1 L2711.4 1068.0 L2720.6 1057.9 L2730.1 1048.1 L2739.4 1038.2 L2749.7 1029.2 L2759.1 1019.3 L2768.6 1009.5 L2778.3 999.9 L2787.8 990.2 L2797.3 980.5 L2807.0 970.9 L2816.9 961.5 L2827.0 952.3 L2836.8 942.8 L2846.7 933.5 L2855.7 923.2 L2865.6 913.8 L2875.8 904.8 L2885.7 895.5 L2895.2 885.7 L2905.5 876.7 L2914.5 866.4 L2925.0 857.6 L2934.1 847.5 L2944.1 838.2 L2954.4 829.2 L2964.5 820.1 L2974.5 810.9 L2984.0 801.1 L2993.9 791.7 L3004.2 782.7 L3013.6 772.8 L3023.7 763.6 L3034.7 755.4 L3044.0 745.5 L3054.9 737.0 L3064.3 727.2 L3074.9 718.5 L3085.0 709.4 L3094.9 700.0 L3105.7 691.5 L3115.2 681.7 L3125.4 672.7 L3135.8 663.9 L3146.8 655.6 L3157.0 646.5 L3167.2 637.5 L3177.2 628.2 L3188.8 620.5 L3198.9 611.4 L3209.6 602.8 L3221.1 595.0 L3231.9 586.6 L3232.9 587.5 L3225.0 598.9 L3215.9 609.1 L3207.2 619.7 L3198.8 630.5 L3188.8 639.8 L3180.2 650.5 L3171.3 660.8 L3162.4 671.1 L3152.5 680.5 L3143.1 690.4 L3133.9 700.4 L3125.3 711.1 L3115.4 720.5 L3106.3 730.7 L3096.8 740.5 L3086.9 749.8 L3078.1 760.3 L3067.9 769.3 L3059.1 779.8 L3048.5 788.5 L3038.9 798.2 L3029.9 808.4 L3020.0 817.8 L3010.4 827.5 L3001.2 837.5 L2991.4 847.0 L2981.5 856.3 L2971.4 865.5 L2961.5 874.9 L2952.4 885.1 L2942.0 893.9 L2933.0 904.2 L2922.7 913.2 L2913.1 922.8 L2903.0 932.0 L2892.9 941.2 L2883.2 950.7 L2874.2 961.0 L2864.3 970.4 L2854.5 979.8 L2844.3 988.9 L2834.3 998.2 L2824.4 1007.6 L2814.7 1017.2 L2804.9 1026.6 L2795.0 1035.9 L2785.2 1045.4 L2775.4 1054.9 L2764.7 1063.5 L2754.9 1072.9 L2745.0 1082.3 L2735.3 1091.8 L2724.5 1100.3 L2714.4 1109.5 L2704.5 1118.8 L2694.8 1128.4 L2684.0 1136.9 L2674.1 1146.3 L2663.4 1154.8 L2653.6 1164.3 L2643.3 1173.2 L2632.2 1181.4 L2622.7 1191.2 L2611.5 1199.2 L2601.7 1208.7 L2590.6 1216.9 L2580.0 1225.6 L2569.4 1234.2 L2557.7 1241.8 L2546.9 1250.3Z" fill="#01008b"/>
<path d="M2555.3 1239.4 L2564.2 1229.0 L2573.1 1218.6 L2581.0 1207.3 L2590.4 1197.4 L2599.4 1187.2 L2608.7 1177.2 L2617.7 1166.9 L2627.0 1156.9 L2635.9 1146.6 L2645.1 1136.5 L2655.0 1127.2 L2663.8 1116.7 L2673.2 1106.8 L2683.2 1097.6 L2692.1 1087.2 L2702.2 1078.0 L2711.4 1067.9 L2721.3 1058.5 L2731.0 1049.0 L2740.6 1039.4 L2749.6 1029.1 L2759.0 1019.2 L2768.9 1009.8 L2778.2 999.9 L2787.8 990.2 L2798.0 981.2 L2807.5 971.3 L2816.8 961.4 L2827.7 953.0 L2836.8 942.8 L2846.8 933.6 L2856.7 924.2 L2866.3 914.6 L2876.5 905.5 L2885.7 895.4 L2895.5 885.9 L2905.8 877.0 L2915.7 867.6 L2924.8 857.5 L2934.7 848.1 L2944.8 839.0 L2954.6 829.4 L2964.4 820.0 L2974.4 810.7 L2985.1 802.1 L2994.2 791.9 L3004.4 782.9 L3015.0 774.3 L3024.8 764.8 L3034.2 754.9 L3044.6 746.0 L3054.5 736.7 L3065.5 728.4 L3075.2 718.9 L3085.4 709.7 L3095.6 700.7 L3105.5 691.4 L3116.3 682.9 L3126.4 673.7 L3136.8 664.9 L3146.6 655.4 L3157.9 647.4 L3168.0 638.2 L3178.8 629.7 L3188.9 620.6 L3200.3 612.8 L3211.1 604.3 L3222.2 596.1 L3223.2 597.1 L3215.3 608.5 L3206.8 619.2 L3197.3 629.0 L3188.9 639.8 L3179.6 649.8 L3170.9 660.4 L3160.9 669.7 L3152.3 680.3 L3142.9 690.2 L3133.8 700.4 L3124.0 709.9 L3115.0 720.1 L3105.5 729.9 L3096.1 739.8 L3087.1 750.0 L3076.8 759.0 L3067.5 768.9 L3057.6 778.4 L3048.8 788.8 L3039.4 798.7 L3029.2 807.7 L3019.3 817.1 L3010.6 827.7 L3000.2 836.6 L2990.5 846.1 L2980.9 855.7 L2971.3 865.4 L2961.2 874.7 L2951.5 884.2 L2942.4 894.3 L2932.6 903.8 L2922.2 912.6 L2912.3 922.0 L2903.0 932.0 L2892.9 941.2 L2883.4 951.0 L2873.6 960.4 L2863.5 969.6 L2854.4 979.7 L2843.4 988.0 L2833.9 997.8 L2824.3 1007.5 L2813.9 1016.3 L2804.1 1025.7 L2794.4 1035.3 L2784.1 1044.4 L2774.4 1053.9 L2765.0 1063.8 L2754.9 1072.9 L2744.7 1082.0 L2734.3 1090.8 L2724.5 1100.3 L2713.8 1108.9 L2704.2 1118.5 L2693.4 1127.0 L2683.2 1136.1 L2673.5 1145.7 L2662.6 1154.1 L2652.5 1163.1 L2642.4 1172.4 L2632.0 1181.2 L2621.7 1190.2 L2611.0 1198.8 L2600.5 1207.5 L2589.4 1215.7 L2579.6 1225.1 L2568.4 1233.2 L2556.3 1240.4Z" fill="#010093"/>
<path d="M2565.8 1230.6 L2573.6 1219.1 L2582.8 1209.1 L2590.9 1197.9 L2600.4 1188.1 L2609.1 1177.6 L2618.6 1167.8 L2627.6 1157.5 L2636.4 1147.1 L2646.0 1137.4 L2655.4 1127.5 L2664.3 1117.2 L2673.7 1107.3 L2684.0 1098.3 L2693.2 1088.3 L2702.0 1077.8 L2712.3 1068.8 L2721.6 1058.9 L2730.6 1048.6 L2741.0 1039.8 L2750.5 1030.0 L2759.4 1019.6 L2769.6 1010.5 L2779.4 1001.0 L2789.2 991.6 L2798.2 981.3 L2808.1 972.0 L2818.4 963.0 L2827.5 952.8 L2837.6 943.7 L2847.1 933.9 L2857.0 924.6 L2866.9 915.2 L2876.4 905.4 L2886.9 896.7 L2895.8 886.2 L2905.5 876.7 L2915.9 867.9 L2925.3 858.0 L2935.9 849.3 L2945.9 840.0 L2955.6 830.5 L2964.8 820.4 L2974.9 811.2 L2984.9 802.0 L2995.3 793.1 L3005.4 783.9 L3015.0 774.2 L3025.1 765.1 L3035.1 755.9 L3044.9 746.4 L3054.9 737.1 L3065.4 728.4 L3075.5 719.1 L3085.7 710.0 L3096.6 701.7 L3105.8 691.7 L3116.9 683.5 L3126.5 673.8 L3137.3 665.3 L3147.5 656.3 L3158.2 647.7 L3169.0 639.2 L3179.5 630.5 L3190.4 622.2 L3200.8 613.3 L3212.3 605.5 L3213.4 606.6 L3205.0 617.5 L3196.8 628.6 L3187.7 638.7 L3178.9 649.1 L3169.6 659.1 L3160.3 669.1 L3151.3 679.3 L3141.6 688.9 L3133.1 699.7 L3123.0 708.9 L3114.7 719.8 L3104.6 729.0 L3095.2 738.9 L3085.9 748.8 L3076.0 758.2 L3066.7 768.1 L3057.5 778.2 L3048.0 787.9 L3038.3 797.6 L3029.2 807.7 L3019.5 817.3 L3009.5 826.5 L2999.7 836.0 L2989.9 845.5 L2980.9 855.8 L2971.4 865.5 L2961.6 875.0 L2951.1 883.7 L2941.8 893.7 L2931.3 902.5 L2921.6 912.1 L2912.7 922.4 L2901.9 931.0 L2892.6 940.9 L2882.8 950.4 L2873.0 959.8 L2863.5 969.5 L2853.2 978.6 L2844.0 988.6 L2833.6 997.5 L2823.5 1006.7 L2814.3 1016.7 L2804.2 1025.9 L2794.1 1035.1 L2783.6 1043.8 L2774.3 1053.7 L2764.4 1063.1 L2753.5 1071.5 L2743.9 1081.2 L2734.0 1090.6 L2723.1 1098.9 L2713.7 1108.8 L2703.7 1118.1 L2692.7 1126.3 L2682.4 1135.3 L2672.6 1144.7 L2662.2 1153.6 L2651.5 1162.2 L2641.6 1171.5 L2631.3 1180.6 L2620.5 1189.0 L2610.3 1198.0 L2599.2 1206.2 L2589.2 1215.5 L2577.7 1223.3 L2566.9 1231.7Z" fill="#00009d"/>
<path d="M2575.5 1221.0 L2583.7 1210.0 L2591.9 1198.9 L2601.3 1189.1 L2609.6 1178.1 L2619.5 1168.7 L2628.7 1158.7 L2637.5 1148.2 L2647.0 1138.4 L2655.9 1128.1 L2665.0 1117.9 L2674.7 1108.3 L2684.0 1098.3 L2693.5 1088.5 L2703.6 1079.4 L2712.1 1068.6 L2721.6 1058.9 L2731.9 1049.9 L2740.6 1039.3 L2750.4 1029.8 L2760.5 1020.7 L2770.1 1011.0 L2779.1 1000.7 L2788.7 991.1 L2798.9 982.1 L2809.1 973.0 L2818.3 962.9 L2828.3 953.6 L2838.2 944.2 L2847.6 934.4 L2857.0 924.6 L2867.7 915.9 L2877.4 906.4 L2886.8 896.5 L2896.3 886.8 L2905.9 877.1 L2915.9 867.8 L2926.3 858.9 L2936.2 849.6 L2945.5 839.6 L2955.4 830.3 L2965.7 821.3 L2975.4 811.8 L2985.6 802.6 L2995.0 792.8 L3005.8 784.3 L3015.4 774.7 L3025.6 765.6 L3035.7 756.4 L3046.4 747.8 L3055.7 737.8 L3066.1 729.0 L3076.6 720.3 L3086.4 710.8 L3097.2 702.3 L3107.3 693.2 L3117.1 683.7 L3128.3 675.6 L3138.5 666.6 L3149.1 657.8 L3159.0 648.5 L3169.7 640.0 L3180.5 631.5 L3191.0 622.7 L3202.2 614.6 L3203.3 615.7 L3195.1 626.8 L3186.8 637.8 L3177.9 648.1 L3168.8 658.3 L3160.2 669.0 L3151.0 679.1 L3142.0 689.3 L3131.9 698.5 L3123.2 709.0 L3114.0 719.1 L3104.1 728.5 L3095.1 738.8 L3085.4 748.3 L3075.6 757.8 L3067.0 768.5 L3056.9 777.6 L3047.4 787.4 L3037.7 797.0 L3028.5 807.0 L3018.1 815.9 L3009.1 826.2 L2999.3 835.6 L2989.8 845.4 L2979.8 854.7 L2970.1 864.2 L2960.9 874.3 L2951.1 883.8 L2940.8 892.7 L2930.9 902.1 L2921.3 911.7 L2911.6 921.4 L2902.1 931.1 L2892.5 940.8 L2882.0 949.5 L2872.5 959.4 L2863.1 969.2 L2853.1 978.4 L2843.1 987.7 L2833.7 997.6 L2823.3 1006.5 L2812.8 1015.2 L2802.9 1024.6 L2793.6 1034.6 L2783.7 1043.9 L2773.1 1052.6 L2762.9 1061.6 L2753.6 1071.7 L2742.8 1080.1 L2732.7 1089.2 L2723.6 1099.4 L2712.7 1107.8 L2702.5 1116.8 L2692.4 1126.0 L2681.8 1134.7 L2671.8 1143.9 L2661.8 1153.2 L2651.2 1161.9 L2641.2 1171.2 L2630.7 1179.9 L2619.4 1187.9 L2609.4 1197.2 L2598.2 1205.2 L2587.9 1214.2 L2576.6 1222.1Z" fill="#0000a3"/>
<path d="M2585.0 1211.2 L2593.5 1200.5 L2602.2 1190.0 L2611.1 1179.6 L2619.8 1169.0 L2628.6 1158.6 L2638.7 1149.3 L2648.0 1139.4 L2656.2 1128.4 L2666.0 1118.9 L2674.9 1108.5 L2684.5 1098.8 L2694.4 1089.5 L2703.5 1079.3 L2713.6 1070.2 L2722.1 1059.4 L2732.5 1050.5 L2741.8 1040.6 L2751.4 1030.8 L2760.5 1020.7 L2770.5 1011.4 L2780.2 1001.9 L2790.0 992.4 L2799.6 982.8 L2809.1 972.9 L2818.3 962.9 L2828.1 953.4 L2838.0 944.0 L2847.9 934.7 L2857.7 925.2 L2868.3 916.5 L2878.1 907.1 L2887.4 897.2 L2896.7 887.2 L2906.9 878.1 L2916.6 868.5 L2926.5 859.2 L2936.1 849.5 L2946.6 840.7 L2956.7 831.6 L2965.6 821.2 L2976.6 812.9 L2986.6 803.7 L2995.7 793.4 L3006.5 785.1 L3016.6 775.9 L3025.8 765.8 L3036.3 757.0 L3046.9 748.3 L3056.4 738.6 L3066.2 729.1 L3077.3 721.0 L3087.3 711.7 L3097.7 702.8 L3107.6 693.4 L3118.0 684.6 L3128.3 675.6 L3139.1 667.1 L3149.9 658.7 L3160.1 649.6 L3170.8 641.1 L3181.1 632.1 L3192.6 624.3 L3193.7 625.4 L3185.1 636.1 L3177.0 647.3 L3168.1 657.6 L3159.5 668.3 L3150.0 678.1 L3140.5 687.9 L3131.4 698.0 L3122.1 707.9 L3113.2 718.3 L3103.8 728.1 L3094.6 738.3 L3084.3 747.2 L3075.2 757.4 L3066.4 767.8 L3056.4 777.1 L3046.5 786.5 L3037.8 797.1 L3028.2 806.8 L3017.8 815.6 L3009.2 826.2 L2999.4 835.7 L2988.8 844.4 L2980.1 855.0 L2970.2 864.4 L2959.9 873.3 L2950.5 883.1 L2940.6 892.5 L2931.0 902.2 L2920.8 911.2 L2911.4 921.2 L2901.9 930.9 L2892.2 940.5 L2881.7 949.3 L2872.0 958.8 L2862.0 968.1 L2852.0 977.4 L2842.1 986.8 L2832.7 996.6 L2823.0 1006.2 L2813.1 1015.5 L2803.1 1024.7 L2793.0 1033.9 L2782.7 1042.9 L2773.1 1052.5 L2763.0 1061.8 L2753.2 1071.2 L2742.2 1079.5 L2733.1 1089.7 L2722.3 1098.1 L2712.5 1107.6 L2701.8 1116.1 L2691.3 1124.9 L2681.5 1134.4 L2670.7 1142.9 L2661.4 1152.8 L2650.9 1161.6 L2639.6 1169.5 L2629.3 1178.6 L2619.1 1187.6 L2608.4 1196.2 L2597.6 1204.6 L2586.1 1212.4Z" fill="#0001aa"/>
<path d="M2594.6 1201.6 L2603.7 1191.5 L2611.8 1180.2 L2620.4 1169.7 L2629.7 1159.6 L2639.5 1150.1 L2648.1 1139.6 L2657.2 1129.3 L2667.2 1120.1 L2675.7 1109.3 L2685.6 1100.0 L2694.8 1089.9 L2704.2 1080.0 L2713.6 1070.1 L2723.0 1060.2 L2732.6 1050.6 L2741.8 1040.5 L2751.3 1030.8 L2761.7 1021.9 L2770.5 1011.5 L2780.3 1001.9 L2790.6 993.0 L2799.9 983.0 L2809.4 973.3 L2819.1 963.7 L2828.7 954.0 L2838.9 945.0 L2848.8 935.6 L2858.7 926.2 L2867.9 916.1 L2877.9 906.8 L2887.5 897.3 L2897.3 887.7 L2907.1 878.3 L2916.6 868.5 L2927.1 859.8 L2937.0 850.4 L2946.3 840.4 L2956.2 831.1 L2967.2 822.7 L2976.8 813.2 L2986.8 803.9 L2996.3 794.1 L3007.1 785.7 L3016.7 776.0 L3026.3 766.3 L3036.8 757.5 L3046.9 748.4 L3056.6 738.8 L3066.8 729.7 L3077.6 721.3 L3088.0 712.4 L3098.2 703.3 L3108.4 694.3 L3118.7 685.2 L3129.4 676.7 L3140.1 668.1 L3149.7 658.5 L3161.3 650.8 L3172.0 642.3 L3182.5 633.4 L3183.6 634.6 L3176.0 646.3 L3167.4 656.9 L3157.5 666.3 L3149.4 677.5 L3140.1 687.4 L3130.6 697.2 L3121.6 707.4 L3112.4 717.5 L3103.2 727.6 L3093.7 737.3 L3083.7 746.6 L3074.2 756.4 L3065.3 766.7 L3055.8 776.5 L3045.9 785.9 L3036.9 796.1 L3027.8 806.3 L3017.4 815.2 L3008.3 825.4 L2998.7 835.0 L2989.3 844.9 L2978.7 853.5 L2968.9 863.1 L2959.9 873.3 L2950.1 882.8 L2939.7 891.7 L2930.3 901.5 L2920.4 910.9 L2910.6 920.4 L2900.8 929.8 L2891.0 939.3 L2881.9 949.4 L2872.0 958.8 L2862.0 968.1 L2851.7 977.1 L2842.0 986.6 L2832.1 996.0 L2822.3 1005.4 L2812.7 1015.1 L2802.1 1023.8 L2792.0 1033.0 L2782.8 1043.0 L2771.9 1051.4 L2761.9 1060.7 L2752.2 1070.2 L2742.0 1079.3 L2731.9 1088.5 L2721.9 1097.7 L2711.7 1106.8 L2701.7 1116.0 L2690.8 1124.5 L2681.4 1134.3 L2670.3 1142.5 L2660.1 1151.5 L2650.2 1160.9 L2639.0 1169.0 L2628.3 1177.5 L2617.8 1186.3 L2607.7 1195.5 L2595.7 1202.7Z" fill="#0002b1"/>
<path d="M2604.3 1192.1 L2612.5 1181.0 L2621.8 1171.0 L2631.3 1161.2 L2640.0 1150.7 L2649.5 1140.9 L2657.9 1130.1 L2666.9 1119.8 L2676.4 1110.1 L2686.5 1100.9 L2695.6 1090.7 L2704.4 1080.2 L2713.9 1070.4 L2724.3 1061.6 L2733.7 1051.7 L2742.7 1041.4 L2752.8 1032.2 L2761.6 1021.8 L2771.9 1012.9 L2780.6 1002.3 L2790.9 993.3 L2799.9 983.0 L2809.7 973.6 L2819.3 963.9 L2829.9 955.2 L2839.6 945.7 L2848.8 935.6 L2858.8 926.3 L2869.0 917.3 L2878.7 907.7 L2888.7 898.4 L2897.6 888.1 L2907.9 879.1 L2917.2 869.2 L2927.9 860.5 L2937.9 851.3 L2947.6 841.8 L2957.5 832.3 L2967.3 822.9 L2976.6 812.9 L2986.7 803.8 L2997.5 795.3 L3006.8 785.4 L3017.7 776.9 L3027.9 767.8 L3037.4 758.2 L3048.1 749.5 L3058.2 740.4 L3068.3 731.3 L3078.1 721.7 L3088.4 712.8 L3098.4 703.5 L3109.0 694.8 L3119.3 685.9 L3129.8 677.1 L3141.0 669.1 L3151.3 660.1 L3162.3 651.8 L3173.6 643.8 L3174.7 645.0 L3166.2 655.7 L3157.3 666.1 L3148.7 676.7 L3138.9 686.2 L3129.8 696.4 L3120.7 706.5 L3111.2 716.3 L3102.2 726.6 L3092.9 736.5 L3084.0 746.9 L3074.7 756.9 L3065.2 766.7 L3055.3 776.0 L3046.3 786.3 L3036.8 796.0 L3026.4 805.0 L3017.6 815.4 L3007.2 824.2 L2997.4 833.8 L2988.5 844.1 L2979.0 853.8 L2969.4 863.5 L2959.8 873.2 L2950.0 882.6 L2939.4 891.4 L2930.2 901.4 L2919.9 910.4 L2910.9 920.6 L2900.8 929.8 L2891.2 939.5 L2881.0 948.6 L2871.1 957.9 L2861.8 967.9 L2851.9 977.3 L2841.3 985.9 L2831.5 995.3 L2821.3 1004.5 L2812.1 1014.5 L2801.4 1023.1 L2792.4 1033.3 L2781.7 1041.9 L2772.4 1051.8 L2761.7 1060.5 L2752.2 1070.2 L2742.1 1079.4 L2731.0 1087.6 L2720.8 1096.6 L2711.3 1106.3 L2701.3 1115.6 L2690.3 1123.9 L2679.7 1132.6 L2669.6 1141.8 L2660.0 1151.4 L2649.1 1159.8 L2638.9 1168.9 L2627.7 1177.0 L2616.4 1184.9 L2605.4 1193.2Z" fill="#0004b6"/>
<path d="M2614.6 1183.1 L2623.2 1172.4 L2632.2 1162.2 L2641.0 1151.7 L2650.0 1141.5 L2658.8 1130.9 L2668.1 1121.0 L2677.8 1111.4 L2687.0 1101.4 L2695.8 1090.8 L2705.7 1081.5 L2715.2 1071.8 L2724.5 1061.8 L2733.4 1051.4 L2743.4 1042.2 L2752.9 1032.4 L2762.3 1022.5 L2772.0 1013.0 L2782.0 1003.6 L2791.1 993.5 L2801.0 984.2 L2811.1 974.9 L2820.0 964.6 L2830.4 955.8 L2839.3 945.4 L2849.2 936.0 L2859.0 926.5 L2868.9 917.2 L2879.1 908.1 L2888.7 898.4 L2898.9 889.4 L2908.1 879.2 L2917.7 869.6 L2927.5 860.2 L2937.3 850.7 L2948.2 842.3 L2957.6 832.4 L2967.5 823.1 L2977.3 813.7 L2987.1 804.1 L2997.5 795.3 L3007.5 786.0 L3017.9 777.2 L3028.1 768.1 L3038.2 758.9 L3047.8 749.3 L3058.6 740.8 L3068.6 731.5 L3078.9 722.5 L3089.7 714.1 L3099.5 704.6 L3110.1 696.0 L3120.2 686.8 L3131.3 678.6 L3141.5 669.6 L3152.5 661.3 L3163.2 652.7 L3164.2 653.7 L3156.3 665.1 L3147.3 675.3 L3138.7 686.1 L3129.1 695.7 L3120.3 706.2 L3110.9 716.0 L3102.2 726.6 L3092.4 736.0 L3083.0 745.9 L3073.9 756.1 L3063.8 765.3 L3054.9 775.6 L3045.5 785.5 L3035.9 795.1 L3026.0 804.5 L3016.5 814.3 L3006.5 823.6 L2997.2 833.5 L2987.7 843.3 L2978.1 852.9 L2968.9 863.1 L2958.3 871.7 L2948.7 881.4 L2938.9 890.9 L2929.4 900.6 L2920.3 910.8 L2910.1 919.8 L2900.3 929.3 L2890.3 938.5 L2880.4 947.9 L2870.6 957.4 L2860.6 966.7 L2851.6 976.9 L2840.9 985.6 L2831.8 995.7 L2821.5 1004.7 L2811.3 1013.8 L2801.8 1023.5 L2791.5 1032.4 L2781.3 1041.6 L2771.4 1050.9 L2761.4 1060.1 L2750.8 1068.8 L2741.2 1078.5 L2731.3 1087.8 L2720.9 1096.8 L2710.2 1105.2 L2700.5 1114.9 L2690.3 1123.9 L2679.5 1132.4 L2669.0 1141.1 L2659.0 1150.4 L2648.4 1159.1 L2638.0 1168.0 L2627.0 1176.2 L2615.6 1184.1Z" fill="#0109ba"/>
<path d="M2624.8 1174.0 L2632.3 1162.3 L2641.6 1152.3 L2650.9 1142.3 L2660.3 1132.4 L2669.1 1122.0 L2678.1 1111.7 L2687.4 1101.8 L2697.0 1092.1 L2706.2 1082.0 L2716.0 1072.5 L2725.3 1062.5 L2734.6 1052.6 L2743.8 1042.6 L2753.5 1033.0 L2763.2 1023.4 L2772.5 1013.4 L2782.4 1004.1 L2791.7 994.1 L2801.8 985.0 L2810.5 974.4 L2821.1 965.7 L2830.7 956.1 L2840.2 946.3 L2849.9 936.7 L2860.0 927.6 L2869.9 918.2 L2879.3 908.3 L2888.9 898.7 L2898.4 888.8 L2908.7 879.9 L2918.5 870.4 L2928.4 861.1 L2938.1 851.5 L2948.4 842.5 L2958.3 833.1 L2967.8 823.4 L2978.4 814.8 L2988.7 805.7 L2998.5 796.3 L3007.8 786.3 L3018.4 777.7 L3028.1 768.1 L3038.1 758.8 L3048.8 750.2 L3059.2 741.3 L3068.9 731.9 L3079.3 723.0 L3089.7 714.0 L3100.7 705.8 L3110.6 696.4 L3120.7 687.3 L3131.5 678.8 L3142.8 670.8 L3153.8 662.6 L3154.8 663.6 L3146.4 674.5 L3137.1 684.4 L3127.9 694.5 L3119.3 705.1 L3110.6 715.8 L3100.8 725.1 L3091.5 735.1 L3082.0 745.0 L3073.1 755.3 L3063.6 765.0 L3053.7 774.4 L3044.3 784.3 L3035.3 794.6 L3025.2 803.7 L3016.5 814.3 L3007.1 824.2 L2997.3 833.6 L2987.1 842.6 L2977.8 852.7 L2968.2 862.3 L2958.1 871.5 L2948.6 881.3 L2938.9 890.8 L2929.2 900.4 L2918.8 909.3 L2909.4 919.1 L2899.7 928.7 L2890.3 938.6 L2880.5 948.1 L2870.3 957.1 L2860.5 966.6 L2851.0 976.3 L2841.1 985.7 L2830.3 994.2 L2821.4 1004.5 L2810.9 1013.3 L2801.2 1022.9 L2790.9 1031.9 L2781.2 1041.4 L2770.9 1050.4 L2760.7 1059.4 L2750.8 1068.9 L2740.8 1078.1 L2730.8 1087.3 L2720.2 1096.0 L2710.1 1105.2 L2699.6 1113.9 L2689.2 1122.8 L2679.0 1131.9 L2668.9 1141.1 L2658.1 1149.6 L2647.2 1157.9 L2636.0 1165.9 L2625.7 1174.9Z" fill="#020ebe"/>
<path d="M2633.9 1163.8 L2643.1 1153.8 L2651.6 1143.0 L2660.3 1132.4 L2669.6 1122.4 L2678.4 1112.0 L2688.6 1102.9 L2697.0 1092.0 L2706.5 1082.3 L2716.2 1072.8 L2725.2 1062.5 L2734.8 1052.8 L2744.7 1043.4 L2754.1 1033.5 L2763.4 1023.6 L2773.4 1014.3 L2783.1 1004.8 L2792.2 994.6 L2801.6 984.7 L2811.8 975.7 L2821.3 965.9 L2830.6 955.9 L2841.0 947.1 L2850.6 937.4 L2860.6 928.2 L2869.6 917.8 L2880.0 909.0 L2889.4 899.1 L2898.9 889.4 L2908.7 879.9 L2919.3 871.3 L2928.5 861.2 L2939.0 852.4 L2948.8 842.9 L2958.7 833.6 L2969.0 824.6 L2978.6 814.9 L2989.1 806.1 L2998.6 796.4 L3009.0 787.5 L3018.8 778.1 L3029.5 769.5 L3039.0 759.8 L3049.1 750.5 L3059.3 741.5 L3069.8 732.7 L3080.0 723.6 L3090.9 715.3 L3100.6 705.8 L3111.5 697.3 L3122.2 688.8 L3132.3 679.6 L3144.5 672.6 L3145.3 673.3 L3135.8 683.1 L3127.6 694.2 L3118.5 704.3 L3109.0 714.2 L3100.5 724.9 L3090.7 734.4 L3081.6 744.5 L3072.1 754.2 L3062.6 764.1 L3053.4 774.1 L3044.6 784.6 L3034.5 793.8 L3025.3 803.9 L3015.5 813.3 L3006.4 823.5 L2996.4 832.8 L2987.2 842.8 L2977.3 852.1 L2967.6 861.7 L2958.1 871.5 L2947.8 880.5 L2938.8 890.7 L2928.3 899.5 L2918.5 909.0 L2908.9 918.7 L2899.4 928.4 L2889.1 937.4 L2880.2 947.7 L2870.1 956.9 L2860.5 966.5 L2849.9 975.2 L2840.4 985.0 L2830.6 994.5 L2820.1 1003.3 L2810.4 1012.8 L2800.9 1022.6 L2790.7 1031.7 L2780.3 1040.5 L2770.4 1049.9 L2760.4 1059.2 L2749.8 1067.8 L2739.6 1076.9 L2729.8 1086.3 L2719.2 1095.0 L2708.7 1103.8 L2699.3 1113.7 L2688.0 1121.6 L2677.9 1130.8 L2667.3 1139.4 L2657.0 1148.4 L2646.6 1157.3 L2634.6 1164.6Z" fill="#0415c0"/>
<path d="M2643.9 1154.6 L2652.5 1143.9 L2661.9 1134.0 L2670.0 1122.9 L2679.8 1113.4 L2688.9 1103.2 L2697.8 1092.9 L2707.5 1083.3 L2716.3 1072.8 L2726.3 1063.6 L2735.1 1053.1 L2744.6 1043.4 L2754.2 1033.7 L2763.7 1023.9 L2773.2 1014.1 L2783.0 1004.7 L2792.8 995.2 L2802.7 985.9 L2811.7 975.6 L2821.5 966.1 L2831.7 957.0 L2841.0 947.0 L2851.0 937.8 L2861.0 928.6 L2870.3 918.5 L2880.1 909.1 L2890.2 899.9 L2899.3 889.8 L2909.5 880.7 L2919.6 871.5 L2929.2 861.8 L2939.1 852.5 L2948.7 842.8 L2959.2 834.0 L2968.9 824.5 L2979.5 815.8 L2989.2 806.3 L2998.8 796.6 L3009.8 788.3 L3019.0 778.2 L3029.7 769.7 L3040.0 760.7 L3050.3 751.7 L3059.7 741.9 L3070.9 733.8 L3081.1 724.7 L3090.8 715.2 L3102.4 707.5 L3112.3 698.1 L3123.4 690.0 L3134.0 681.3 L3134.5 681.8 L3126.7 693.2 L3117.5 703.3 L3109.1 714.2 L3098.9 723.3 L3090.4 734.1 L3081.3 744.3 L3071.1 753.3 L3062.6 764.0 L3053.1 773.9 L3043.6 783.6 L3033.6 792.8 L3025.0 803.6 L3014.6 812.4 L3005.5 822.6 L2996.2 832.6 L2986.1 841.7 L2976.7 851.6 L2966.6 860.7 L2957.2 870.7 L2947.5 880.2 L2938.1 890.0 L2928.1 899.3 L2918.0 908.4 L2908.9 918.6 L2898.6 927.6 L2888.9 937.2 L2879.7 947.2 L2869.6 956.4 L2859.5 965.5 L2850.0 975.3 L2839.6 984.2 L2829.6 993.4 L2820.3 1003.4 L2810.0 1012.4 L2799.8 1021.5 L2789.5 1030.4 L2779.5 1039.7 L2769.4 1048.9 L2759.2 1057.9 L2749.0 1067.0 L2739.5 1076.8 L2728.6 1085.1 L2718.9 1094.7 L2708.2 1103.3 L2698.2 1112.6 L2687.9 1121.5 L2676.8 1129.6 L2667.0 1139.2 L2655.8 1147.2 L2644.4 1155.1Z" fill="#061dc2"/>
<path d="M2662.2 1134.4 L2671.4 1124.3 L2680.3 1113.9 L2689.3 1103.7 L2698.8 1093.9 L2708.3 1084.1 L2717.2 1073.8 L2727.1 1064.4 L2735.8 1053.8 L2746.1 1044.8 L2755.5 1034.9 L2765.0 1025.2 L2774.5 1015.4 L2783.7 1005.4 L2793.0 995.4 L2802.8 985.9 L2812.8 976.7 L2822.6 967.2 L2831.9 957.3 L2841.9 948.0 L2851.8 938.6 L2860.5 928.0 L2871.0 919.3 L2880.2 909.2 L2890.4 900.2 L2900.2 890.7 L2909.9 881.1 L2919.5 871.4 L2930.0 862.6 L2939.6 853.0 L2950.2 844.3 L2959.4 834.2 L2970.0 825.6 L2979.2 815.5 L2990.1 807.2 L3000.2 798.0 L3010.1 788.6 L3020.3 779.6 L3030.4 770.4 L3040.4 761.1 L3050.7 752.1 L3061.5 743.6 L3071.0 733.9 L3081.5 725.1 L3092.2 716.6 L3103.2 708.3 L3112.9 698.8 L3116.0 701.8 L3108.1 713.2 L3098.7 723.1 L3089.3 732.9 L3080.0 742.9 L3071.5 753.7 L3061.7 763.1 L3052.3 773.0 L3043.1 783.1 L3033.7 793.0 L3024.1 802.7 L3014.9 812.7 L3005.3 822.4 L2994.9 831.2 L2986.1 841.7 L2975.9 850.8 L2967.0 861.1 L2956.7 870.1 L2947.3 880.0 L2937.0 888.9 L2927.6 898.8 L2918.0 908.4 L2908.2 917.9 L2897.9 926.9 L2888.7 937.0 L2878.2 945.7 L2869.4 956.3 L2859.4 965.5 L2849.3 974.6 L2839.7 984.3 L2829.6 993.5 L2819.3 1002.4 L2809.2 1011.6 L2799.4 1021.1 L2789.7 1030.6 L2779.6 1039.9 L2769.5 1049.0 L2759.5 1058.2 L2748.5 1066.5 L2738.9 1076.2 L2728.2 1084.8 L2718.3 1094.1 L2707.8 1102.9 L2697.1 1111.5 L2686.7 1120.3 L2676.3 1129.2 L2665.3 1137.4Z" fill="#0926c3"/>
<path d="M2672.8 1125.7 L2681.6 1115.2 L2690.7 1105.0 L2699.4 1094.5 L2709.0 1084.8 L2717.9 1074.4 L2727.4 1064.6 L2736.8 1054.8 L2745.8 1044.5 L2755.6 1035.1 L2764.6 1024.8 L2774.3 1015.2 L2784.6 1006.3 L2793.2 995.6 L2803.4 986.5 L2812.9 976.7 L2823.1 967.7 L2832.4 957.7 L2841.7 947.8 L2851.3 938.1 L2861.7 929.2 L2870.9 919.2 L2881.0 910.0 L2891.4 901.2 L2900.2 890.7 L2910.5 881.7 L2920.2 872.1 L2930.8 863.5 L2940.2 853.6 L2949.8 844.0 L2960.0 834.8 L2970.5 826.1 L2980.6 816.9 L2989.9 806.9 L3000.4 798.2 L3011.0 789.5 L3020.7 780.0 L3031.3 771.3 L3040.9 761.6 L3051.2 752.7 L3062.1 744.3 L3071.8 734.7 L3082.1 725.7 L3093.2 717.6 L3103.9 709.1 L3106.7 711.8 L3097.8 722.2 L3088.2 731.8 L3079.3 742.2 L3070.7 752.9 L3060.8 762.3 L3051.5 772.2 L3042.7 782.7 L3032.9 792.1 L3023.9 802.4 L3013.9 811.7 L3004.0 821.0 L2995.2 831.5 L2985.6 841.2 L2975.5 850.3 L2965.7 859.8 L2956.3 869.7 L2947.2 879.9 L2936.8 888.7 L2927.2 898.5 L2917.0 907.5 L2908.3 918.0 L2897.8 926.8 L2887.7 936.0 L2878.5 946.0 L2868.1 954.9 L2858.3 964.4 L2848.7 974.1 L2839.2 983.9 L2828.7 992.6 L2818.9 1002.0 L2808.3 1010.7 L2799.2 1020.9 L2788.4 1029.3 L2778.1 1038.3 L2768.5 1047.9 L2757.9 1056.7 L2748.2 1066.2 L2737.9 1075.2 L2727.5 1084.0 L2717.6 1093.4 L2706.8 1101.9 L2696.8 1111.2 L2686.2 1119.8 L2675.6 1128.4Z" fill="#0f34bc"/>
<path d="M2682.2 1115.8 L2691.0 1105.4 L2700.0 1095.1 L2710.1 1085.9 L2718.6 1075.1 L2728.5 1065.8 L2737.4 1055.4 L2746.4 1045.1 L2756.6 1036.1 L2765.8 1026.0 L2775.3 1016.2 L2784.3 1006.0 L2793.8 996.2 L2804.1 987.2 L2813.4 977.2 L2822.8 967.4 L2832.5 957.8 L2842.9 948.9 L2852.7 939.5 L2862.0 929.6 L2871.2 919.5 L2882.1 911.1 L2891.1 900.8 L2901.5 891.9 L2911.0 882.2 L2920.6 872.6 L2931.1 863.7 L2940.4 853.7 L2950.7 844.8 L2960.9 835.8 L2970.9 826.5 L2980.7 817.0 L2990.5 807.6 L3000.9 798.7 L3011.2 789.7 L3021.1 780.4 L3031.2 771.2 L3041.3 762.1 L3052.4 753.9 L3062.2 744.4 L3073.4 736.3 L3083.1 726.7 L3093.8 718.2 L3096.2 720.6 L3087.3 731.0 L3079.2 742.1 L3069.3 751.5 L3060.6 762.1 L3050.5 771.2 L3041.3 781.3 L3032.0 791.3 L3022.9 801.4 L3013.2 811.0 L3003.4 820.5 L2994.2 830.5 L2984.9 840.5 L2975.3 850.2 L2965.5 859.6 L2955.5 868.9 L2946.4 879.1 L2936.2 888.1 L2926.8 898.0 L2917.3 907.8 L2906.9 916.7 L2897.9 926.9 L2887.1 935.3 L2877.9 945.4 L2868.5 955.3 L2858.4 964.5 L2847.9 973.2 L2837.9 982.5 L2828.1 992.0 L2818.5 1001.6 L2807.8 1010.2 L2797.8 1019.5 L2788.3 1029.2 L2778.2 1038.4 L2768.3 1047.7 L2757.3 1056.1 L2747.5 1065.5 L2737.7 1075.0 L2726.8 1083.3 L2717.1 1092.9 L2705.8 1100.9 L2695.3 1109.6 L2684.6 1118.2Z" fill="#1743b3"/>
<path d="M2692.9 1107.3 L2700.8 1095.9 L2710.7 1086.5 L2720.1 1076.6 L2729.0 1066.3 L2737.8 1055.8 L2747.6 1046.4 L2756.7 1036.2 L2765.9 1026.1 L2775.4 1016.4 L2784.8 1006.4 L2794.9 997.3 L2804.9 988.0 L2814.4 978.2 L2823.3 967.9 L2833.6 959.0 L2842.9 949.0 L2852.8 939.6 L2862.4 929.9 L2872.0 920.3 L2882.4 911.4 L2891.6 901.3 L2901.3 891.7 L2911.7 882.9 L2921.7 873.6 L2931.2 863.9 L2941.2 854.6 L2950.8 844.9 L2961.5 836.4 L2971.7 827.3 L2980.8 817.2 L2991.0 808.0 L3001.1 798.9 L3011.9 790.5 L3021.5 780.8 L3031.8 771.8 L3042.4 763.1 L3053.0 754.4 L3063.6 745.8 L3073.7 736.6 L3084.9 728.5 L3086.9 730.5 L3077.6 740.5 L3069.0 751.2 L3059.6 761.1 L3050.1 770.9 L3040.5 780.5 L3031.1 790.4 L3022.4 800.9 L3012.3 810.1 L3002.7 819.8 L2993.2 829.5 L2984.6 840.2 L2974.9 849.7 L2964.5 858.7 L2955.3 868.7 L2945.6 878.3 L2936.2 888.2 L2926.5 897.7 L2916.1 906.6 L2906.5 916.2 L2897.3 926.3 L2886.9 935.2 L2877.3 944.8 L2867.6 954.4 L2857.5 963.6 L2848.0 973.3 L2837.3 981.9 L2828.1 992.0 L2818.2 1001.3 L2807.7 1010.1 L2797.1 1018.8 L2787.2 1028.2 L2777.1 1037.3 L2767.1 1046.6 L2757.3 1056.0 L2746.5 1064.5 L2736.7 1074.0 L2726.7 1083.3 L2716.1 1091.9 L2704.7 1099.8 L2695.0 1109.3Z" fill="#1c51a9"/>
<path d="M2702.3 1097.4 L2711.2 1087.0 L2720.8 1077.3 L2729.5 1066.8 L2738.8 1056.8 L2748.2 1046.9 L2757.3 1036.8 L2767.2 1027.4 L2775.9 1016.8 L2785.7 1007.4 L2795.8 998.2 L2804.8 987.9 L2814.2 978.1 L2824.0 968.6 L2833.9 959.2 L2843.2 949.2 L2853.7 940.5 L2862.6 930.1 L2873.3 921.5 L2882.1 911.1 L2892.7 902.4 L2901.6 892.1 L2912.0 883.2 L2922.5 874.4 L2932.1 864.8 L2942.0 855.4 L2951.4 845.5 L2961.8 836.7 L2971.9 827.5 L2981.9 818.3 L2991.8 808.8 L3001.8 799.6 L3012.2 790.8 L3023.1 782.4 L3033.0 773.0 L3043.2 763.9 L3053.2 754.6 L3064.0 746.2 L3075.5 738.4 L3077.0 739.9 L3067.5 749.7 L3058.1 759.6 L3049.4 770.1 L3040.2 780.2 L3031.4 790.6 L3021.3 799.9 L3011.7 809.5 L3002.3 819.4 L2993.1 829.4 L2983.7 839.3 L2974.0 848.9 L2964.0 858.2 L2955.0 868.4 L2945.4 878.1 L2936.0 887.9 L2925.8 897.0 L2915.5 905.9 L2906.6 916.4 L2896.0 925.0 L2887.2 935.5 L2876.5 944.0 L2867.5 954.3 L2856.7 962.8 L2847.2 972.5 L2837.0 981.6 L2826.8 990.7 L2817.0 1000.1 L2807.5 1009.9 L2796.9 1018.5 L2786.4 1027.4 L2777.1 1037.3 L2766.4 1045.9 L2756.4 1055.2 L2746.1 1064.1 L2735.7 1073.0 L2725.7 1082.2 L2714.7 1090.5 L2703.9 1099.0Z" fill="#20609d"/>
<path d="M2712.4 1088.2 L2721.4 1077.9 L2730.1 1067.4 L2739.7 1057.7 L2748.9 1047.7 L2758.4 1037.9 L2767.4 1027.6 L2776.9 1017.9 L2786.9 1008.6 L2796.2 998.7 L2805.6 988.7 L2815.3 979.1 L2824.7 969.3 L2834.4 959.7 L2843.5 949.6 L2853.8 940.6 L2863.2 930.7 L2873.8 922.0 L2883.4 912.4 L2892.3 902.1 L2902.2 892.7 L2912.4 883.6 L2922.0 873.9 L2932.7 865.4 L2942.8 856.2 L2952.5 846.6 L2962.3 837.2 L2972.8 828.4 L2982.1 818.4 L2992.6 809.7 L3002.9 800.7 L3013.0 791.5 L3022.9 782.2 L3033.7 773.6 L3044.6 765.3 L3054.5 756.0 L3065.7 747.9 L3066.6 748.8 L3057.5 758.9 L3049.1 769.8 L3039.4 779.3 L3029.7 789.0 L3020.7 799.2 L3011.4 809.2 L3001.9 818.9 L2992.0 828.3 L2983.3 838.9 L2973.4 848.2 L2964.0 858.1 L2954.7 868.1 L2945.0 877.6 L2934.5 886.5 L2925.1 896.3 L2915.1 905.6 L2905.3 915.0 L2896.3 925.3 L2886.7 935.0 L2876.0 943.6 L2866.5 953.3 L2856.0 962.1 L2846.6 972.0 L2836.6 981.2 L2826.8 990.6 L2816.6 999.8 L2806.8 1009.2 L2796.9 1018.5 L2786.2 1027.1 L2776.0 1036.2 L2766.1 1045.6 L2755.7 1054.4 L2745.4 1063.4 L2734.6 1071.8 L2724.3 1080.9 L2713.3 1089.2Z" fill="#267093"/>
<path d="M2731.4 1068.7 L2740.8 1058.9 L2749.8 1048.5 L2759.3 1038.8 L2768.1 1028.3 L2777.7 1018.6 L2787.4 1009.0 L2796.5 998.9 L2806.5 989.7 L2815.6 979.5 L2825.3 969.9 L2834.4 959.7 L2844.6 950.7 L2854.3 941.1 L2864.0 931.6 L2873.4 921.7 L2884.1 913.1 L2893.2 902.9 L2903.4 893.9 L2913.0 884.2 L2923.0 874.9 L2933.1 865.8 L2943.2 856.6 L2953.4 847.5 L2963.0 837.9 L2972.9 828.5 L2982.7 819.0 L2993.0 810.0 L3004.0 801.8 L3013.3 791.8 L3023.7 782.9 L3034.9 774.8 L3044.8 765.5 L3047.2 767.9 L3038.8 778.8 L3028.8 788.1 L3019.5 798.1 L3011.2 809.0 L3000.9 818.0 L2991.3 827.6 L2982.2 837.7 L2972.9 847.7 L2963.7 857.8 L2954.0 867.4 L2944.2 876.9 L2934.4 886.4 L2924.6 895.8 L2915.2 905.7 L2905.1 914.8 L2895.9 925.0 L2885.3 933.6 L2875.9 943.4 L2865.9 952.7 L2856.0 962.1 L2845.5 970.9 L2836.1 980.7 L2826.0 989.9 L2816.4 999.5 L2805.8 1008.2 L2796.0 1017.7 L2785.6 1026.6 L2775.2 1035.4 L2765.6 1045.0 L2754.9 1053.7 L2744.8 1062.8 L2733.8 1071.1Z" fill="#2c818a"/>
<path d="M2741.5 1059.5 L2751.1 1049.8 L2759.4 1038.9 L2768.8 1029.0 L2778.3 1019.2 L2788.1 1009.8 L2797.3 999.7 L2806.3 989.4 L2816.6 980.4 L2826.2 970.8 L2835.0 960.3 L2844.6 950.7 L2855.3 942.1 L2864.4 931.9 L2874.6 922.9 L2884.6 913.6 L2894.3 904.0 L2903.2 893.7 L2913.2 884.4 L2923.2 875.1 L2933.7 866.3 L2943.4 856.8 L2953.9 848.1 L2963.7 838.6 L2974.0 829.6 L2984.2 820.5 L2994.5 811.6 L3004.5 802.3 L3015.0 793.6 L3025.0 784.3 L3035.8 775.8 L3037.5 777.5 L3028.3 787.6 L3019.6 798.1 L3010.1 807.9 L3001.1 818.1 L2991.5 827.8 L2982.0 837.6 L2972.3 847.2 L2963.1 857.2 L2953.0 866.4 L2943.6 876.3 L2933.5 885.4 L2923.7 894.9 L2914.0 904.4 L2905.1 914.8 L2895.5 924.5 L2885.5 933.7 L2875.1 942.6 L2865.8 952.6 L2854.9 961.0 L2844.9 970.3 L2835.8 980.4 L2825.7 989.6 L2814.9 998.0 L2805.3 1007.7 L2795.4 1017.1 L2784.8 1025.7 L2774.4 1034.6 L2764.0 1043.5 L2754.4 1053.1 L2743.2 1061.2Z" fill="#359680"/>
<path d="M2752.3 1051.0 L2760.2 1039.7 L2769.8 1030.0 L2779.7 1020.6 L2788.9 1010.6 L2797.7 1000.1 L2807.3 990.5 L2816.7 980.6 L2826.8 971.4 L2836.6 961.9 L2845.2 951.3 L2855.9 942.7 L2865.3 932.8 L2874.9 923.1 L2884.4 913.4 L2894.5 904.2 L2904.2 894.7 L2913.6 884.8 L2924.3 876.3 L2933.8 866.4 L2944.1 857.5 L2954.1 848.2 L2964.0 838.8 L2974.6 830.2 L2984.2 820.5 L2995.3 812.3 L3005.2 803.0 L3016.1 794.6 L3026.4 785.7 L3027.3 786.6 L3018.7 797.2 L3009.1 806.9 L3000.2 817.3 L2990.0 826.3 L2981.2 836.8 L2971.3 846.1 L2962.0 856.1 L2952.5 865.9 L2942.6 875.2 L2933.5 885.4 L2923.1 894.3 L2913.8 904.3 L2904.2 914.0 L2894.1 923.1 L2884.6 932.9 L2874.9 942.4 L2865.3 952.2 L2854.3 960.4 L2845.3 970.7 L2835.1 979.7 L2824.6 988.5 L2814.6 997.7 L2804.3 1006.7 L2794.8 1016.5 L2784.7 1025.6 L2773.7 1033.9 L2762.8 1042.3 L2753.2 1051.9Z" fill="#40ae73"/>
<path d="M2770.9 1031.1 L2780.4 1021.3 L2789.6 1011.3 L2798.2 1000.6 L2808.5 991.6 L2817.3 981.1 L2826.6 971.2 L2837.3 962.6 L2846.7 952.7 L2856.1 942.9 L2865.4 932.9 L2875.1 923.3 L2885.3 914.3 L2895.0 904.8 L2904.8 895.3 L2914.4 885.6 L2925.1 877.0 L2934.6 867.2 L2944.4 857.8 L2955.1 849.2 L2965.3 840.2 L2974.6 830.2 L2985.6 822.0 L2995.6 812.7 L3006.5 804.3 L3008.3 806.1 L2998.8 815.9 L2989.8 826.2 L2979.7 835.3 L2971.1 846.0 L2961.5 855.7 L2951.5 864.9 L2942.1 874.7 L2933.0 884.9 L2922.6 893.8 L2913.2 903.7 L2903.6 913.3 L2893.9 922.9 L2883.6 931.9 L2873.8 941.3 L2864.3 951.1 L2854.6 960.6 L2844.8 970.1 L2833.6 978.2 L2823.8 987.6 L2814.3 997.5 L2803.3 1005.7 L2793.8 1015.5 L2783.5 1024.5 L2772.7 1032.9Z" fill="#4cca62"/>
<path d="M2780.9 1021.8 L2790.4 1012.1 L2799.9 1002.3 L2808.7 991.8 L2818.7 982.6 L2828.1 972.7 L2837.1 962.5 L2846.8 952.8 L2856.3 943.1 L2866.8 934.3 L2875.9 924.1 L2885.3 914.3 L2895.2 904.9 L2906.0 896.5 L2915.9 887.1 L2925.9 877.8 L2935.9 868.6 L2945.1 858.5 L2955.2 849.3 L2966.0 840.9 L2976.6 832.2 L2986.3 822.7 L2997.4 814.4 L2998.1 815.1 L2988.6 824.9 L2979.9 835.5 L2970.3 845.2 L2960.2 854.3 L2950.7 864.1 L2942.1 874.7 L2932.4 884.4 L2922.9 894.1 L2913.2 903.7 L2902.5 912.3 L2892.7 921.7 L2883.2 931.5 L2874.0 941.5 L2863.3 950.1 L2853.4 959.4 L2843.3 968.6 L2833.7 978.4 L2823.7 987.6 L2812.9 996.1 L2803.2 1005.6 L2792.7 1014.4 L2781.6 1022.5Z" fill="#58dd52"/>
<path d="M2801.2 1003.6 L2809.5 992.6 L2819.6 983.5 L2828.7 973.4 L2837.7 963.0 L2848.1 954.2 L2857.6 944.4 L2866.7 934.3 L2876.7 925.0 L2886.5 915.5 L2896.1 905.9 L2906.4 896.9 L2916.4 887.6 L2925.6 877.5 L2936.2 868.8 L2946.4 859.8 L2956.3 850.5 L2966.9 841.8 L2977.2 832.7 L2978.3 833.9 L2969.3 844.2 L2959.7 853.8 L2950.4 863.8 L2940.8 873.5 L2930.8 882.7 L2922.0 893.2 L2912.3 902.8 L2902.2 911.9 L2892.6 921.6 L2882.8 931.0 L2872.6 940.2 L2863.2 950.0 L2853.3 959.4 L2842.3 967.7 L2832.8 977.4 L2822.9 986.8 L2811.9 995.0 L2802.4 1004.8Z" fill="#66ea41"/>
<path d="M2820.8 984.7 L2829.4 974.0 L2839.2 964.5 L2848.9 954.9 L2858.2 945.0 L2868.1 935.6 L2876.8 925.1 L2886.8 915.8 L2896.6 906.3 L2906.6 897.1 L2916.7 887.9 L2926.6 878.5 L2936.5 869.2 L2946.8 860.2 L2957.4 851.5 L2958.5 852.6 L2949.0 862.4 L2939.5 872.1 L2930.2 882.1 L2920.8 892.0 L2911.0 901.5 L2901.3 911.0 L2891.5 920.5 L2881.5 929.7 L2872.5 940.0 L2862.3 949.1 L2852.5 958.5 L2842.2 967.5 L2831.6 976.2 L2821.9 985.8Z" fill="#78f02f"/>
<path d="M2839.9 965.3 L2849.7 955.8 L2859.1 945.9 L2868.2 935.7 L2878.0 926.2 L2888.1 917.1 L2897.4 907.1 L2907.8 898.3 L2918.3 889.4 L2927.7 879.6 L2938.5 871.2 L2939.2 871.8 L2929.3 881.2 L2920.5 891.7 L2910.5 901.0 L2900.4 910.2 L2891.3 920.3 L2881.0 929.3 L2870.9 938.5 L2861.3 948.1 L2851.3 957.4 L2840.6 965.9Z" fill="#90f520"/>
<path d="M2870.3 937.8 L2879.7 928.0 L2888.8 917.8 L2898.4 908.1 L2908.4 898.9 L2908.7 899.2 L2899.3 909.0 L2890.0 919.0 L2880.7 928.9 L2870.6 938.1Z" fill="#b5f819"/>
</g>
<line x1="3591.5" y1="223" x2="3591.5" y2="460" stroke="#e2e2e2" stroke-width="1"/>
<rect x="2182" y="220.5" width="1416" height="1409.8" fill="none" stroke="#111" stroke-width="4.2"/><path d="M2536 1630.3v-20M2890 1630.3v-20M3244 1630.3v-20M2182 572.95h20M2182 925.4h20M2182 1277.85h20" stroke="#111" stroke-width="4.2" fill="none"/>
<text x="2536" y="1704" text-anchor="middle">−2</text><text x="2890" y="1704" text-anchor="middle">0</text><text x="3244" y="1704" text-anchor="middle">2</text><text x="3598" y="1704" text-anchor="middle">4</text>
<text x="2154.5" y="1655.3" text-anchor="end">−4</text><text x="2154.5" y="1302.85" text-anchor="end">−2</text><text x="2154.5" y="950.4" text-anchor="end">0</text><text x="2154.5" y="597.95" text-anchor="end">2</text><text x="2154.5" y="245.5" text-anchor="end">4</text>
<text x="2890" y="1790" text-anchor="middle">Force obtained from DFT/(eV/Å)</text>
<text transform="translate(2049.5 932) rotate(-90)" text-anchor="middle">Force obtained from DP/(eV/Å)</text>
<text x="2890" y="1896" text-anchor="middle">(b) Force</text>
<text x="2347" y="349"><tspan class="i">δ</tspan><tspan class="s" dy="14">MAE,f</tspan><tspan dy="-14">=0.048 eV/Å</tspan></text>
<text x="3172.5" y="1511.5"><tspan class="i">R</tspan><tspan class="s" dy="-22.5">2</tspan><tspan dy="22.5">=0.994 8</tspan></text>
</svg>
</body></html>
